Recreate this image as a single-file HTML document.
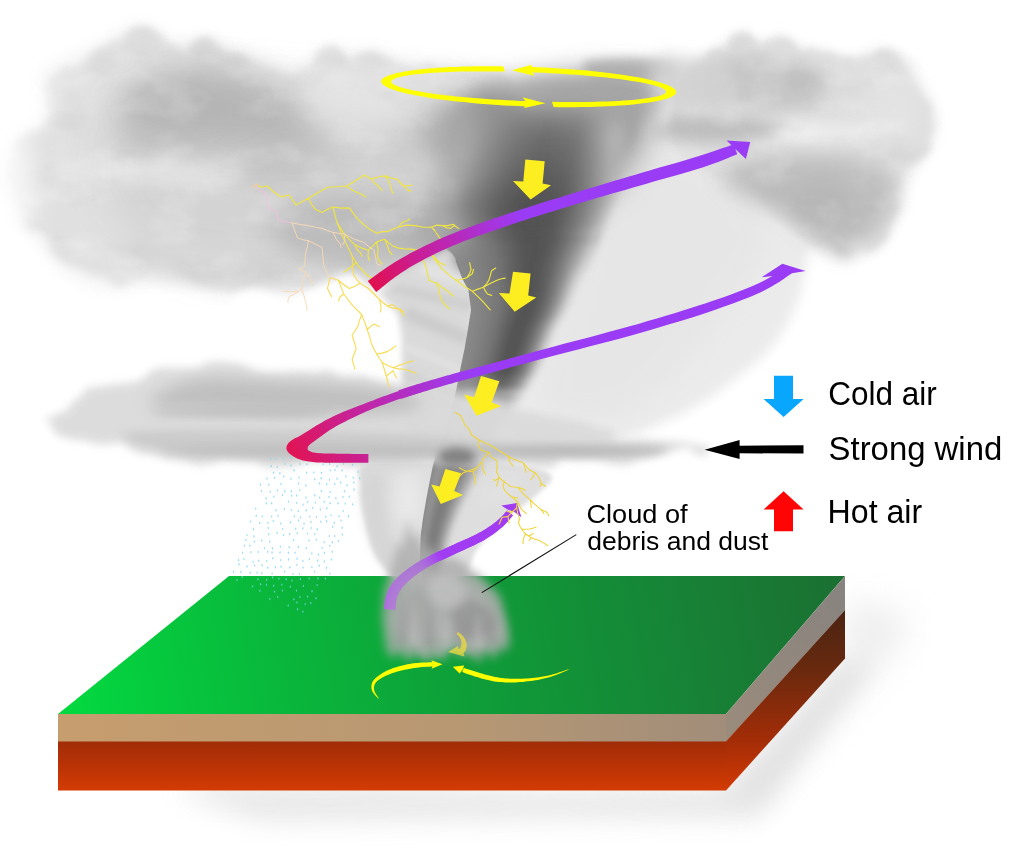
<!DOCTYPE html>
<html lang="en"><head><meta charset="utf-8"><title>Tornado formation</title>
<style>html,body{margin:0;padding:0;background:#fff;}svg{display:block;}text{font-family:"Liberation Sans",sans-serif;fill:#000;}</style></head><body>
<svg width="1024" height="850" viewBox="0 0 1024 850">
<defs>
<filter id="b1" x="-60%" y="-60%" width="220%" height="220%"><feGaussianBlur stdDeviation="1"/></filter>
<filter id="b2" x="-60%" y="-60%" width="220%" height="220%"><feGaussianBlur stdDeviation="2"/></filter>
<filter id="b3" x="-60%" y="-60%" width="220%" height="220%"><feGaussianBlur stdDeviation="3"/></filter>
<filter id="b4" x="-60%" y="-60%" width="220%" height="220%"><feGaussianBlur stdDeviation="4"/></filter>
<filter id="b5" x="-60%" y="-60%" width="220%" height="220%"><feGaussianBlur stdDeviation="5"/></filter>
<filter id="b6" x="-60%" y="-60%" width="220%" height="220%"><feGaussianBlur stdDeviation="6"/></filter>
<filter id="b8" x="-60%" y="-60%" width="220%" height="220%"><feGaussianBlur stdDeviation="8"/></filter>
<filter id="b10" x="-60%" y="-60%" width="220%" height="220%"><feGaussianBlur stdDeviation="10"/></filter>
<filter id="b12" x="-60%" y="-60%" width="220%" height="220%"><feGaussianBlur stdDeviation="12"/></filter>
<filter id="b14" x="-60%" y="-60%" width="220%" height="220%"><feGaussianBlur stdDeviation="14"/></filter>
<filter id="b16" x="-60%" y="-60%" width="220%" height="220%"><feGaussianBlur stdDeviation="16"/></filter>
<filter id="b20" x="-60%" y="-60%" width="220%" height="220%"><feGaussianBlur stdDeviation="20"/></filter>
<filter id="b26" x="-60%" y="-60%" width="220%" height="220%"><feGaussianBlur stdDeviation="26"/></filter>
<filter id="r1" x="-30%" y="-30%" width="160%" height="160%"><feTurbulence type="fractalNoise" baseFrequency="0.045" numOctaves="2" seed="3" result="n"/><feDisplacementMap in="SourceGraphic" in2="n" scale="16" xChannelSelector="R" yChannelSelector="G" result="d"/><feGaussianBlur in="d" stdDeviation="4"/></filter>
<filter id="r2" x="-30%" y="-30%" width="160%" height="160%"><feTurbulence type="fractalNoise" baseFrequency="0.045" numOctaves="2" seed="11" result="n"/><feDisplacementMap in="SourceGraphic" in2="n" scale="16" xChannelSelector="R" yChannelSelector="G" result="d"/><feGaussianBlur in="d" stdDeviation="3.5"/></filter>
<filter id="r3" x="-30%" y="-30%" width="160%" height="160%"><feTurbulence type="fractalNoise" baseFrequency="0.02 0.05" numOctaves="2" seed="5" result="n"/><feDisplacementMap in="SourceGraphic" in2="n" scale="24" xChannelSelector="R" yChannelSelector="G" result="d"/><feGaussianBlur in="d" stdDeviation="4"/></filter>
<filter id="r4" x="-30%" y="-30%" width="160%" height="160%"><feTurbulence type="fractalNoise" baseFrequency="0.06" numOctaves="3" seed="8" result="n"/><feDisplacementMap in="SourceGraphic" in2="n" scale="22" xChannelSelector="R" yChannelSelector="G" result="d"/><feGaussianBlur in="d" stdDeviation="2.2"/></filter>
<filter id="r5" x="-30%" y="-30%" width="160%" height="160%"><feTurbulence type="fractalNoise" baseFrequency="0.03" numOctaves="2" seed="21" result="n"/><feDisplacementMap in="SourceGraphic" in2="n" scale="26" xChannelSelector="R" yChannelSelector="G" result="d"/><feGaussianBlur in="d" stdDeviation="9"/></filter>
<filter id="texD" x="-5%" y="-5%" width="110%" height="110%"><feGaussianBlur in="SourceGraphic" stdDeviation="9" result="m"/><feTurbulence type="fractalNoise" baseFrequency="0.016 0.03" numOctaves="4" seed="4" result="n"/><feColorMatrix in="n" type="matrix" values="0 0 0 0 0.42  0 0 0 0 0.42  0 0 0 0 0.42  2.6 0 0 0 -1.25" result="a"/><feGaussianBlur in="a" stdDeviation="1.2" result="a2"/><feComposite in="a2" in2="m" operator="in"/></filter>
<filter id="texL" x="-5%" y="-5%" width="110%" height="110%"><feGaussianBlur in="SourceGraphic" stdDeviation="9" result="m"/><feTurbulence type="fractalNoise" baseFrequency="0.02 0.034" numOctaves="4" seed="9" result="n"/><feColorMatrix in="n" type="matrix" values="0 0 0 0 1  0 0 0 0 1  0 0 0 0 1  2.6 0 0 0 -1.25" result="a"/><feGaussianBlur in="a" stdDeviation="1.2" result="a2"/><feComposite in="a2" in2="m" operator="in"/></filter>
<linearGradient id="gGreen" gradientUnits="userSpaceOnUse" x1="70" y1="710" x2="840" y2="585"><stop offset="0" stop-color="#03d840"/><stop offset="0.22" stop-color="#08bd3c"/><stop offset="0.5" stop-color="#0e9f39"/><stop offset="0.8" stop-color="#178236"/><stop offset="1" stop-color="#1b7032"/></linearGradient>
<linearGradient id="gTan" gradientUnits="userSpaceOnUse" x1="58" y1="0" x2="728" y2="0"><stop offset="0" stop-color="#c69d6e"/><stop offset="0.6" stop-color="#b79873"/><stop offset="1" stop-color="#a18d7a"/></linearGradient>
<linearGradient id="gTanR" gradientUnits="userSpaceOnUse" x1="726" y1="728" x2="845" y2="593"><stop offset="0" stop-color="#9a8b7c"/><stop offset="1" stop-color="#88837f"/></linearGradient>
<linearGradient id="gRed" gradientUnits="userSpaceOnUse" x1="0" y1="741" x2="0" y2="791"><stop offset="0" stop-color="#a02c07"/><stop offset="1" stop-color="#d43b04"/></linearGradient>
<linearGradient id="gRedR" gradientUnits="userSpaceOnUse" x1="0" y1="610" x2="0" y2="790"><stop offset="0" stop-color="#4a2412"/><stop offset="0.3" stop-color="#65290f"/><stop offset="0.73" stop-color="#a42d07"/><stop offset="1" stop-color="#d23a04"/></linearGradient>
<linearGradient id="gP1" gradientUnits="userSpaceOnUse" x1="372" y1="287" x2="520" y2="215"><stop offset="0" stop-color="#e0104e"/><stop offset="0.35" stop-color="#c81f9a"/><stop offset="1" stop-color="#9a3cf5"/></linearGradient>
<linearGradient id="gP2" gradientUnits="userSpaceOnUse" x1="290" y1="450" x2="470" y2="375"><stop offset="0" stop-color="#e01455"/><stop offset="0.4" stop-color="#c4249f"/><stop offset="1" stop-color="#9a3cf5"/></linearGradient>
<linearGradient id="gP2b" gradientUnits="userSpaceOnUse" x1="290" y1="0" x2="369" y2="0"><stop offset="0" stop-color="#e01455"/><stop offset="1" stop-color="#c9208e"/></linearGradient>
</defs>
<rect width="1024" height="850" fill="#fff"/>
<g filter="url(#b16)" opacity="0.3">
<polygon points="200,770 726,800 760,800 905,640 905,610 845,600 845,660 726,790 200,790" fill="#c9c9c9"/>
</g>
<g filter="url(#b12)" opacity="0.42">
<polygon points="170,790 726,790 845,660 870,668 760,818 260,822" fill="#cccccc"/>
</g>
<g id="ground">
<polygon points="229,576 845,576 726,714 58,714" fill="url(#gGreen)"/>
<polygon points="58,714 726,714 726,742 58,742" fill="url(#gTan)"/>
<polygon points="726,714 845,576 845,610 726,742" fill="url(#gTanR)"/>
<polygon points="58,741.5 726,741.5 726,790.5 58,790.5" fill="url(#gRed)"/>
<polygon points="726,741.5 845,610 845,658.5 726,790.5" fill="url(#gRedR)"/>
</g>
<g id="clouds">
<path d="M610 150 L619.4 142.2 L630 136.8 L641.5 133.3 L653.4 131.6 L665.6 131.2 L677.6 131.8 L689.2 133.2 L700 135 L710.4 137.7 L720.8 142 L731.1 147.3 L741.1 153.6 L750.6 160.3 L759.6 167.1 L767.7 173.8 L775 180 L781.4 186 L787 192.3 L791.9 198.7 L796.2 205.1 L799.9 211.4 L803.1 217.4 L805.7 223 L808 228 L809.6 232.3 L810.6 235.8 L810.9 238.9 L810.7 241.7 L810.2 244.5 L809.5 247.5 L808.7 250.9 L808 255 L807.3 259.8 L806.5 265 L805.6 270.6 L804.4 276.5 L803.1 282.5 L801.6 288.5 L799.9 294.3 L798 300 L795.8 305.5 L793.5 311.1 L790.9 316.7 L788.2 322.2 L785.2 327.6 L782 332.9 L778.6 338.1 L775 343 L771.1 347.7 L766.8 352.3 L762.3 356.7 L757.6 360.9 L752.7 365.1 L747.8 369.1 L742.9 373.1 L738 377 L733.1 380.8 L728.2 384.6 L723.2 388.3 L718.2 391.9 L713.1 395.3 L708.1 398.7 L703 401.9 L698 405 L692.9 407.9 L687.8 410.8 L682.6 413.4 L677.4 416 L672.3 418.4 L667.3 420.8 L662.5 422.9 L658 425 L653.8 426.9 L650 428.5 L646.4 430 L642.9 431.4 L639.4 432.8 L635.8 434.1 L632.1 435.5 L628 437 L623.9 438.7 L619.8 440.7 L615.7 442.8 L611.5 444.9 L606.9 446.8 L601.9 448.3 L596.3 449.5 L590 450 L582.4 450.2 L573.6 450.3 L563.9 450.1 L553.9 449.6 L544 448.4 L534.7 446.6 L526.6 443.8 L520 440 L514.6 435.2 L509.6 429.5 L505.3 422.9 L501.9 415.6 L499.4 407.6 L498.2 399 L498.3 389.8 L500 380 L503.7 369.6 L509.6 358.5 L517.1 346.7 L525.6 334.4 L534.7 321.5 L543.8 308 L552.4 294.2 L560 280 L566.5 264.4 L572.3 246.9 L577.7 228.4 L583.1 209.7 L588.8 191.6 L594.9 175.1 L601.9 161Z" fill="#ebebeb" filter="url(#b6)"/>
<path d="M610 160 L618.2 152.6 L627.7 147.7 L637.9 144.8 L648.8 143.8 L659.7 144.1 L670.5 145.5 L680.7 147.6 L690 150 L698.8 153.4 L707.5 158.3 L715.9 164.4 L724.1 171.2 L731.7 178.6 L738.6 186.1 L744.8 193.3 L750 200 L754.4 206.1 L758.3 212 L761.6 217.9 L764.1 223.8 L765.7 229.8 L766.5 236.1 L766.3 242.8 L765 250 L762.3 257.8 L758.3 266.1 L753.2 274.8 L747.2 283.8 L740.6 292.9 L733.7 302 L726.8 311.1 L720 320 L713.2 329 L706.1 338.4 L698.6 348 L690.9 357.5 L683.2 366.7 L675.4 375.3 L667.6 383.2 L660 390 L652.5 396 L645 401.5 L637.5 406.4 L630 410.6 L622.5 414.2 L615 417 L607.5 418.9 L600 420 L591.9 420.5 L582.9 420.6 L573.5 420.1 L564.4 418.8 L555.9 416.3 L548.7 412.5 L543.2 407.1 L540 400 L539.4 390.7 L540.9 379.3 L544.2 366.2 L548.8 351.9 L554.1 336.7 L559.7 321 L565.2 305.3 L570 290 L574.2 273.9 L578.4 256.1 L582.5 237.4 L586.9 218.8 L591.6 200.8 L597 184.5 L603 170.6Z" fill="#e2e2e2" filter="url(#b12)" opacity="0.5"/>
<path d="M39 80 L40.4 77.1 L42.2 74.6 L44.6 72.2 L47.2 70 L50.2 67.9 L53.4 65.9 L56.7 64 L60 62 L63.6 60 L67.7 58 L72.1 56.1 L76.6 54.2 L81 52.5 L85.1 50.8 L88.9 49.3 L92 48 L94.4 46.9 L96.3 46.1 L97.8 45.4 L99 44.8 L100.1 44.3 L101.2 43.7 L102.4 42.9 L104 42 L105.8 40.8 L107.6 39.5 L109.5 38.1 L111.4 36.6 L113.5 35.1 L115.6 33.6 L117.7 32.2 L120 31 L122.4 29.8 L125 28.6 L127.7 27.5 L130.4 26.4 L133.2 25.4 L135.9 24.7 L138.5 24.2 L141 24 L143.3 24.2 L145.6 24.7 L147.8 25.5 L149.9 26.5 L152 27.6 L154.1 28.8 L156 29.9 L158 31 L159.9 32.1 L161.7 33.3 L163.5 34.6 L165.2 35.9 L166.9 37.1 L168.6 38.3 L170.3 39.2 L172 40 L173.7 40.6 L175.4 41 L177.1 41.3 L178.8 41.4 L180.5 41.5 L182.2 41.4 L184.1 41.3 L186 41 L188.1 40.5 L190.2 39.7 L192.5 38.6 L194.8 37.6 L197.1 36.5 L199.4 35.7 L201.7 35.1 L204 35 L206.3 35.3 L208.5 36 L210.8 37 L213.1 38.2 L215.4 39.5 L217.6 40.7 L219.8 42 L222 43 L224.1 43.9 L226.2 44.9 L228.2 45.8 L230.2 46.8 L232.2 47.6 L234.2 48.5 L236.1 49.3 L238 50 L239.8 50.6 L241.6 51.1 L243.4 51.5 L245.1 51.9 L246.8 52.3 L248.5 52.8 L250.3 53.3 L252 54 L253.7 54.8 L255.5 55.7 L257.2 56.7 L258.9 57.7 L260.6 58.8 L262.4 59.8 L264.2 60.9 L266 62 L267.9 63.1 L269.8 64.4 L271.8 65.7 L273.8 67 L275.8 68.2 L277.8 69.4 L279.9 70.3 L282 71 L284.2 71.5 L286.4 71.9 L288.7 72.2 L291.1 72.4 L293.4 72.3 L295.7 72.1 L297.9 71.7 L300 71 L302 70 L304 68.7 L305.9 67.1 L307.8 65.4 L309.6 63.5 L311.4 61.6 L313.2 59.8 L315 58 L316.8 56.2 L318.5 54.1 L320.3 51.9 L322 49.8 L323.7 47.8 L325.5 46.1 L327.2 44.8 L329 44 L330.9 43.8 L332.8 44.1 L334.9 44.8 L336.9 45.8 L338.8 46.9 L340.7 48 L342.5 49.1 L344 50 L345.3 50.8 L346.4 51.7 L347.4 52.7 L348.3 53.6 L349.2 54.5 L350 55.2 L351 55.7 L352 56 L353.2 56 L354.4 55.7 L355.6 55.2 L356.9 54.6 L358.2 53.9 L359.5 53.2 L360.7 52.5 L362 52 L363.2 51.5 L364.4 51 L365.6 50.5 L366.8 49.9 L368 49.5 L369.2 49.2 L370.6 49 L372 49 L373.6 49.2 L375.2 49.7 L377 50.3 L378.8 51.1 L380.6 51.8 L382.4 52.6 L384.2 53.4 L386 54 L387.6 54.6 L389.1 55.1 L390.5 55.7 L392 56.2 L393.6 56.7 L395.4 57.2 L397.5 57.6 L400 58 L402.8 58.3 L405.9 58.6 L409.2 58.8 L412.8 59 L416.6 59.2 L420.7 59.4 L425.2 59.7 L430 60 L435.4 60.3 L441.3 60.3 L447.7 60.4 L454.4 60.5 L461.1 60.8 L467.7 61.4 L474.1 62.4 L480 64 L485.8 65.6 L491.6 67 L497.5 68.4 L503.1 70.4 L508.4 73.1 L513 77.1 L517 82.6 L520 90 L522.2 100.1 L523.8 112.7 L524.7 127.2 L525 142.8 L524.7 158.6 L523.8 173.9 L522.2 188 L520 200 L517.1 210.3 L513.3 219.8 L508.8 228.5 L503.8 236.4 L498.2 243.7 L492.3 250.4 L486.2 256.4 L480 262 L473.3 266.9 L465.9 270.9 L458.1 274.2 L450 276.9 L441.9 279.3 L434.1 281.3 L426.7 283.2 L420 285 L414 286.7 L408.6 287.9 L403.5 288.9 L398.8 289.7 L394.1 290.3 L389.5 290.8 L384.9 291.4 L380 292 L375 292.6 L370.1 293.2 L365.1 293.6 L360.2 294.1 L355.2 294.5 L350.2 294.9 L345.1 295.4 L340 296 L334.6 296.8 L329 297.7 L323.3 298.7 L317.5 299.8 L311.9 300.7 L306.5 301.4 L301.5 301.9 L297 302 L293.2 301.6 L290 300.8 L287.3 299.6 L284.8 298.2 L282.3 296.9 L279.6 295.6 L276.6 294.6 L273 294 L268.8 293.8 L264.1 294 L259.1 294.4 L253.9 294.9 L248.7 295.4 L243.5 295.8 L238.6 296.1 L234 296 L229.7 295.7 L225.4 295.2 L221.2 294.5 L217.2 293.8 L213.3 292.9 L209.6 292 L206.2 291 L203 290 L200.1 288.9 L197.7 287.7 L195.4 286.5 L193.4 285.1 L191.4 283.8 L189.4 282.5 L187.3 281.2 L185 280 L182.5 278.8 L180 277.4 L177.5 276 L174.9 274.6 L172.2 273.4 L169.5 272.5 L166.8 272 L164 272 L161.1 272.6 L158.2 273.7 L155.2 275.3 L152.1 277.1 L149.1 279.1 L146 281 L143 282.7 L140 284 L137.1 285.1 L134.4 286.2 L131.7 287.3 L129 288.2 L126.2 289 L123.4 289.6 L120.3 290 L117 290 L113.4 289.7 L109.4 289.1 L105.3 288.2 L101 287.1 L96.7 285.9 L92.6 284.6 L88.6 283.3 L85 282 L81.7 280.8 L78.6 279.6 L75.7 278.5 L72.9 277.2 L70.2 275.8 L67.5 274.1 L64.8 272.2 L62 270 L59.1 267.3 L56.2 264.1 L53.2 260.7 L50.3 257 L47.4 253.3 L44.5 249.6 L41.7 246.1 L39 243 L36.3 240.3 L33.7 237.9 L31.1 235.7 L28.5 233.6 L26 231.4 L23.6 229 L21.2 226.3 L19 223 L16.8 219.1 L14.5 214.7 L12.2 209.9 L10 204.9 L8 199.8 L6.3 194.9 L4.9 190.2 L4 186 L3.6 182.2 L3.6 178.6 L3.9 175.3 L4.6 172.1 L5.4 169 L6.3 166 L7.2 163 L8 160 L8.7 157 L9.4 154 L10.2 151.1 L11 148.2 L11.9 145.4 L13.1 142.8 L14.4 140.3 L16 138 L18 136 L20.5 134.2 L23.2 132.6 L26.1 131.1 L28.9 129.6 L31.6 128.2 L34 126.7 L36 125 L37.6 123.3 L38.9 121.7 L40.1 120.2 L41 118.6 L41.8 116.8 L42.3 114.9 L42.7 112.6 L43 110 L42.9 106.9 L42.2 103.3 L41.2 99.3 L40.1 95.2 L39.2 91 L38.5 87 L38.4 83.3Z" fill="#f2f2f2" filter="url(#b8)" opacity="0.9"/>
<path d="M45 86 L46.4 83.4 L48.2 81 L50.6 78.6 L53.2 76.4 L56.2 74.2 L59.4 72.1 L62.7 70 L66 68 L69.7 66 L73.8 64 L78.3 62.1 L82.9 60.2 L87.4 58.5 L91.6 56.8 L95.2 55.3 L98 54 L99.9 52.9 L101.1 52.1 L101.7 51.4 L102 50.8 L102.2 50.3 L102.4 49.7 L102.9 48.9 L104 48 L105.5 46.8 L107.2 45.5 L109 44.1 L111.1 42.6 L113.2 41.1 L115.4 39.6 L117.7 38.2 L120 37 L122.4 35.8 L125 34.6 L127.7 33.5 L130.4 32.4 L133.2 31.4 L135.9 30.7 L138.5 30.2 L141 30 L143.3 30.2 L145.6 30.7 L147.8 31.5 L149.9 32.5 L152 33.6 L154.1 34.8 L156 35.9 L158 37 L159.9 38.1 L161.7 39.3 L163.5 40.6 L165.2 41.9 L166.9 43.1 L168.6 44.3 L170.3 45.2 L172 46 L173.7 46.6 L175.4 47 L177.1 47.3 L178.8 47.4 L180.5 47.5 L182.2 47.4 L184.1 47.3 L186 47 L188.1 46.5 L190.2 45.7 L192.5 44.6 L194.8 43.6 L197.1 42.5 L199.4 41.7 L201.7 41.1 L204 41 L206.3 41.3 L208.5 42 L210.8 43 L213.1 44.2 L215.4 45.5 L217.6 46.7 L219.8 48 L222 49 L224.1 49.9 L226.2 50.9 L228.2 51.8 L230.2 52.8 L232.2 53.6 L234.2 54.5 L236.1 55.3 L238 56 L239.8 56.6 L241.6 57.1 L243.4 57.5 L245.1 57.9 L246.8 58.3 L248.5 58.8 L250.3 59.3 L252 60 L253.7 60.8 L255.5 61.7 L257.2 62.7 L258.9 63.7 L260.6 64.8 L262.4 65.8 L264.2 66.9 L266 68 L267.9 69.1 L269.8 70.4 L271.8 71.7 L273.8 73 L275.8 74.2 L277.8 75.4 L279.9 76.3 L282 77 L284.2 77.5 L286.4 77.9 L288.7 78.2 L291.1 78.4 L293.4 78.3 L295.7 78.1 L297.9 77.7 L300 77 L302 76 L304 74.7 L305.9 73.1 L307.8 71.4 L309.6 69.5 L311.4 67.6 L313.2 65.8 L315 64 L316.8 62.2 L318.5 60.1 L320.3 57.9 L322 55.8 L323.7 53.8 L325.5 52.1 L327.2 50.8 L329 50 L330.9 49.8 L332.8 50.1 L334.9 50.8 L336.9 51.8 L338.8 52.9 L340.7 54 L342.5 55.1 L344 56 L345.3 56.8 L346.4 57.7 L347.4 58.7 L348.3 59.6 L349.2 60.5 L350 61.2 L351 61.7 L352 62 L353.2 62 L354.4 61.7 L355.6 61.2 L356.9 60.6 L358.2 59.9 L359.5 59.2 L360.7 58.5 L362 58 L363.2 57.5 L364.4 57 L365.6 56.5 L366.8 55.9 L368 55.5 L369.2 55.2 L370.6 55 L372 55 L373.6 55.2 L375.2 55.7 L377 56.3 L378.8 57.1 L380.6 57.8 L382.4 58.6 L384.2 59.4 L386 60 L387.6 60.6 L389.1 61.1 L390.5 61.7 L392 62.2 L393.6 62.7 L395.4 63.2 L397.5 63.6 L400 64 L402.8 64.3 L405.9 64.6 L409.2 64.8 L412.8 65 L416.6 65.2 L420.7 65.4 L425.2 65.7 L430 66 L435.4 66.3 L441.3 66.3 L447.7 66.4 L454.4 66.5 L461.1 66.8 L467.7 67.4 L474.1 68.4 L480 70 L485.8 71.7 L491.6 73.1 L497.5 74.7 L503.1 76.8 L508.4 79.6 L513 83.5 L517 88.9 L520 96 L522.2 105.6 L523.8 117.6 L524.7 131.4 L525 146.1 L524.7 161.1 L523.8 175.5 L522.2 188.8 L520 200 L517.1 209.5 L513.3 218.1 L508.8 226 L503.8 233.1 L498.2 239.5 L492.3 245.4 L486.2 250.9 L480 256 L473.3 260.6 L465.9 264.4 L458.1 267.7 L450 270.6 L441.9 273 L434.1 275.1 L426.7 277.1 L420 279 L414 280.7 L408.6 281.9 L403.5 282.9 L398.8 283.7 L394.1 284.3 L389.5 284.8 L384.9 285.4 L380 286 L375 286.6 L370.1 287.2 L365.1 287.6 L360.2 288.1 L355.2 288.5 L350.2 288.9 L345.1 289.4 L340 290 L334.6 290.8 L329 291.7 L323.3 292.7 L317.5 293.8 L311.9 294.7 L306.5 295.4 L301.5 295.9 L297 296 L293.2 295.6 L290 294.8 L287.3 293.6 L284.8 292.2 L282.3 290.9 L279.6 289.6 L276.6 288.6 L273 288 L268.8 287.8 L264.1 288 L259.1 288.4 L253.9 288.9 L248.7 289.4 L243.5 289.8 L238.6 290.1 L234 290 L229.7 289.7 L225.4 289.2 L221.2 288.5 L217.2 287.8 L213.3 286.9 L209.6 286 L206.2 285 L203 284 L200.1 282.9 L197.7 281.7 L195.4 280.5 L193.4 279.1 L191.4 277.8 L189.4 276.5 L187.3 275.2 L185 274 L182.5 272.8 L180 271.4 L177.5 270 L174.9 268.6 L172.2 267.4 L169.5 266.5 L166.8 266 L164 266 L161.1 266.6 L158.2 267.7 L155.2 269.3 L152.1 271.1 L149.1 273.1 L146 275 L143 276.7 L140 278 L137.1 279.1 L134.2 280.2 L131.4 281.3 L128.6 282.2 L125.8 283 L122.9 283.6 L120 284 L117 284 L113.9 283.7 L110.6 283.1 L107.3 282.2 L104 281.1 L100.7 279.9 L97.4 278.6 L94.1 277.3 L91 276 L88 274.8 L85 273.6 L82.2 272.5 L79.3 271.2 L76.5 269.8 L73.7 268.1 L70.9 266.2 L68 264 L65.1 261.3 L62.2 258 L59.2 254.4 L56.3 250.6 L53.4 246.8 L50.5 243.2 L47.7 239.9 L45 237 L42.3 234.8 L39.7 233.1 L37.1 231.8 L34.5 230.6 L32 229.4 L29.6 227.8 L27.2 225.8 L25 223 L22.8 219.4 L20.5 215.1 L18.2 210.3 L16 205.2 L14 200.1 L12.3 195 L10.9 190.3 L10 186 L9.6 182.2 L9.6 178.6 L9.9 175.3 L10.6 172.1 L11.4 169 L12.3 166 L13.2 163 L14 160 L14.7 157 L15.4 154 L16.2 151.1 L17 148.2 L17.9 145.4 L19.1 142.8 L20.4 140.3 L22 138 L24 136 L26.5 134.2 L29.2 132.6 L32.1 131.1 L34.9 129.6 L37.6 128.2 L40 126.7 L42 125 L43.6 123.3 L44.9 121.6 L46.1 119.9 L47 118.2 L47.8 116.4 L48.3 114.4 L48.7 112.3 L49 110 L48.9 107.4 L48.2 104.5 L47.2 101.4 L46.1 98.2 L45.2 95 L44.5 91.8 L44.4 88.8Z" fill="#e0e0e0" filter="url(#r1)" opacity="0.95"/>
<path d="M110 120 L114 114.2 L118.5 108.3 L123.6 102.3 L129.4 96.6 L135.8 91.3 L143 86.7 L151.1 82.8 L160 80 L170.3 78.4 L182.2 77.9 L195.2 78.2 L208.8 79.1 L222.5 80.4 L235.9 81.8 L248.6 83.1 L260 84 L270 84.6 L279.1 85 L287.6 85.5 L295.6 86 L303.6 86.6 L311.8 87.5 L320.5 88.6 L330 90 L340.6 91.7 L352 93.5 L364 95.6 L376.2 97.9 L388.3 100.4 L399.8 103.3 L410.5 106.4 L420 110 L428.5 113.8 L436.5 117.7 L443.9 121.8 L450.6 126.2 L456.7 131.2 L462 136.7 L466.4 142.9 L470 150 L472.7 158.4 L474.7 168.3 L475.9 179.2 L476.2 190.5 L475.9 201.8 L474.7 212.4 L472.7 222 L470 230 L466.6 236.5 L462.7 241.9 L458 246.6 L452.5 250.5 L446.1 253.9 L438.6 256.8 L429.9 259.5 L420 262 L408.2 264.3 L394.5 266.1 L379.2 267.5 L363.1 268.5 L346.6 269.2 L330.2 269.7 L314.5 269.9 L300 270 L286.3 269.9 L272.9 269.7 L259.7 269.2 L246.9 268.5 L234.4 267.5 L222.4 266.1 L210.9 264.3 L200 262 L189.5 259.3 L179.5 256.3 L169.8 253 L160.6 249.2 L152 245.1 L144 240.5 L136.6 235.5 L130 230 L124.1 223.8 L118.8 216.7 L114.1 209.1 L110 201.1 L106.6 193 L103.8 185 L101.6 177.2 L100 170 L99.1 163.2 L98.8 156.6 L99.1 150.1 L100 143.8 L101.6 137.6 L103.8 131.6 L106.6 125.7Z" fill="#d2d2d2" filter="url(#b20)" opacity="0.9"/>
<path d="M690 70 L691.7 66 L693.2 63.1 L694.4 61 L695.5 59.6 L696.5 58.6 L697.6 57.9 L698.7 57.1 L700 56 L701.4 54.9 L702.8 54 L704.3 53.2 L705.8 52.6 L707.4 52 L708.9 51.4 L710.5 50.7 L712 50 L713.6 49.2 L715.2 48.3 L716.9 47.5 L718.5 46.6 L720.2 45.7 L721.7 44.8 L723.3 43.9 L724.7 43 L726 42 L727.3 41 L728.5 39.9 L729.6 38.9 L730.7 37.8 L731.8 36.8 L732.9 35.9 L734 35 L735.1 34.2 L736.1 33.3 L737.2 32.4 L738.2 31.6 L739.2 30.9 L740.2 30.4 L741.3 30.1 L742.4 30 L743.6 30.2 L744.8 30.7 L746 31.4 L747.2 32.2 L748.5 33.2 L749.7 34.2 L750.9 35.1 L752 36 L753.1 36.9 L754.1 38 L755 39.1 L756 40.2 L756.9 41.2 L757.9 42.1 L758.9 42.7 L760 43 L761.1 42.9 L762.3 42.5 L763.6 41.9 L764.8 41.1 L766.1 40.2 L767.4 39.4 L768.7 38.6 L770 38 L771.3 37.5 L772.7 37 L774.1 36.6 L775.6 36.2 L777 35.8 L778.4 35.6 L779.7 35.5 L781 35.5 L782.2 35.7 L783.4 36.1 L784.5 36.7 L785.6 37.3 L786.7 38 L787.8 38.7 L788.9 39.4 L790 40 L791 40.6 L791.9 41.2 L792.7 41.8 L793.5 42.5 L794.5 43.1 L795.7 43.7 L797.1 44.4 L799 45 L801.3 45.6 L803.9 46.2 L806.9 46.8 L810 47.4 L813.4 48.1 L816.7 48.7 L820.1 49.3 L823.5 50 L826.9 50.8 L830.5 51.7 L834.3 52.7 L838 53.7 L841.8 54.6 L845.3 55.3 L848.7 55.8 L851.8 56 L854.6 55.8 L857.1 55.2 L859.4 54.5 L861.6 53.5 L863.7 52.5 L865.8 51.5 L867.9 50.6 L870 50 L872.2 49.5 L874.4 49 L876.6 48.6 L878.8 48.2 L881 48 L883.1 47.8 L885.1 47.8 L887 48 L888.8 48.3 L890.6 48.9 L892.2 49.5 L893.8 50.3 L895.4 51.2 L896.9 52.1 L898.5 53.1 L900 54 L901.5 54.9 L903.1 55.7 L904.6 56.5 L906.1 57.3 L907.5 58.4 L909 59.6 L910.4 61.1 L911.8 63 L913.2 65.3 L914.5 68.1 L915.7 71.1 L917 74.3 L918.2 77.7 L919.5 81.1 L920.9 84.4 L922.4 87.6 L924.1 90.7 L926 93.8 L928.1 97 L930.1 100.1 L932.1 103.2 L933.9 106.2 L935.4 109.2 L936.5 112 L937.2 114.7 L937.5 117.3 L937.6 119.9 L937.5 122.3 L937.2 124.8 L936.9 127.2 L936.4 129.6 L936 132 L935.6 134.4 L935.2 136.7 L934.7 138.9 L934.1 141.2 L933.4 143.5 L932.5 145.9 L931.4 148.3 L930 151 L928.2 153.9 L926.1 157.1 L923.6 160.4 L921 163.8 L918.4 167.2 L915.9 170.4 L913.8 173.4 L912 176 L910.7 178.3 L909.6 180.2 L908.8 181.9 L908.1 183.5 L907.6 185 L907.1 186.5 L906.6 188.2 L906 190 L905.5 192 L905.1 193.9 L904.8 195.9 L904.5 197.9 L904.1 200.1 L903.7 202.4 L903 204.9 L902 207.6 L900.7 210.8 L899 214.4 L897.1 218.3 L895.1 222.3 L893.1 226.2 L891.2 229.9 L889.4 233.3 L888 236 L886.9 238.1 L886.1 239.8 L885.5 241.2 L884.9 242.3 L884.4 243.2 L883.8 244.1 L883 245 L882 246 L880.7 247.1 L879.3 248.3 L877.7 249.4 L876.1 250.5 L874.4 251.5 L872.7 252.5 L871 253.3 L869.4 254 L867.8 254.5 L866.3 254.8 L864.7 255 L863.2 255.1 L861.6 255.1 L860.1 255.3 L858.5 255.6 L857 256 L855.5 256.7 L854 257.8 L852.5 259 L851 260.2 L849.5 261.3 L847.9 262.3 L846.4 262.9 L844.7 263 L843 262.6 L841.2 261.8 L839.3 260.6 L837.4 259.2 L835.5 257.7 L833.6 256.3 L831.8 255 L830 254 L828.3 253.3 L826.8 252.9 L825.3 252.6 L823.9 252.3 L822.3 252 L820.6 251.6 L818.7 250.9 L816.5 250 L813.9 248.8 L811.1 247.5 L808.1 246.1 L804.9 244.5 L801.6 242.7 L798.2 240.7 L795 238.5 L791.8 236 L788.7 233.1 L785.5 229.9 L782.3 226.4 L779.2 222.7 L776 218.9 L772.9 215 L769.9 211.2 L767 207.6 L764.4 203.9 L762.1 200.1 L759.9 196.2 L757.8 192.3 L755.5 188.6 L752.9 185.1 L749.8 182 L746 179.4 L741.3 177.5 L735.9 176.4 L729.9 175.8 L723.6 175.4 L717.2 174.9 L711 174.1 L705.2 172.5 L700 170 L695.1 166.6 L690.2 162.6 L685.4 158.1 L680.9 153.2 L676.9 147.8 L673.6 142.1 L671.2 136.2 L670 130 L670.2 123.1 L671.7 115.3 L674.3 106.9 L677.5 98.4 L681 90 L684.5 82.2 L687.6 75.4Z" fill="#ebebeb" filter="url(#b6)" opacity="0.9"/>
<path d="M690 75 L691.7 71.2 L693.2 68.4 L694.4 66.4 L695.5 64.9 L696.5 63.9 L697.6 63 L698.7 62.1 L700 61 L701.4 59.9 L702.8 59 L704.3 58.2 L705.8 57.6 L707.4 57 L708.9 56.4 L710.5 55.7 L712 55 L713.6 54.2 L715.2 53.3 L716.9 52.5 L718.5 51.6 L720.2 50.7 L721.7 49.8 L723.3 48.9 L724.7 48 L726 47 L727.3 46 L728.5 44.9 L729.6 43.9 L730.7 42.8 L731.8 41.8 L732.9 40.9 L734 40 L735.1 39.2 L736.1 38.3 L737.2 37.4 L738.2 36.6 L739.2 35.9 L740.2 35.4 L741.3 35.1 L742.4 35 L743.6 35.2 L744.8 35.7 L746 36.4 L747.2 37.2 L748.5 38.2 L749.7 39.2 L750.9 40.1 L752 41 L753.1 41.9 L754.1 43 L755 44.1 L756 45.2 L756.9 46.2 L757.9 47.1 L758.9 47.7 L760 48 L761.1 47.9 L762.3 47.5 L763.6 46.9 L764.8 46.1 L766.1 45.2 L767.4 44.4 L768.7 43.6 L770 43 L771.3 42.5 L772.7 42 L774.1 41.6 L775.6 41.2 L777 40.8 L778.4 40.6 L779.7 40.5 L781 40.5 L782.2 40.7 L783.4 41.1 L784.5 41.7 L785.6 42.3 L786.7 43 L787.8 43.7 L788.9 44.4 L790 45 L791 45.6 L791.9 46.2 L792.7 46.8 L793.5 47.5 L794.5 48.1 L795.7 48.7 L797.1 49.4 L799 50 L801.3 50.6 L803.9 51.2 L806.9 51.8 L810 52.4 L813.4 53.1 L816.7 53.7 L820.1 54.3 L823.5 55 L826.9 55.8 L830.5 56.7 L834.3 57.7 L838 58.7 L841.8 59.6 L845.3 60.3 L848.7 60.8 L851.8 61 L854.6 60.8 L857.1 60.2 L859.4 59.5 L861.6 58.5 L863.7 57.5 L865.8 56.5 L867.9 55.6 L870 55 L872.2 54.5 L874.5 54 L876.9 53.6 L879.1 53.2 L881.3 53 L883.4 52.8 L885.3 52.8 L887 53 L888.4 53.3 L889.5 53.9 L890.5 54.5 L891.3 55.3 L892.1 56.2 L892.9 57.1 L893.9 58.1 L895 59 L896.3 59.9 L897.7 60.8 L899.2 61.7 L900.7 62.6 L902.3 63.7 L903.8 64.9 L905.4 66.3 L906.8 68 L908.2 69.9 L909.5 72 L910.7 74.4 L912 76.8 L913.2 79.4 L914.5 82.1 L915.9 84.8 L917.4 87.6 L919.1 90.5 L921 93.5 L923.1 96.6 L925.1 99.8 L927.1 103 L928.9 106.1 L930.4 109.1 L931.5 112 L932.2 114.7 L932.5 117.3 L932.6 119.9 L932.5 122.3 L932.2 124.8 L931.9 127.2 L931.4 129.6 L931 132 L930.6 134.4 L930.2 136.7 L929.7 138.9 L929.1 141.2 L928.4 143.5 L927.5 145.9 L926.4 148.3 L925 151 L923.2 153.9 L921.1 157.1 L918.6 160.4 L916 163.8 L913.4 167.2 L910.9 170.4 L908.8 173.4 L907 176 L905.7 178.3 L904.6 180.2 L903.8 181.9 L903.1 183.5 L902.6 185 L902.1 186.5 L901.6 188.2 L901 190 L900.4 192 L900 194 L899.6 196.1 L899.2 198.2 L898.8 200.4 L898.3 202.7 L897.7 205.1 L897 207.6 L896.1 210.3 L895 213.4 L893.9 216.5 L892.6 219.8 L891.4 223 L890.2 226 L889 228.7 L888 231 L887.2 232.9 L886.4 234.5 L885.8 235.8 L885.2 237 L884.6 238 L883.9 239 L883 239.9 L882 241 L880.7 242.1 L879.3 243.3 L877.7 244.4 L876.1 245.5 L874.4 246.5 L872.7 247.5 L871 248.3 L869.4 249 L867.8 249.5 L866.3 249.8 L864.7 250 L863.2 250.1 L861.6 250.1 L860.1 250.3 L858.5 250.6 L857 251 L855.5 251.7 L854 252.8 L852.5 254 L851 255.2 L849.5 256.3 L847.9 257.3 L846.4 257.9 L844.7 258 L843 257.6 L841.2 256.8 L839.3 255.6 L837.4 254.2 L835.5 252.7 L833.6 251.3 L831.8 250 L830 249 L828.3 248.3 L826.8 247.9 L825.3 247.6 L823.9 247.3 L822.3 247 L820.6 246.6 L818.7 245.9 L816.5 245 L813.9 243.8 L811.1 242.4 L808.1 240.9 L804.9 239.2 L801.6 237.4 L798.2 235.4 L795 233.3 L791.8 231 L788.7 228.6 L785.5 225.9 L782.3 223.1 L779.2 220.2 L776 217.1 L772.9 214 L769.9 210.8 L767 207.6 L764.4 204.2 L762.1 200.4 L759.9 196.6 L757.8 192.6 L755.5 188.8 L752.9 185.2 L749.8 182.1 L746 179.4 L741.3 177.5 L735.9 176.4 L729.9 175.8 L723.6 175.4 L717.2 174.9 L711 174.1 L705.2 172.5 L700 170 L695.1 166.6 L690.2 162.5 L685.4 157.9 L680.9 152.8 L676.9 147.4 L673.6 141.8 L671.2 135.9 L670 130 L670.2 123.6 L671.7 116.3 L674.3 108.7 L677.5 100.9 L681 93.3 L684.5 86.2 L687.6 80Z" fill="#dedede" filter="url(#r2)" opacity="0.95"/>
<circle cx="141" cy="45" r="18" fill="#dcdcdc" filter="url(#b4)" opacity="0.85"/>
<circle cx="204" cy="55" r="16" fill="#dcdcdc" filter="url(#b4)" opacity="0.85"/>
<circle cx="104" cy="62" r="14" fill="#dcdcdc" filter="url(#b4)" opacity="0.85"/>
<circle cx="172" cy="60" r="12" fill="#dcdcdc" filter="url(#b4)" opacity="0.85"/>
<circle cx="236" cy="66" r="11" fill="#dcdcdc" filter="url(#b4)" opacity="0.85"/>
<circle cx="329" cy="62" r="15" fill="#dcdcdc" filter="url(#b4)" opacity="0.85"/>
<circle cx="372" cy="67" r="13" fill="#dcdcdc" filter="url(#b4)" opacity="0.85"/>
<ellipse cx="10" cy="190" rx="24" ry="72" fill="#ffffff" filter="url(#b12)" opacity="0.7"/>
<ellipse cx="36" cy="100" rx="20" ry="30" fill="#ffffff" filter="url(#b10)" opacity="0.5"/>
<path d="M120 110 L121.9 106.4 L124.6 102.4 L127.8 98.2 L131.6 94.1 L135.7 90 L140.3 86.2 L145.1 82.8 L150 80 L155.2 77.7 L160.9 75.7 L166.8 74 L173.1 72.6 L179.6 71.6 L186.3 70.8 L193.1 70.3 L200 70 L207.2 70 L214.8 70.4 L222.6 71.1 L230.6 72 L238.5 73.2 L246.2 74.6 L253.4 76.2 L260 78 L266 80 L271.6 82.2 L276.9 84.7 L281.9 87.3 L286.6 90.2 L291.2 93.3 L295.6 96.5 L300 100 L304.6 103.9 L309.6 108.3 L314.6 113 L319.4 117.8 L323.6 122.6 L327 127.2 L329.2 131.4 L330 135 L329.4 138.1 L327.7 141 L324.9 143.5 L321.2 145.8 L316.8 147.8 L311.7 149.5 L306.1 150.9 L300 152 L293.2 152.7 L285.3 152.9 L276.7 152.7 L267.5 152.3 L258 151.7 L248.4 151.1 L239 150.5 L230 150 L221 149.6 L211.7 149.3 L202.2 149 L192.8 148.6 L183.7 148.1 L175 147.5 L167.1 146.8 L160 146 L153.7 145.1 L148.1 144.1 L143 143 L138.4 141.8 L134.4 140.5 L130.8 138.9 L127.7 137.1 L125 135 L122.7 132.6 L120.8 129.9 L119.4 126.9 L118.4 123.7 L118 120.4 L118.1 116.9 L118.7 113.5Z" fill="#b6b6b6" filter="url(#b16)" opacity="0.9"/>
<ellipse cx="190" cy="104" rx="60" ry="18" fill="#b0b0b0" filter="url(#b12)" opacity="0.5"/>
<ellipse cx="150" cy="174" rx="95" ry="12" fill="#ececec" filter="url(#b10)" opacity="0.7"/>
<ellipse cx="355" cy="98" rx="62" ry="30" fill="#e6e6e6" filter="url(#b14)" opacity="0.8"/>
<path d="M275 215 L278.9 212 L284.2 209 L290.6 206.2 L297.8 203.6 L305.6 201.2 L313.8 199.2 L322 197.4 L330 196 L338.2 195 L347.1 194.2 L356.5 193.8 L365.9 193.6 L375.3 193.8 L384.3 194.2 L392.6 195 L400 196 L406.8 197.4 L413.3 199 L419.4 201 L425 203.3 L430 205.9 L434.2 208.7 L437.6 211.7 L440 215 L441.4 218.7 L442 223 L441.7 227.7 L440.6 232.6 L438.9 237.4 L436.5 242.1 L433.5 246.3 L430 250 L425.7 253.2 L420.5 256.2 L414.6 258.9 L408.1 261.3 L401.2 263.5 L394.1 265.3 L387 266.8 L380 268 L372.8 268.8 L365.2 269.4 L357.4 269.5 L349.4 269.4 L341.5 269 L333.8 268.3 L326.6 267.3 L320 266 L313.8 264.3 L307.8 262.3 L302 259.9 L296.6 257.2 L291.6 254.4 L287.1 251.3 L283.2 248.2 L280 245 L277.3 241.6 L274.9 237.9 L272.9 233.9 L271.6 229.9 L270.9 225.8 L271.2 221.9 L272.5 218.3Z" fill="#b4b4b4" filter="url(#b14)" opacity="0.75"/>
<ellipse cx="290" cy="165" rx="60" ry="14" fill="#bcbcbc" filter="url(#b12)" opacity="0.6"/>
<ellipse cx="215" cy="274" rx="72" ry="9" fill="#c8c8c8" filter="url(#b8)" opacity="0.6"/>
<path d="M445 118 L449.5 114.3 L455.8 110.4 L463.3 106.6 L471.6 103.5 L479.9 101.4 L487.8 100.8 L494.7 102.2 L500 106 L504 113 L507.2 123 L509.8 135.3 L511.8 149 L513.2 163.2 L514 177 L514.3 189.5 L514 200 L513.1 208.8 L511.6 216.8 L509.4 224.2 L506.8 231 L503.6 237.1 L500 242.7 L496.1 247.6 L492 252 L487.3 255.8 L481.9 258.8 L476 261.3 L469.8 263.1 L463.4 264.5 L457.2 265.4 L451.3 265.8 L446 266 L440.8 265.8 L435.4 265.4 L430.1 264.5 L425 263.1 L420.4 261.3 L416.6 258.8 L413.7 255.8 L412 252 L411.8 247.2 L412.9 241.4 L415 234.8 L417.9 227.6 L421.1 220.3 L424.4 213 L427.5 206.2 L430 200 L432.2 194.4 L434.5 189.2 L436.9 184.2 L439.2 179.4 L441.3 174.6 L443.2 169.9 L444.8 165 L446 160 L446.3 154.6 L445.6 148.9 L444.4 143.1 L443.1 137.2 L442 131.6 L441.7 126.4 L442.6 121.8Z" fill="#9c9c9c" filter="url(#b14)" opacity="0.75"/>
<circle cx="743" cy="48" r="15" fill="#dedede" filter="url(#b4)" opacity="0.85"/>
<circle cx="781" cy="52" r="15" fill="#dedede" filter="url(#b4)" opacity="0.85"/>
<circle cx="720" cy="62" r="13" fill="#dedede" filter="url(#b4)" opacity="0.85"/>
<circle cx="812" cy="62" r="13" fill="#dedede" filter="url(#b4)" opacity="0.85"/>
<circle cx="887" cy="64" r="14" fill="#dedede" filter="url(#b4)" opacity="0.85"/>
<circle cx="850" cy="70" r="12" fill="#dedede" filter="url(#b4)" opacity="0.85"/>
<path d="M703 72 L705 69.7 L707.7 67.6 L710.9 65.6 L714.6 63.8 L718.4 62.1 L722.4 60.6 L726.3 59.2 L730 58 L733.5 56.9 L737.1 56 L740.6 55.2 L744.2 54.6 L747.9 54.2 L751.7 53.9 L755.8 53.9 L760 54 L764.6 54.4 L769.7 55 L775 55.8 L780.4 56.8 L785.7 57.9 L790.9 59.2 L795.7 60.5 L800 62 L803.9 63.6 L807.7 65.3 L811.3 67.2 L814.6 69.1 L817.6 71.2 L820.2 73.4 L822.4 75.7 L824 78 L825.2 80.5 L826 83.4 L826.5 86.3 L826.5 89.4 L826.1 92.4 L825.2 95.2 L823.9 97.8 L822 100 L819.6 101.9 L816.5 103.6 L813 105.2 L809 106.5 L804.6 107.7 L800 108.6 L795.1 109.4 L790 110 L784.5 110.4 L778.4 110.6 L772 110.6 L765.2 110.4 L758.5 110 L751.9 109.5 L745.7 108.8 L740 108 L734.6 107.1 L729.2 106 L723.9 104.8 L718.9 103.4 L714.3 101.8 L710.2 100.1 L706.7 98.1 L704 96 L702 93.5 L700.6 90.6 L699.8 87.4 L699.6 84.1 L699.8 80.8 L700.5 77.6 L701.5 74.6Z" fill="#c4c4c4" filter="url(#b8)" opacity="0.8"/>
<ellipse cx="790" cy="86" rx="30" ry="14" fill="#bcbcbc" filter="url(#b8)" opacity="0.5"/>
<ellipse cx="822" cy="133" rx="58" ry="10" fill="#f2f2f2" filter="url(#b8)" opacity="0.75"/>
<path d="M722 172 L726.3 169.5 L733 167 L741.4 164.5 L751 162.2 L761.2 160.2 L771.5 158.4 L781.3 157 L790 156 L798 155.5 L806.1 155.4 L814.1 155.7 L821.9 156.2 L829.5 157 L836.7 158 L843.6 159 L850 160 L856 161 L861.8 162.1 L867.3 163.2 L872.4 164.5 L877.1 166 L881.3 167.7 L884.9 169.7 L888 172 L890.4 174.7 L892.3 177.9 L893.6 181.3 L894.4 185 L894.8 188.8 L894.8 192.6 L894.5 196.4 L894 200 L893.1 203.6 L891.7 207.2 L889.9 210.9 L887.8 214.6 L885.4 218.2 L882.9 221.7 L880.4 225 L878 228 L875.5 230.8 L872.7 233.4 L869.8 235.9 L866.9 238.2 L863.9 240.4 L861.1 242.4 L858.4 244.3 L856 246 L854 247.6 L852.2 249.3 L850.7 250.8 L849.3 252.1 L847.9 253.2 L846.2 253.9 L844.3 254.2 L842 254 L839.3 253.2 L836.2 251.9 L833 250.1 L829.5 248 L825.9 245.6 L822.3 243.1 L818.6 240.5 L815 238 L811.5 235.3 L808 232.4 L804.5 229.3 L801 226.1 L797.3 222.9 L793.5 219.8 L789.4 216.8 L785 214 L780.1 211.5 L774.6 209.2 L768.8 207.1 L762.9 205 L757 202.9 L751.4 200.8 L746.4 198.5 L742 196 L737.8 193.2 L733.3 190.2 L728.9 187.1 L725.1 183.9 L722 180.7 L720.3 177.6 L720.1 174.7Z" fill="#b8b8b8" filter="url(#b10)" opacity="0.85"/>
<ellipse cx="820" cy="204" rx="30" ry="20" fill="#b0b0b0" filter="url(#b8)" opacity="0.5"/>
<ellipse cx="895" cy="112" rx="28" ry="42" fill="#e8e8e8" filter="url(#b12)" opacity="0.5"/>
<ellipse cx="715" cy="130" rx="66" ry="12" fill="#a8a8a8" filter="url(#b8)" opacity="0.65"/>
<path d="M45 86 L46.9 82.6 L49.7 79.4 L53.2 76.4 L57.3 73.5 L61.6 70.7 L66 68 L71 65.3 L76.8 62.7 L82.9 60.2 L88.9 57.9 L94 55.8 L98 54 L100.4 52.6 L101.6 51.6 L102 50.8 L102.2 50.1 L102.7 49.2 L104 48 L106 46.4 L108.4 44.6 L111.1 42.6 L113.9 40.6 L116.9 38.7 L120 37 L123.3 35.4 L126.8 33.9 L130.4 32.4 L134.1 31.1 L137.7 30.3 L141 30 L144.1 30.3 L147.1 31.2 L149.9 32.5 L152.7 34 L155.4 35.6 L158 37 L160.5 38.5 L162.9 40.1 L165.2 41.9 L167.4 43.5 L169.7 44.9 L172 46 L174.3 46.7 L176.5 47.2 L178.8 47.4 L181 47.5 L183.4 47.3 L186 47 L188.8 46.2 L191.7 45 L194.8 43.6 L197.9 42.2 L201 41.3 L204 41 L207 41.5 L210.1 42.7 L213.1 44.2 L216.1 45.9 L219.1 47.6 L222 49 L224.8 50.3 L227.6 51.5 L230.2 52.8 L232.9 53.9 L235.5 55 L238 56 L240.4 56.8 L242.8 57.4 L245.1 57.9 L247.4 58.5 L249.7 59.1 L252 60 L254.3 61.1 L256.6 62.3 L258.9 63.7 L261.2 65.1 L263.6 66.6 L266 68 L268.5 69.5 L271.1 71.3 L273.8 73 L276.4 74.6 L279.2 76 L282 77 L284.9 77.7 L288 78.1 L291.1 78.4 L294.1 78.3 L297.2 77.9 L300 77 L302.7 75.6 L305.3 73.7 L307.8 71.4 L310.2 68.9 L312.6 66.4 L315 64 L317.4 61.5 L319.7 58.7 L322 55.8 L324.3 53.2 L326.6 51.2 L329 50 L331.5 49.8 L334.2 50.5 L336.9 51.8 L339.5 53.3 L341.9 54.8 L344 56 L345.7 57.1 L347.1 58.4 L348.3 59.6 L349.4 60.7 L350.6 61.6 L352 62 L353.6 61.9 L355.2 61.4 L356.9 60.6 L358.6 59.6 L360.3 58.7 L362 58 L363.6 57.3 L365.2 56.6 L366.8 55.9 L368.4 55.4 L370.1 55 L372 55 L374.1 55.4 L376.4 56.1 L378.8 57.1 L381.2 58.1 L383.6 59.1 L386 60 L388.1 60.7 L390.1 61.5 L392 62.2 L394.1 62.9 L396.7 63.5 L400 64 L403.8 64.4 L408.1 64.7 L412.8 65 L417.9 65.3 L423.7 65.6 L430 66 L437.3 66.3 L445.6 66.4 L454.4 66.5 L463.3 67 L472 68 L480 70 L487.7 72.2 L495.6 74.1 L503.1 76.8 L510 80.7 L515.8 86.9 L520 96 L522.8 109.4 L524.4 126.7 L525 146.1 L524.4 166 L522.8 184.5 L520 200 L515.9 212.5 L510.4 223.4 L503.8 233.1 L496.3 241.6 L488.3 249.1 L480 256 L470.9 261.9 L460.7 266.7 L450 270.6 L439.3 273.7 L429.1 276.5 L420 279 L412.2 281.1 L405.2 282.6 L398.8 283.7 L392.6 284.5 L386.4 285.2 L380 286 L373.4 286.8 L366.8 287.5 L360.2 288.1 L353.6 288.6 L346.8 289.3 L340 290 L332.8 291 L325.2 292.4 L317.5 293.8 L310 295 L303.1 295.8 L297 296 L292.1 295.4 L288.1 294 L284.8 292.2 L281.4 290.4 L277.6 288.9 L273 288 L267.3 287.8 L260.8 288.2 L253.9 288.9 L247 289.6 L240.2 290 L234 290 L228.2 289.5 L222.6 288.7 L217.2 287.8 L212.1 286.6 L207.3 285.3 L203 284 L199.3 282.5 L196.1 280.9 L193.4 279.1 L190.7 277.3 L188 275.6 L185 274 L181.7 272.3 L178.3 270.4 L174.9 268.6 L171.3 267.1 L167.7 266.2 L164 266 L160.2 266.9 L156.2 268.7 L152.1 271.1 L148 273.7 L144 276.1 L140 278 L136.1 279.5 L132.4 281 L128.6 282.2 L124.9 283.3 L121 283.9 L117 284 L112.8 283.5 L108.4 282.5 L104 281.1 L99.6 279.5 L95.2 277.7 L91 276 L87 274.4 L83.1 272.9 L79.3 271.2 L75.6 269.3 L71.8 266.9 L68 264 L64.1 260.2 L60.2 255.6 L56.3 250.6 L52.4 245.6 L48.7 240.9 L45 237 L41.4 234.2 L37.9 232.2 L34.5 230.6 L31.2 228.9 L28 226.5 L25 223 L22 218 L18.9 212 L16 205.2 L13.4 198.4 L11.3 191.8 L10 186 L9.5 181 L9.8 176.4 L10.6 172.1 L11.7 168 L12.9 164 L14 160 L15 156 L15.9 152 L17 148.2 L18.3 144.5 L19.9 141.1 L22 138 L24.8 135.3 L28.3 133.1 L32.1 131.1 L35.9 129.1 L39.3 127.2 L42 125 L44 122.7 L45.7 120.5 L47 118.2 L48 115.7 L48.6 113 L49 110 L48.7 106.5 L47.6 102.4 L46.1 98.2 L44.9 93.9 L44.3 89.8Z" fill="#000" filter="url(#texD)" opacity="0.16"/>
<path d="M45 86 L46.9 82.6 L49.7 79.4 L53.2 76.4 L57.3 73.5 L61.6 70.7 L66 68 L71 65.3 L76.8 62.7 L82.9 60.2 L88.9 57.9 L94 55.8 L98 54 L100.4 52.6 L101.6 51.6 L102 50.8 L102.2 50.1 L102.7 49.2 L104 48 L106 46.4 L108.4 44.6 L111.1 42.6 L113.9 40.6 L116.9 38.7 L120 37 L123.3 35.4 L126.8 33.9 L130.4 32.4 L134.1 31.1 L137.7 30.3 L141 30 L144.1 30.3 L147.1 31.2 L149.9 32.5 L152.7 34 L155.4 35.6 L158 37 L160.5 38.5 L162.9 40.1 L165.2 41.9 L167.4 43.5 L169.7 44.9 L172 46 L174.3 46.7 L176.5 47.2 L178.8 47.4 L181 47.5 L183.4 47.3 L186 47 L188.8 46.2 L191.7 45 L194.8 43.6 L197.9 42.2 L201 41.3 L204 41 L207 41.5 L210.1 42.7 L213.1 44.2 L216.1 45.9 L219.1 47.6 L222 49 L224.8 50.3 L227.6 51.5 L230.2 52.8 L232.9 53.9 L235.5 55 L238 56 L240.4 56.8 L242.8 57.4 L245.1 57.9 L247.4 58.5 L249.7 59.1 L252 60 L254.3 61.1 L256.6 62.3 L258.9 63.7 L261.2 65.1 L263.6 66.6 L266 68 L268.5 69.5 L271.1 71.3 L273.8 73 L276.4 74.6 L279.2 76 L282 77 L284.9 77.7 L288 78.1 L291.1 78.4 L294.1 78.3 L297.2 77.9 L300 77 L302.7 75.6 L305.3 73.7 L307.8 71.4 L310.2 68.9 L312.6 66.4 L315 64 L317.4 61.5 L319.7 58.7 L322 55.8 L324.3 53.2 L326.6 51.2 L329 50 L331.5 49.8 L334.2 50.5 L336.9 51.8 L339.5 53.3 L341.9 54.8 L344 56 L345.7 57.1 L347.1 58.4 L348.3 59.6 L349.4 60.7 L350.6 61.6 L352 62 L353.6 61.9 L355.2 61.4 L356.9 60.6 L358.6 59.6 L360.3 58.7 L362 58 L363.6 57.3 L365.2 56.6 L366.8 55.9 L368.4 55.4 L370.1 55 L372 55 L374.1 55.4 L376.4 56.1 L378.8 57.1 L381.2 58.1 L383.6 59.1 L386 60 L388.1 60.7 L390.1 61.5 L392 62.2 L394.1 62.9 L396.7 63.5 L400 64 L403.8 64.4 L408.1 64.7 L412.8 65 L417.9 65.3 L423.7 65.6 L430 66 L437.3 66.3 L445.6 66.4 L454.4 66.5 L463.3 67 L472 68 L480 70 L487.7 72.2 L495.6 74.1 L503.1 76.8 L510 80.7 L515.8 86.9 L520 96 L522.8 109.4 L524.4 126.7 L525 146.1 L524.4 166 L522.8 184.5 L520 200 L515.9 212.5 L510.4 223.4 L503.8 233.1 L496.3 241.6 L488.3 249.1 L480 256 L470.9 261.9 L460.7 266.7 L450 270.6 L439.3 273.7 L429.1 276.5 L420 279 L412.2 281.1 L405.2 282.6 L398.8 283.7 L392.6 284.5 L386.4 285.2 L380 286 L373.4 286.8 L366.8 287.5 L360.2 288.1 L353.6 288.6 L346.8 289.3 L340 290 L332.8 291 L325.2 292.4 L317.5 293.8 L310 295 L303.1 295.8 L297 296 L292.1 295.4 L288.1 294 L284.8 292.2 L281.4 290.4 L277.6 288.9 L273 288 L267.3 287.8 L260.8 288.2 L253.9 288.9 L247 289.6 L240.2 290 L234 290 L228.2 289.5 L222.6 288.7 L217.2 287.8 L212.1 286.6 L207.3 285.3 L203 284 L199.3 282.5 L196.1 280.9 L193.4 279.1 L190.7 277.3 L188 275.6 L185 274 L181.7 272.3 L178.3 270.4 L174.9 268.6 L171.3 267.1 L167.7 266.2 L164 266 L160.2 266.9 L156.2 268.7 L152.1 271.1 L148 273.7 L144 276.1 L140 278 L136.1 279.5 L132.4 281 L128.6 282.2 L124.9 283.3 L121 283.9 L117 284 L112.8 283.5 L108.4 282.5 L104 281.1 L99.6 279.5 L95.2 277.7 L91 276 L87 274.4 L83.1 272.9 L79.3 271.2 L75.6 269.3 L71.8 266.9 L68 264 L64.1 260.2 L60.2 255.6 L56.3 250.6 L52.4 245.6 L48.7 240.9 L45 237 L41.4 234.2 L37.9 232.2 L34.5 230.6 L31.2 228.9 L28 226.5 L25 223 L22 218 L18.9 212 L16 205.2 L13.4 198.4 L11.3 191.8 L10 186 L9.5 181 L9.8 176.4 L10.6 172.1 L11.7 168 L12.9 164 L14 160 L15 156 L15.9 152 L17 148.2 L18.3 144.5 L19.9 141.1 L22 138 L24.8 135.3 L28.3 133.1 L32.1 131.1 L35.9 129.1 L39.3 127.2 L42 125 L44 122.7 L45.7 120.5 L47 118.2 L48 115.7 L48.6 113 L49 110 L48.7 106.5 L47.6 102.4 L46.1 98.2 L44.9 93.9 L44.3 89.8Z" fill="#000" filter="url(#texL)" opacity="0.22"/>
<path d="M690 75 L692.2 70.2 L694 67 L695.5 64.9 L696.9 63.6 L698.3 62.4 L700 61 L701.9 59.5 L703.8 58.4 L705.8 57.6 L707.9 56.8 L709.9 56 L712 55 L714.1 53.9 L716.3 52.8 L718.5 51.6 L720.7 50.4 L722.8 49.2 L724.7 48 L726.5 46.7 L728.1 45.3 L729.6 43.9 L731.1 42.5 L732.5 41.2 L734 40 L735.4 38.9 L736.8 37.7 L738.2 36.6 L739.5 35.7 L740.9 35.2 L742.4 35 L743.9 35.4 L745.6 36.1 L747.2 37.2 L748.9 38.5 L750.5 39.8 L752 41 L753.4 42.2 L754.7 43.7 L756 45.2 L757.2 46.5 L758.6 47.5 L760 48 L761.5 47.8 L763.1 47.1 L764.8 46.1 L766.5 44.9 L768.3 43.8 L770 43 L771.8 42.4 L773.7 41.7 L775.6 41.2 L777.4 40.7 L779.3 40.5 L781 40.5 L782.6 40.8 L784.1 41.5 L785.6 42.3 L787.1 43.2 L788.5 44.1 L790 45 L791.3 45.8 L792.4 46.6 L793.5 47.5 L794.9 48.3 L796.6 49.2 L799 50 L802.1 50.8 L805.9 51.6 L810 52.4 L814.5 53.3 L819 54.1 L823.5 55 L828.1 56.1 L833 57.4 L838 58.7 L843 59.9 L847.6 60.7 L851.8 61 L855.4 60.6 L858.7 59.7 L861.6 58.5 L864.4 57.1 L867.2 55.9 L870 55 L873 54.3 L876.1 53.7 L879.1 53.2 L882 52.9 L884.7 52.8 L887 53 L888.8 53.5 L890.2 54.3 L891.3 55.3 L892.4 56.5 L893.6 57.7 L895 59 L896.8 60.2 L898.7 61.4 L900.7 62.6 L902.8 64.1 L904.9 65.9 L906.8 68 L908.6 70.6 L910.3 73.6 L912 76.8 L913.7 80.3 L915.4 83.9 L917.4 87.6 L919.7 91.4 L922.4 95.5 L925.1 99.8 L927.8 104 L930 108.1 L931.5 112 L932.3 115.6 L932.6 119 L932.5 122.3 L932.1 125.6 L931.6 128.8 L931 132 L930.5 135.2 L929.9 138.2 L929.1 141.2 L928.1 144.3 L926.8 147.5 L925 151 L922.6 154.9 L919.4 159.3 L916 163.8 L912.6 168.3 L909.4 172.4 L907 176 L905.3 178.9 L904 181.3 L903.1 183.5 L902.4 185.5 L901.7 187.6 L901 190 L900.3 192.7 L899.7 195.4 L899.2 198.2 L898.6 201.2 L897.9 204.3 L897 207.6 L895.8 211.3 L894.3 215.5 L892.6 219.8 L891 224 L889.4 227.8 L888 231 L886.9 233.5 L886 235.4 L885.2 237 L884.4 238.3 L883.3 239.6 L882 241 L880.3 242.5 L878.3 244 L876.1 245.5 L873.8 246.9 L871.6 248 L869.4 249 L867.3 249.6 L865.2 249.9 L863.2 250.1 L861.1 250.2 L859.1 250.4 L857 251 L855 252.1 L853 253.6 L851 255.2 L849 256.7 L846.9 257.7 L844.7 258 L842.4 257.4 L839.9 256 L837.4 254.2 L834.9 252.2 L832.4 250.4 L830 249 L827.8 248.2 L825.8 247.7 L823.9 247.3 L821.8 246.9 L819.4 246.2 L816.5 245 L813 243.4 L809.1 241.4 L804.9 239.2 L800.5 236.7 L796.1 234 L791.8 231 L787.6 227.7 L783.4 224.1 L779.2 220.2 L775 216.1 L770.9 211.9 L767 207.6 L763.6 203 L760.6 197.9 L757.8 192.6 L754.7 187.6 L750.9 183.1 L746 179.4 L739.6 177.1 L731.9 176 L723.6 175.4 L715.1 174.7 L707 173.1 L700 170 L693.5 165.3 L687 159.5 L680.9 152.8 L675.7 145.6 L671.9 137.9 L670 130 L670.6 121.2 L673.3 111.3 L677.5 100.9 L682.2 90.9 L686.7 82Z" fill="#000" filter="url(#texD)" opacity="0.16"/>
<path d="M690 75 L692.2 70.2 L694 67 L695.5 64.9 L696.9 63.6 L698.3 62.4 L700 61 L701.9 59.5 L703.8 58.4 L705.8 57.6 L707.9 56.8 L709.9 56 L712 55 L714.1 53.9 L716.3 52.8 L718.5 51.6 L720.7 50.4 L722.8 49.2 L724.7 48 L726.5 46.7 L728.1 45.3 L729.6 43.9 L731.1 42.5 L732.5 41.2 L734 40 L735.4 38.9 L736.8 37.7 L738.2 36.6 L739.5 35.7 L740.9 35.2 L742.4 35 L743.9 35.4 L745.6 36.1 L747.2 37.2 L748.9 38.5 L750.5 39.8 L752 41 L753.4 42.2 L754.7 43.7 L756 45.2 L757.2 46.5 L758.6 47.5 L760 48 L761.5 47.8 L763.1 47.1 L764.8 46.1 L766.5 44.9 L768.3 43.8 L770 43 L771.8 42.4 L773.7 41.7 L775.6 41.2 L777.4 40.7 L779.3 40.5 L781 40.5 L782.6 40.8 L784.1 41.5 L785.6 42.3 L787.1 43.2 L788.5 44.1 L790 45 L791.3 45.8 L792.4 46.6 L793.5 47.5 L794.9 48.3 L796.6 49.2 L799 50 L802.1 50.8 L805.9 51.6 L810 52.4 L814.5 53.3 L819 54.1 L823.5 55 L828.1 56.1 L833 57.4 L838 58.7 L843 59.9 L847.6 60.7 L851.8 61 L855.4 60.6 L858.7 59.7 L861.6 58.5 L864.4 57.1 L867.2 55.9 L870 55 L873 54.3 L876.1 53.7 L879.1 53.2 L882 52.9 L884.7 52.8 L887 53 L888.8 53.5 L890.2 54.3 L891.3 55.3 L892.4 56.5 L893.6 57.7 L895 59 L896.8 60.2 L898.7 61.4 L900.7 62.6 L902.8 64.1 L904.9 65.9 L906.8 68 L908.6 70.6 L910.3 73.6 L912 76.8 L913.7 80.3 L915.4 83.9 L917.4 87.6 L919.7 91.4 L922.4 95.5 L925.1 99.8 L927.8 104 L930 108.1 L931.5 112 L932.3 115.6 L932.6 119 L932.5 122.3 L932.1 125.6 L931.6 128.8 L931 132 L930.5 135.2 L929.9 138.2 L929.1 141.2 L928.1 144.3 L926.8 147.5 L925 151 L922.6 154.9 L919.4 159.3 L916 163.8 L912.6 168.3 L909.4 172.4 L907 176 L905.3 178.9 L904 181.3 L903.1 183.5 L902.4 185.5 L901.7 187.6 L901 190 L900.3 192.7 L899.7 195.4 L899.2 198.2 L898.6 201.2 L897.9 204.3 L897 207.6 L895.8 211.3 L894.3 215.5 L892.6 219.8 L891 224 L889.4 227.8 L888 231 L886.9 233.5 L886 235.4 L885.2 237 L884.4 238.3 L883.3 239.6 L882 241 L880.3 242.5 L878.3 244 L876.1 245.5 L873.8 246.9 L871.6 248 L869.4 249 L867.3 249.6 L865.2 249.9 L863.2 250.1 L861.1 250.2 L859.1 250.4 L857 251 L855 252.1 L853 253.6 L851 255.2 L849 256.7 L846.9 257.7 L844.7 258 L842.4 257.4 L839.9 256 L837.4 254.2 L834.9 252.2 L832.4 250.4 L830 249 L827.8 248.2 L825.8 247.7 L823.9 247.3 L821.8 246.9 L819.4 246.2 L816.5 245 L813 243.4 L809.1 241.4 L804.9 239.2 L800.5 236.7 L796.1 234 L791.8 231 L787.6 227.7 L783.4 224.1 L779.2 220.2 L775 216.1 L770.9 211.9 L767 207.6 L763.6 203 L760.6 197.9 L757.8 192.6 L754.7 187.6 L750.9 183.1 L746 179.4 L739.6 177.1 L731.9 176 L723.6 175.4 L715.1 174.7 L707 173.1 L700 170 L693.5 165.3 L687 159.5 L680.9 152.8 L675.7 145.6 L671.9 137.9 L670 130 L670.6 121.2 L673.3 111.3 L677.5 100.9 L682.2 90.9 L686.7 82Z" fill="#000" filter="url(#texL)" opacity="0.22"/>
<path d="M470 95 L474 92.1 L478.9 89.7 L484.6 87.6 L490.9 85.8 L497.8 84.2 L505 82.8 L512.5 81.4 L520 80 L527.9 78.6 L536.3 77.2 L545.2 76 L554.4 74.8 L563.6 73.8 L572.7 73 L581.6 72.4 L590 72 L598.3 71.8 L606.7 71.7 L615.1 71.7 L623.2 72 L631 72.5 L638.2 73.3 L644.6 74.5 L650 76 L654.5 78 L658.3 80.5 L661.4 83.3 L663.9 86.4 L665.7 89.7 L667 93.1 L667.8 96.6 L668 100 L667.4 103.5 L665.8 107.1 L663.5 110.8 L660.8 114.6 L657.7 118.5 L654.8 122.4 L652.1 126.2 L650 130 L648.6 133.7 L647.6 137.3 L647 140.8 L646.4 144.4 L645.6 148 L644.4 151.8 L642.6 155.8 L640 160 L636.6 164.7 L632.6 170 L628.1 175.6 L623.1 181.2 L617.8 186.8 L612.1 191.9 L606.2 196.4 L600 200 L593.4 203 L586.2 205.5 L578.5 207.7 L570.6 209.4 L562.6 210.5 L554.8 211 L547.2 210.9 L540 210 L533.1 208.3 L526.2 205.8 L519.4 202.6 L512.8 198.8 L506.5 194.5 L500.5 189.8 L495 185 L490 180 L485.5 174.6 L481.3 168.6 L477.5 162.1 L474.1 155.3 L471.1 148.5 L468.6 141.9 L466.5 135.7 L465 130 L463.9 124.8 L463.1 119.7 L462.7 114.9 L462.8 110.3 L463.5 106 L464.9 102 L467 98.3Z" fill="#a4a4a4" filter="url(#b14)" opacity="0.8"/>
<path d="M585 62 L588.9 60.9 L594.8 59.9 L602.1 59.2 L610.1 58.6 L618.5 58.2 L626.6 58 L634 57.9 L640 58 L645 58.2 L649.5 58.7 L653.5 59.3 L657.2 60 L660.4 60.9 L663.3 61.8 L665.8 62.9 L668 64 L669.9 65.3 L671.5 66.8 L672.8 68.4 L673.8 70.1 L674.2 71.8 L674.1 73.4 L673.4 74.8 L672 76 L669.8 76.9 L666.8 77.7 L663.2 78.3 L659.1 78.9 L654.5 79.3 L649.8 79.6 L644.9 79.8 L640 80 L634.8 80.1 L628.8 80.2 L622.5 80.3 L616.1 80.2 L609.9 80 L604.1 79.6 L599 79 L595 78 L591.6 76.6 L588.5 74.7 L585.8 72.5 L583.8 70.1 L582.5 67.7 L582.1 65.5 L582.9 63.5Z" fill="#a6a6a6" filter="url(#b5)" opacity="0.7"/>
<path d="M490 112 L493.5 110.5 L498.4 110.2 L504.3 110.7 L510.9 111.8 L518.1 113.1 L525.5 114.4 L532.9 115.5 L540 116 L547.2 116.1 L555 116 L563 115.9 L571.1 115.6 L579.1 115.3 L586.7 114.9 L593.8 114.5 L600 114 L605.6 113.2 L610.8 111.9 L615.5 110.5 L619.9 109 L623.7 107.8 L627 107.1 L629.8 107.1 L632 108 L633.6 110.1 L634.5 113.2 L635 117.1 L634.9 121.5 L634.3 126 L633.3 130.5 L631.8 134.6 L630 138 L627.8 140.9 L625.2 143.7 L622.1 146.2 L618.6 148.6 L614.7 150.8 L610.3 152.8 L605.4 154.5 L600 156 L593.8 157.3 L586.8 158.3 L579 159.1 L570.9 159.8 L562.7 160.1 L554.6 160.3 L547 160.3 L540 160 L533.4 159.6 L526.8 159.1 L520.3 158.5 L514.1 157.6 L508.3 156.4 L503.1 154.8 L498.6 152.7 L495 150 L492.1 146.3 L489.6 141.5 L487.8 136 L486.6 130.1 L486.1 124.4 L486.4 119.2 L487.7 114.9Z" fill="#7c7c7c" filter="url(#b10)" opacity="0.72"/>
<ellipse cx="490" cy="126" rx="26" ry="34" fill="#7c7c7c" filter="url(#b10)" opacity="0.45"/>
<ellipse cx="585" cy="88" rx="70" ry="10" fill="#9c9c9c" filter="url(#b6)" opacity="0.35"/>
<path d="M440 104 L447.3 100.6 L456.1 97.4 L465.9 94.3 L476.5 91.5 L487.5 88.8 L498.7 86.4 L509.6 84.1 L520 82 L530.2 80.1 L540.7 78.4 L551.3 76.8 L561.9 75.5 L572.2 74.3 L582.1 73.4 L591.4 72.6 L600 72 L608 71.5 L615.6 71.1 L622.8 70.9 L629.5 70.9 L635.6 71.1 L641.2 71.7 L646 72.6 L650 74 L653.3 75.9 L655.8 78.3 L657.7 81.1 L658.9 84.2 L659.5 87.6 L659.5 91.1 L659 94.6 L658 98 L656.8 101.6 L655.5 105.5 L653.7 109.5 L651.4 113.6 L648.1 117.7 L643.6 121.5 L637.7 125 L630 128 L619.9 130.5 L607.3 132.4 L593 134 L577.6 135.4 L561.9 136.8 L546.6 138.2 L532.4 139.9 L520 142 L509.1 144.8 L498.8 148.3 L489.2 152.2 L480.2 156.1 L471.9 159.6 L464 162.6 L456.8 164.5 L450 165 L443.6 164.1 L437.6 161.9 L432.1 158.8 L427.1 155.1 L422.9 150.8 L419.6 146.4 L417.2 142.1 L416 138 L415.8 134 L416.6 129.7 L418.3 125.2 L420.9 120.7 L424.3 116.2 L428.7 111.8 L433.9 107.7Z" fill="#989898" filter="url(#b12)" opacity="0.5"/>
<path d="M655 58 L658.3 56.3 L663.1 55.5 L668.9 55.5 L675.3 56 L682 56.9 L688.6 58 L694.8 59.1 L700 60 L704.7 60.7 L709.4 61.5 L713.8 62.3 L718.1 63.2 L721.9 64.4 L725.2 65.9 L728 67.7 L730 70 L731.3 73 L732.1 76.7 L732.4 80.8 L732.1 85.2 L731.3 89.6 L730 93.7 L728.3 97.3 L726 100 L723 102 L719.1 103.6 L714.6 104.7 L709.6 105.5 L704.5 106 L699.3 106.2 L694.4 106.2 L690 106 L685.8 105.7 L681.5 105.3 L677.2 104.7 L673.1 103.8 L669.2 102.5 L665.6 100.8 L662.5 98.7 L660 96 L657.8 92.3 L655.8 87.5 L654.1 82 L652.8 76.2 L652.1 70.6 L652.1 65.3 L653.1 61Z" fill="#d2d2d2" filter="url(#b8)" opacity="0.9"/>
<path d="M232 300 L236.3 294.8 L242.4 292.1 L249.4 291.1 L256 291 L262.3 292.6 L268.8 295.9 L275.1 299.2 L281 301 L286.1 300.5 L290.7 298.8 L295.2 296.4 L300 294 L305.2 291.7 L310.5 289.2 L316.1 286.6 L322 284 L328.6 280.8 L335.8 277.2 L342.8 274.3 L349 273 L354.1 273.8 L358.6 276.1 L362.5 279.4 L366 283 L368.7 287 L370.7 291.8 L372.8 296.8 L376 302 L381.1 306.4 L387.3 310.4 L393.4 315.8 L398 324 L403 337.9 L408.3 355.9 L409.7 372.9 L403 384 L384 387.3 L356.1 385.7 L325.8 381.2 L300 376 L278.9 370.2 L259.6 362.8 L243.4 354.3 L232 345 L226.7 333.9 L226.2 321.1 L228.7 309Z" fill="#ffffff" filter="url(#b4)"/>
<ellipse cx="300" cy="335" rx="70" ry="40" fill="#ffffff" filter="url(#b10)"/>
<path d="M380 293 L400 277 L421 263 L446 251 L470 243 L476 290 L474 330 L464 395 L444 440 L408 432 L402 384 L402 340 L399 316 Z" fill="#dadada" filter="url(#b3)"/>
<path d="M392 288 L472 306" stroke="#c6c6c6" stroke-width="7" fill="none" filter="url(#b4)" opacity="0.8"/>
<path d="M404 312 L470 340" stroke="#c4c4c4" stroke-width="12" fill="none" filter="url(#b5)" opacity="0.75"/>
<path d="M420 268 L470 282" stroke="#e8e8e8" stroke-width="10" fill="none" filter="url(#b4)" opacity="0.8"/>
<path d="M404 346 L466 372" stroke="#e6e6e6" stroke-width="6" fill="none" filter="url(#b3)" opacity="0.7"/>
<path d="M404 372 L460 400" stroke="#c8c8c8" stroke-width="8" fill="none" filter="url(#b4)" opacity="0.6"/>
<path d="M364 466 L368.3 464.8 L373.8 463.9 L380.1 463.2 L387.2 462.8 L395 462.5 L403.1 462.4 L411.5 462.2 L420 462 L429.1 461.7 L439 461.4 L449.6 461.2 L460.4 461 L471.1 460.9 L481.5 461.1 L491.3 461.4 L500 462 L508.1 462.9 L516 464 L523.6 465.4 L530.6 466.9 L537 468.5 L542.4 470.3 L546.8 472.1 L550 474 L551.8 475.9 L552.3 477.8 L551.7 479.9 L550.3 482 L548.2 484.3 L545.7 486.7 L542.9 489.2 L540 492 L536.8 495 L532.8 498.3 L528.4 501.8 L523.6 505.4 L518.6 509.1 L513.8 512.8 L509.2 516.4 L505 520 L501.1 523.5 L497.3 527.1 L493.6 530.7 L490.1 534.2 L486.7 537.8 L483.5 541.3 L480.6 544.7 L478 548 L475.9 551.3 L474.3 554.5 L473 557.7 L471.9 560.9 L470.9 563.9 L469.6 566.8 L468.1 569.5 L466 572 L463.5 574.4 L460.7 576.6 L457.7 578.8 L454.4 580.8 L451 582.5 L447.5 584 L443.8 585.2 L440 586 L435.9 586.4 L431.5 586.4 L426.8 586.1 L422 585.6 L417.3 584.8 L412.8 583.9 L408.6 583 L405 582 L401.9 581 L399.2 580 L396.9 578.9 L394.8 577.7 L392.8 576.3 L390.9 574.8 L389 573 L387 571 L384.9 568.8 L382.9 566.5 L380.9 564 L379 561.3 L377.1 558.4 L375.3 555.2 L373.6 551.8 L372 548 L370.5 543.7 L369 538.8 L367.5 533.5 L366.2 528 L364.9 522.5 L363.8 517.2 L362.8 512.3 L362 508 L361.3 504.3 L360.8 501 L360.4 498 L360.1 495.2 L360 492.6 L359.9 490.1 L359.9 487.6 L360 485 L359.9 482.3 L359.4 479.6 L358.8 476.9 L358.4 474.3 L358.4 471.9 L359.2 469.6 L361 467.6Z" fill="#dddddd" filter="url(#b2)" opacity="0.95"/>
<path d="M364 470 L365.8 468 L368.2 466.6 L371 465.9 L374 465.8 L377 466.1 L379.8 467 L382.2 468.3 L384 470 L385.1 472.2 L385.7 475.2 L385.9 478.6 L385.9 482.5 L385.7 486.7 L385.6 491.1 L385.7 495.6 L386 500 L386.5 504.6 L387.2 509.4 L387.9 514.5 L388.6 519.7 L389.4 524.9 L390.3 530.1 L391.1 535.2 L392 540 L393 544.9 L394.4 550 L395.8 555.2 L397.2 560.2 L398.5 565 L399.4 569.1 L400 572.5 L400 575 L399.4 576.5 L398.3 577.2 L396.8 577.2 L394.9 576.6 L392.9 575.6 L390.9 574.2 L388.9 572.7 L387 571 L385.2 569.2 L383.3 567 L381.3 564.5 L379.3 561.8 L377.3 558.7 L375.4 555.4 L373.6 551.8 L372 548 L370.4 543.8 L368.9 539.1 L367.4 534.2 L365.9 528.9 L364.7 523.6 L363.5 518.3 L362.6 513 L362 508 L361.6 502.9 L361.2 497.5 L361.1 491.9 L361.1 486.5 L361.4 481.4 L362 476.8 L362.8 472.9Z" fill="#cccccc" filter="url(#b5)" opacity="0.45"/>
<ellipse cx="408" cy="500" rx="13" ry="30" fill="#ececec" filter="url(#b8)" opacity="0.8"/>
<ellipse cx="500" cy="490" rx="25" ry="12" fill="#e2e2e2" filter="url(#b6)" opacity="0.7" transform="rotate(-35 500 490)"/>
<g filter="url(#b6)">
<polygon points="448.6,99.6 460.8,99.6 460.8,112.4 448.6,112.4" fill="#b4b4b4" fill-opacity="0.03"/>
<polygon points="460,99.6 472.3,99.6 472.3,112.4 460,112.4" fill="#b4b4b4" fill-opacity="0.09"/>
<polygon points="471.5,99.6 483.7,99.6 483.7,112.4 471.5,112.4" fill="#aaaaaa" fill-opacity="0.12"/>
<polygon points="482.9,99.6 495.1,99.6 495.1,112.4 482.9,112.4" fill="#9c9c9c" fill-opacity="0.15"/>
<polygon points="494.4,99.6 506.6,99.6 506.6,112.4 494.4,112.4" fill="#929292" fill-opacity="0.16"/>
<polygon points="505.8,99.6 518,99.6 518,112.4 505.8,112.4" fill="#888888" fill-opacity="0.17"/>
<polygon points="517.2,99.6 529.5,99.6 529.5,112.4 517.2,112.4" fill="#818181" fill-opacity="0.17"/>
<polygon points="528.7,99.6 540.9,99.6 540.9,112.4 528.7,112.4" fill="#7e7e7e" fill-opacity="0.17"/>
<polygon points="540.1,99.6 552.3,99.6 552.3,112.4 540.1,112.4" fill="#7a7a7a" fill-opacity="0.17"/>
<polygon points="551.5,99.6 563.8,99.6 563.8,112.4 551.5,112.4" fill="#7d7d7d" fill-opacity="0.17"/>
<polygon points="563,99.6 575.2,99.6 575.2,112.4 563,112.4" fill="#838383" fill-opacity="0.17"/>
<polygon points="574.4,99.6 586.6,99.6 586.6,112.4 574.4,112.4" fill="#898989" fill-opacity="0.17"/>
<polygon points="585.9,99.6 598.1,99.6 598.1,112.4 585.9,112.4" fill="#9a9a9a" fill-opacity="0.17"/>
<polygon points="597.3,99.6 609.5,99.6 609.5,112.4 597.3,112.4" fill="#afafaf" fill-opacity="0.17"/>
<polygon points="608.7,99.6 621,99.6 621,112.4 608.7,112.4" fill="#b4b4b4" fill-opacity="0.17"/>
<polygon points="620.2,99.6 632.4,99.6 632.4,112.4 620.2,112.4" fill="#b4b4b4" fill-opacity="0.15"/>
<polygon points="448.6,111.6 460.8,111.6 460.4,124.4 448.2,124.4" fill="#b4b4b4" fill-opacity="0.09"/>
<polygon points="460,111.6 472.3,111.6 471.8,124.4 459.6,124.4" fill="#b4b4b4" fill-opacity="0.27"/>
<polygon points="471.5,111.6 483.7,111.6 483.2,124.4 471,124.4" fill="#a6a6a6" fill-opacity="0.37"/>
<polygon points="482.9,111.6 495.1,111.6 494.6,124.4 482.4,124.4" fill="#989898" fill-opacity="0.46"/>
<polygon points="494.4,111.6 506.6,111.6 506,124.4 493.8,124.4" fill="#8e8e8e" fill-opacity="0.48"/>
<polygon points="505.8,111.6 518,111.6 517.4,124.4 505.2,124.4" fill="#848484" fill-opacity="0.50"/>
<polygon points="517.2,111.6 529.5,111.6 528.8,124.4 516.6,124.4" fill="#7c7c7c" fill-opacity="0.51"/>
<polygon points="528.7,111.6 540.9,111.6 540.2,124.4 528,124.4" fill="#797979" fill-opacity="0.51"/>
<polygon points="540.1,111.6 552.3,111.6 551.6,124.4 539.4,124.4" fill="#757575" fill-opacity="0.51"/>
<polygon points="551.5,111.6 563.8,111.6 563,124.4 550.8,124.4" fill="#787878" fill-opacity="0.51"/>
<polygon points="563,111.6 575.2,111.6 574.4,124.4 562.2,124.4" fill="#7d7d7d" fill-opacity="0.51"/>
<polygon points="574.4,111.6 586.6,111.6 585.8,124.4 573.6,124.4" fill="#828282" fill-opacity="0.51"/>
<polygon points="585.9,111.6 598.1,111.6 597.1,124.4 585,124.4" fill="#939393" fill-opacity="0.51"/>
<polygon points="597.3,111.6 609.5,111.6 608.5,124.4 596.3,124.4" fill="#a8a8a8" fill-opacity="0.51"/>
<polygon points="608.7,111.6 621,111.6 619.9,124.4 607.7,124.4" fill="#b4b4b4" fill-opacity="0.51"/>
<polygon points="620.2,111.6 632.4,111.6 631.3,124.4 619.1,124.4" fill="#b4b4b4" fill-opacity="0.46"/>
<polygon points="448.2,123.6 460.4,123.6 459.6,136.4 447.5,136.4" fill="#b4b4b4" fill-opacity="0.15"/>
<polygon points="459.6,123.6 471.8,123.6 470.9,136.4 458.8,136.4" fill="#b1b1b1" fill-opacity="0.44"/>
<polygon points="471,123.6 483.2,123.6 482.2,136.4 470.1,136.4" fill="#a3a3a3" fill-opacity="0.61"/>
<polygon points="482.4,123.6 494.6,123.6 493.5,136.4 481.4,136.4" fill="#949494" fill-opacity="0.77"/>
<polygon points="493.8,123.6 506,123.6 504.8,136.4 492.7,136.4" fill="#8a8a8a" fill-opacity="0.80"/>
<polygon points="505.2,123.6 517.4,123.6 516.1,136.4 504,136.4" fill="#7f7f7f" fill-opacity="0.84"/>
<polygon points="516.6,123.6 528.8,123.6 527.4,136.4 515.3,136.4" fill="#787878" fill-opacity="0.86"/>
<polygon points="528,123.6 540.2,123.6 538.7,136.4 526.6,136.4" fill="#747474" fill-opacity="0.86"/>
<polygon points="539.4,123.6 551.6,123.6 550,136.4 537.9,136.4" fill="#707070" fill-opacity="0.86"/>
<polygon points="550.8,123.6 563,123.6 561.3,136.4 549.2,136.4" fill="#727272" fill-opacity="0.86"/>
<polygon points="562.2,123.6 574.4,123.6 572.7,136.4 560.5,136.4" fill="#777777" fill-opacity="0.86"/>
<polygon points="573.6,123.6 585.8,123.6 584,136.4 571.9,136.4" fill="#7c7c7c" fill-opacity="0.86"/>
<polygon points="585,123.6 597.1,123.6 595.3,136.4 583.2,136.4" fill="#8d8d8d" fill-opacity="0.86"/>
<polygon points="596.3,123.6 608.5,123.6 606.6,136.4 594.5,136.4" fill="#a1a1a1" fill-opacity="0.86"/>
<polygon points="607.7,123.6 619.9,123.6 617.9,136.4 605.8,136.4" fill="#b4b4b4" fill-opacity="0.86"/>
<polygon points="619.1,123.6 631.3,123.6 629.2,136.4 617.1,136.4" fill="#b4b4b4" fill-opacity="0.76"/>
<polygon points="447.5,135.6 459.6,135.6 458.7,148.4 446.7,148.4" fill="#b4b4b4" fill-opacity="0.17"/>
<polygon points="458.8,135.6 470.9,135.6 469.9,148.4 457.9,148.4" fill="#aeaeae" fill-opacity="0.52"/>
<polygon points="470.1,135.6 482.2,135.6 481.2,148.4 469.1,148.4" fill="#a0a0a0" fill-opacity="0.71"/>
<polygon points="481.4,135.6 493.5,135.6 492.4,148.4 480.4,148.4" fill="#919191" fill-opacity="0.90"/>
<polygon points="492.7,135.6 504.8,135.6 503.6,148.4 491.6,148.4" fill="#868686" fill-opacity="0.94"/>
<polygon points="504,135.6 516.1,135.6 514.8,148.4 502.8,148.4" fill="#7b7b7b" fill-opacity="0.98"/>
<polygon points="515.3,135.6 527.4,135.6 526,148.4 514,148.4" fill="#737373"/>
<polygon points="526.6,135.6 538.7,135.6 537.2,148.4 525.2,148.4" fill="#6f6f6f"/>
<polygon points="537.9,135.6 550,135.6 548.4,148.4 536.4,148.4" fill="#6b6b6b"/>
<polygon points="549.2,135.6 561.3,135.6 559.6,148.4 547.6,148.4" fill="#6d6d6d"/>
<polygon points="560.5,135.6 572.7,135.6 570.8,148.4 558.8,148.4" fill="#717171"/>
<polygon points="571.9,135.6 584,135.6 582,148.4 570,148.4" fill="#767676"/>
<polygon points="583.2,135.6 595.3,135.6 593.2,148.4 581.2,148.4" fill="#868686"/>
<polygon points="594.5,135.6 606.6,135.6 604.5,148.4 592.4,148.4" fill="#9a9a9a"/>
<polygon points="605.8,135.6 617.9,135.6 615.7,148.4 603.7,148.4" fill="#b2b2b2"/>
<polygon points="617.1,135.6 629.2,135.6 626.9,148.4 614.9,148.4" fill="#b4b4b4" fill-opacity="0.89"/>
<polygon points="446.7,147.6 458.7,147.6 455.4,160.4 443.4,160.4" fill="#b4b4b4" fill-opacity="0.17"/>
<polygon points="457.9,147.6 469.9,147.6 466.6,160.4 454.6,160.4" fill="#ababab" fill-opacity="0.52"/>
<polygon points="469.1,147.6 481.2,147.6 477.8,160.4 465.8,160.4" fill="#9d9d9d" fill-opacity="0.71"/>
<polygon points="480.4,147.6 492.4,147.6 489,160.4 477,160.4" fill="#8d8d8d" fill-opacity="0.90"/>
<polygon points="491.6,147.6 503.6,147.6 500.3,160.4 488.2,160.4" fill="#828282" fill-opacity="0.94"/>
<polygon points="502.8,147.6 514.8,147.6 511.5,160.4 499.5,160.4" fill="#777777" fill-opacity="0.98"/>
<polygon points="514,147.6 526,147.6 522.7,160.4 510.7,160.4" fill="#6f6f6f"/>
<polygon points="525.2,147.6 537.2,147.6 533.9,160.4 521.9,160.4" fill="#6a6a6a"/>
<polygon points="536.4,147.6 548.4,147.6 545.1,160.4 533.1,160.4" fill="#656565"/>
<polygon points="547.6,147.6 559.6,147.6 556.4,160.4 544.3,160.4" fill="#676767"/>
<polygon points="558.8,147.6 570.8,147.6 567.6,160.4 555.6,160.4" fill="#6b6b6b"/>
<polygon points="570,147.6 582,147.6 578.8,160.4 566.8,160.4" fill="#6f6f6f"/>
<polygon points="581.2,147.6 593.2,147.6 590,160.4 578,160.4" fill="#808080"/>
<polygon points="592.4,147.6 604.5,147.6 601.3,160.4 589.2,160.4" fill="#939393"/>
<polygon points="603.7,147.6 615.7,147.6 612.5,160.4 600.5,160.4" fill="#ababab"/>
<polygon points="614.9,147.6 626.9,147.6 623.7,160.4 611.7,160.4" fill="#b4b4b4" fill-opacity="0.89"/>
<polygon points="443.4,159.6 455.4,159.6 451.5,172.4 439.5,172.4" fill="#b2b2b2" fill-opacity="0.17"/>
<polygon points="454.6,159.6 466.6,159.6 462.8,172.4 450.7,172.4" fill="#a9a9a9" fill-opacity="0.52"/>
<polygon points="465.8,159.6 477.8,159.6 474.1,172.4 462,172.4" fill="#9a9a9a" fill-opacity="0.71"/>
<polygon points="477,159.6 489,159.6 485.3,172.4 473.3,172.4" fill="#8a8a8a" fill-opacity="0.90"/>
<polygon points="488.2,159.6 500.3,159.6 496.6,172.4 484.5,172.4" fill="#7e7e7e" fill-opacity="0.94"/>
<polygon points="499.5,159.6 511.5,159.6 507.9,172.4 495.8,172.4" fill="#737373" fill-opacity="0.98"/>
<polygon points="510.7,159.6 522.7,159.6 519.1,172.4 507.1,172.4" fill="#6a6a6a"/>
<polygon points="521.9,159.6 533.9,159.6 530.4,172.4 518.3,172.4" fill="#656565"/>
<polygon points="533.1,159.6 545.1,159.6 541.7,172.4 529.6,172.4" fill="#606060"/>
<polygon points="544.3,159.6 556.4,159.6 552.9,172.4 540.9,172.4" fill="#616161"/>
<polygon points="555.6,159.6 567.6,159.6 564.2,172.4 552.1,172.4" fill="#656565"/>
<polygon points="566.8,159.6 578.8,159.6 575.5,172.4 563.4,172.4" fill="#696969"/>
<polygon points="578,159.6 590,159.6 586.7,172.4 574.7,172.4" fill="#797979"/>
<polygon points="589.2,159.6 601.3,159.6 598,172.4 585.9,172.4" fill="#8c8c8c"/>
<polygon points="600.5,159.6 612.5,159.6 609.3,172.4 597.2,172.4" fill="#a4a4a4"/>
<polygon points="611.7,159.6 623.7,159.6 620.5,172.4 608.5,172.4" fill="#b4b4b4" fill-opacity="0.89"/>
<polygon points="439.5,171.6 451.5,171.6 447.7,184.4 435.6,184.4" fill="#afafaf" fill-opacity="0.17"/>
<polygon points="450.7,171.6 462.8,171.6 459,184.4 446.9,184.4" fill="#a6a6a6" fill-opacity="0.52"/>
<polygon points="462,171.6 474.1,171.6 470.3,184.4 458.2,184.4" fill="#969696" fill-opacity="0.71"/>
<polygon points="473.3,171.6 485.3,171.6 481.6,184.4 469.5,184.4" fill="#868686" fill-opacity="0.90"/>
<polygon points="484.5,171.6 496.6,171.6 492.9,184.4 480.8,184.4" fill="#7a7a7a" fill-opacity="0.94"/>
<polygon points="495.8,171.6 507.9,171.6 504.2,184.4 492.1,184.4" fill="#6e6e6e" fill-opacity="0.98"/>
<polygon points="507.1,171.6 519.1,171.6 515.5,184.4 503.4,184.4" fill="#656565"/>
<polygon points="518.3,171.6 530.4,171.6 526.9,184.4 514.7,184.4" fill="#606060"/>
<polygon points="529.6,171.6 541.7,171.6 538.2,184.4 526.1,184.4" fill="#5b5b5b"/>
<polygon points="540.9,171.6 552.9,171.6 549.5,184.4 537.4,184.4" fill="#5c5c5c"/>
<polygon points="552.1,171.6 564.2,171.6 560.8,184.4 548.7,184.4" fill="#5f5f5f"/>
<polygon points="563.4,171.6 575.5,171.6 572.1,184.4 560,184.4" fill="#636363"/>
<polygon points="574.7,171.6 586.7,171.6 583.4,184.4 571.3,184.4" fill="#727272"/>
<polygon points="585.9,171.6 598,171.6 594.7,184.4 582.6,184.4" fill="#858585"/>
<polygon points="597.2,171.6 609.3,171.6 606,184.4 593.9,184.4" fill="#9c9c9c"/>
<polygon points="608.5,171.6 620.5,171.6 617.4,184.4 605.2,184.4" fill="#b4b4b4" fill-opacity="0.89"/>
<polygon points="435.6,183.6 447.7,183.6 441.8,196.4 429.5,196.4" fill="#adadad" fill-opacity="0.17"/>
<polygon points="446.9,183.6 459,183.6 453.3,196.4 441,196.4" fill="#a3a3a3" fill-opacity="0.52"/>
<polygon points="458.2,183.6 470.3,183.6 464.8,196.4 452.5,196.4" fill="#939393" fill-opacity="0.71"/>
<polygon points="469.5,183.6 481.6,183.6 476.3,196.4 464,196.4" fill="#838383" fill-opacity="0.90"/>
<polygon points="480.8,183.6 492.9,183.6 487.8,196.4 475.5,196.4" fill="#767676" fill-opacity="0.94"/>
<polygon points="492.1,183.6 504.2,183.6 499.3,196.4 487,196.4" fill="#6a6a6a" fill-opacity="0.98"/>
<polygon points="503.4,183.6 515.5,183.6 510.7,196.4 498.5,196.4" fill="#616161"/>
<polygon points="514.7,183.6 526.9,183.6 522.2,196.4 509.9,196.4" fill="#5b5b5b"/>
<polygon points="526.1,183.6 538.2,183.6 533.7,196.4 521.4,196.4" fill="#565656"/>
<polygon points="537.4,183.6 549.5,183.6 545.2,196.4 532.9,196.4" fill="#565656"/>
<polygon points="548.7,183.6 560.8,183.6 556.7,196.4 544.4,196.4" fill="#595959"/>
<polygon points="560,183.6 572.1,183.6 568.2,196.4 555.9,196.4" fill="#5d5d5d"/>
<polygon points="571.3,183.6 583.4,183.6 579.7,196.4 567.4,196.4" fill="#6c6c6c"/>
<polygon points="582.6,183.6 594.7,183.6 591.2,196.4 578.9,196.4" fill="#7e7e7e"/>
<polygon points="593.9,183.6 606,183.6 602.7,196.4 590.4,196.4" fill="#959595"/>
<polygon points="605.2,183.6 617.4,183.6 614.2,196.4 601.9,196.4" fill="#b2b2b2" fill-opacity="0.89"/>
<polygon points="429.5,195.6 441.8,195.6 437.2,208.4 424.9,208.4" fill="#ababab" fill-opacity="0.17"/>
<polygon points="441,195.6 453.3,195.6 448.7,208.4 436.4,208.4" fill="#a1a1a1" fill-opacity="0.52"/>
<polygon points="452.5,195.6 464.8,195.6 460.2,208.4 447.9,208.4" fill="#919191" fill-opacity="0.71"/>
<polygon points="464,195.6 476.3,195.6 471.7,208.4 459.4,208.4" fill="#808080" fill-opacity="0.90"/>
<polygon points="475.5,195.6 487.8,195.6 483.2,208.4 470.9,208.4" fill="#737373" fill-opacity="0.94"/>
<polygon points="487,195.6 499.3,195.6 494.7,208.4 482.4,208.4" fill="#676767" fill-opacity="0.98"/>
<polygon points="498.5,195.6 510.7,195.6 506.2,208.4 493.9,208.4" fill="#5d5d5d"/>
<polygon points="509.9,195.6 522.2,195.6 517.8,208.4 505.4,208.4" fill="#575757"/>
<polygon points="521.4,195.6 533.7,195.6 529.3,208.4 517,208.4" fill="#515151"/>
<polygon points="532.9,195.6 545.2,195.6 540.8,208.4 528.5,208.4" fill="#525252"/>
<polygon points="544.4,195.6 556.7,195.6 552.3,208.4 540,208.4" fill="#555555"/>
<polygon points="555.9,195.6 568.2,195.6 563.8,208.4 551.5,208.4" fill="#575757"/>
<polygon points="567.4,195.6 579.7,195.6 575.3,208.4 563,208.4" fill="#666666"/>
<polygon points="578.9,195.6 591.2,195.6 586.8,208.4 574.5,208.4" fill="#787878"/>
<polygon points="590.4,195.6 602.7,195.6 598.3,208.4 586,208.4" fill="#8f8f8f"/>
<polygon points="601.9,195.6 614.2,195.6 609.9,208.4 597.5,208.4" fill="#ababab" fill-opacity="0.89"/>
<polygon points="424.9,207.6 437.2,207.6 442.7,220.4 431,220.4" fill="#ababab" fill-opacity="0.17"/>
<polygon points="436.4,207.6 448.7,207.6 453.5,220.4 441.9,220.4" fill="#a1a1a1" fill-opacity="0.52"/>
<polygon points="447.9,207.6 460.2,207.6 464.3,220.4 452.7,220.4" fill="#919191" fill-opacity="0.71"/>
<polygon points="459.4,207.6 471.7,207.6 475.2,220.4 463.5,220.4" fill="#808080" fill-opacity="0.90"/>
<polygon points="470.9,207.6 483.2,207.6 486,220.4 474.4,220.4" fill="#737373" fill-opacity="0.94"/>
<polygon points="482.4,207.6 494.7,207.6 496.8,220.4 485.2,220.4" fill="#676767" fill-opacity="0.98"/>
<polygon points="493.9,207.6 506.2,207.6 507.6,220.4 496,220.4" fill="#5d5d5d"/>
<polygon points="505.4,207.6 517.8,207.6 518.5,220.4 506.8,220.4" fill="#575757"/>
<polygon points="517,207.6 529.3,207.6 529.3,220.4 517.7,220.4" fill="#515151"/>
<polygon points="528.5,207.6 540.8,207.6 540.1,220.4 528.5,220.4" fill="#525252"/>
<polygon points="540,207.6 552.3,207.6 551,220.4 539.3,220.4" fill="#555555"/>
<polygon points="551.5,207.6 563.8,207.6 561.8,220.4 550.2,220.4" fill="#575757"/>
<polygon points="563,207.6 575.3,207.6 572.6,220.4 561,220.4" fill="#666666"/>
<polygon points="574.5,207.6 586.8,207.6 583.5,220.4 571.8,220.4" fill="#787878"/>
<polygon points="586,207.6 598.3,207.6 594.3,220.4 582.7,220.4" fill="#8f8f8f"/>
<polygon points="597.5,207.6 609.9,207.6 605.1,220.4 593.5,220.4" fill="#ababab" fill-opacity="0.89"/>
<polygon points="431,219.6 442.7,219.6 450,232.4 439.2,232.4" fill="#a9a9a9" fill-opacity="0.20"/>
<polygon points="441.9,219.6 453.5,219.6 460,232.4 449.2,232.4" fill="#a0a0a0" fill-opacity="0.53"/>
<polygon points="452.7,219.6 464.3,219.6 470.1,232.4 459.2,232.4" fill="#909090" fill-opacity="0.72"/>
<polygon points="463.5,219.6 475.2,219.6 480.1,232.4 469.3,232.4" fill="#808080" fill-opacity="0.90"/>
<polygon points="474.4,219.6 486,219.6 490.1,232.4 479.3,232.4" fill="#737373" fill-opacity="0.94"/>
<polygon points="485.2,219.6 496.8,219.6 500.1,232.4 489.3,232.4" fill="#676767" fill-opacity="0.98"/>
<polygon points="496,219.6 507.6,219.6 510.2,232.4 499.4,232.4" fill="#5d5d5d"/>
<polygon points="506.8,219.6 518.5,219.6 520.2,232.4 509.4,232.4" fill="#575757"/>
<polygon points="517.7,219.6 529.3,219.6 530.2,232.4 519.4,232.4" fill="#515151"/>
<polygon points="528.5,219.6 540.1,219.6 540.2,232.4 529.4,232.4" fill="#525252"/>
<polygon points="539.3,219.6 551,219.6 550.3,232.4 539.5,232.4" fill="#555555"/>
<polygon points="550.2,219.6 561.8,219.6 560.3,232.4 549.5,232.4" fill="#585858"/>
<polygon points="561,219.6 572.6,219.6 570.3,232.4 559.5,232.4" fill="#676767"/>
<polygon points="571.8,219.6 583.5,219.6 580.4,232.4 569.5,232.4" fill="#797979"/>
<polygon points="582.7,219.6 594.3,219.6 590.4,232.4 579.6,232.4" fill="#909090"/>
<polygon points="593.5,219.6 605.1,219.6 600.4,232.4 589.6,232.4" fill="#acacac" fill-opacity="0.88"/>
<polygon points="439.2,231.6 450,231.6 461,244.4 451.1,244.4" fill="#9c9c9c" fill-opacity="0.53"/>
<polygon points="449.2,231.6 460,231.6 470,244.4 460.2,244.4" fill="#959595" fill-opacity="0.73"/>
<polygon points="459.2,231.6 470.1,231.6 479.1,244.4 469.2,244.4" fill="#8a8a8a" fill-opacity="0.84"/>
<polygon points="469.3,231.6 480.1,231.6 488.1,244.4 478.3,244.4" fill="#7e7e7e" fill-opacity="0.94"/>
<polygon points="479.3,231.6 490.1,231.6 497.1,244.4 487.3,244.4" fill="#757575" fill-opacity="0.97"/>
<polygon points="489.3,231.6 500.1,231.6 506.2,244.4 496.3,244.4" fill="#6a6a6a" fill-opacity="0.99"/>
<polygon points="499.4,231.6 510.2,231.6 515.2,244.4 505.4,244.4" fill="#606060"/>
<polygon points="509.4,231.6 520.2,231.6 524.3,244.4 514.4,244.4" fill="#595959"/>
<polygon points="519.4,231.6 530.2,231.6 533.3,244.4 523.5,244.4" fill="#535353"/>
<polygon points="529.4,231.6 540.2,231.6 542.4,244.4 532.5,244.4" fill="#525252"/>
<polygon points="539.5,231.6 550.3,231.6 551.4,244.4 541.6,244.4" fill="#565656"/>
<polygon points="549.5,231.6 560.3,231.6 560.4,244.4 550.6,244.4" fill="#5c5c5c"/>
<polygon points="559.5,231.6 570.3,231.6 569.5,244.4 559.6,244.4" fill="#6c6c6c"/>
<polygon points="569.5,231.6 580.4,231.6 578.5,244.4 568.7,244.4" fill="#808080"/>
<polygon points="579.6,231.6 590.4,231.6 587.6,244.4 577.7,244.4" fill="#999999" fill-opacity="0.94"/>
<polygon points="589.6,231.6 600.4,231.6 596.6,244.4 586.8,244.4" fill="#b7b7b7" fill-opacity="0.74"/>
<polygon points="451.1,243.6 461,243.6 463.8,256.4 454.5,256.4" fill="#8f8f8f" fill-opacity="0.86"/>
<polygon points="460.2,243.6 470,243.6 472.3,256.4 463,256.4" fill="#8a8a8a" fill-opacity="0.92"/>
<polygon points="469.2,243.6 479.1,243.6 480.8,256.4 471.5,256.4" fill="#838383" fill-opacity="0.95"/>
<polygon points="478.3,243.6 488.1,243.6 489.3,256.4 480,256.4" fill="#7c7c7c" fill-opacity="0.98"/>
<polygon points="487.3,243.6 497.1,243.6 497.8,256.4 488.5,256.4" fill="#767676" fill-opacity="0.99"/>
<polygon points="496.3,243.6 506.2,243.6 506.3,256.4 497,256.4" fill="#6d6d6d"/>
<polygon points="505.4,243.6 515.2,243.6 514.8,256.4 505.5,256.4" fill="#636363"/>
<polygon points="514.4,243.6 524.3,243.6 523.3,256.4 514,256.4" fill="#5a5a5a"/>
<polygon points="523.5,243.6 533.3,243.6 531.8,256.4 522.5,256.4" fill="#545454"/>
<polygon points="532.5,243.6 542.4,243.6 540.3,256.4 531,256.4" fill="#525252"/>
<polygon points="541.6,243.6 551.4,243.6 548.8,256.4 539.5,256.4" fill="#575757"/>
<polygon points="550.6,243.6 560.4,243.6 557.3,256.4 548,256.4" fill="#606060"/>
<polygon points="559.6,243.6 569.5,243.6 565.8,256.4 556.5,256.4" fill="#717171"/>
<polygon points="568.7,243.6 578.5,243.6 574.3,256.4 565,256.4" fill="#878787"/>
<polygon points="577.7,243.6 587.6,243.6 582.8,256.4 573.5,256.4" fill="#a2a2a2" fill-opacity="0.89"/>
<polygon points="586.8,243.6 596.6,243.6 591.3,256.4 582,256.4" fill="#c2c2c2" fill-opacity="0.61"/>
<polygon points="454.5,255.6 463.8,255.6 466.6,268.4 457.9,268.4" fill="#898989"/>
<polygon points="463,255.6 472.3,255.6 474.6,268.4 465.8,268.4" fill="#858585"/>
<polygon points="471.5,255.6 480.8,255.6 482.5,268.4 473.8,268.4" fill="#818181"/>
<polygon points="480,255.6 489.3,255.6 490.5,268.4 481.7,268.4" fill="#7c7c7c"/>
<polygon points="488.5,255.6 497.8,255.6 498.5,268.4 489.7,268.4" fill="#777777"/>
<polygon points="497,255.6 506.3,255.6 506.4,268.4 497.7,268.4" fill="#6f6f6f"/>
<polygon points="505.5,255.6 514.8,255.6 514.4,268.4 505.6,268.4" fill="#656565"/>
<polygon points="514,255.6 523.3,255.6 522.4,268.4 513.6,268.4" fill="#5b5b5b"/>
<polygon points="522.5,255.6 531.8,255.6 530.3,268.4 521.6,268.4" fill="#545454"/>
<polygon points="531,255.6 540.3,255.6 538.3,268.4 529.5,268.4" fill="#525252"/>
<polygon points="539.5,255.6 548.8,255.6 546.3,268.4 537.5,268.4" fill="#585858"/>
<polygon points="548,255.6 557.3,255.6 554.2,268.4 545.5,268.4" fill="#626262"/>
<polygon points="556.5,255.6 565.8,255.6 562.2,268.4 553.4,268.4" fill="#737373"/>
<polygon points="565,255.6 574.3,255.6 570.2,268.4 561.4,268.4" fill="#8a8a8a"/>
<polygon points="573.5,255.6 582.8,255.6 578.1,268.4 569.4,268.4" fill="#a6a6a6" fill-opacity="0.87"/>
<polygon points="582,255.6 591.3,255.6 586.1,268.4 577.3,268.4" fill="#c7c7c7" fill-opacity="0.56"/>
</g>
<clipPath id="funClipB"><path d="M422.8 226 L426 230 L429.2 234 L432.4 238 L436.8 242 L443.1 246 L447.8 250 L452.5 254 L455.3 258 L456 262 L457.5 266 L459 270 L460.5 274 L462 278 L464.1 282 L466.3 286 L468.4 290 L468.9 294 L469.4 298 L470 302 L470.5 306 L471 310 L470.4 314 L469.7 318 L469.1 322 L468.5 326 L467.8 330 L467.1 334 L466.4 338 L465.7 342 L465 346 L464.3 350 L463.4 354 L462.6 358 L461.8 362 L460.9 366 L460.1 370 L459.3 374 L458.6 378 L457.8 382 L457 386 L456.1 390 L455.1 394 L454.2 398 L453.2 402 L452.2 406 L451.2 410 L450.2 414 L449 418 L447.6 422 L446.2 426 L444.8 430 L443.4 434 L442 438 L440.7 442 L439.3 446 L438 450 L436.7 454 L435.3 458 L434 462 L432.8 466 L432 470 L431.2 474 L430.4 478 L429.6 482 L428.8 486 L428 490 L427.3 494 L426.5 498 L425.8 502 L425.1 506 L424.4 510 L423.7 514 L423.1 518 L422.5 522 L422 526 L421.4 530 L420.8 534 L420.5 538 L420.4 542 L420.3 546 L420.2 550 L420.1 554 L420 558 L420.3 562 L420.8 566 L421.3 570 L421.9 574 L422.4 578 L422.9 582 L423.5 586 L424 590 L424 594 L424 598 L800 596 L800 226Z"/></clipPath>
<g clip-path="url(#funClipB)">
<g filter="url(#b3)">
<polygon points="439.2,231.6 450,231.6 461,244.4 451.1,244.4" fill="#9c9c9c" fill-opacity="0.53"/>
<polygon points="449.2,231.6 460,231.6 470,244.4 460.2,244.4" fill="#959595" fill-opacity="0.73"/>
<polygon points="459.2,231.6 470.1,231.6 479.1,244.4 469.2,244.4" fill="#8a8a8a" fill-opacity="0.84"/>
<polygon points="469.3,231.6 480.1,231.6 488.1,244.4 478.3,244.4" fill="#7e7e7e" fill-opacity="0.94"/>
<polygon points="479.3,231.6 490.1,231.6 497.1,244.4 487.3,244.4" fill="#757575" fill-opacity="0.97"/>
<polygon points="489.3,231.6 500.1,231.6 506.2,244.4 496.3,244.4" fill="#6a6a6a" fill-opacity="0.99"/>
<polygon points="499.4,231.6 510.2,231.6 515.2,244.4 505.4,244.4" fill="#606060"/>
<polygon points="509.4,231.6 520.2,231.6 524.3,244.4 514.4,244.4" fill="#595959"/>
<polygon points="519.4,231.6 530.2,231.6 533.3,244.4 523.5,244.4" fill="#535353"/>
<polygon points="529.4,231.6 540.2,231.6 542.4,244.4 532.5,244.4" fill="#525252"/>
<polygon points="539.5,231.6 550.3,231.6 551.4,244.4 541.6,244.4" fill="#565656"/>
<polygon points="549.5,231.6 560.3,231.6 560.4,244.4 550.6,244.4" fill="#5c5c5c"/>
<polygon points="559.5,231.6 570.3,231.6 569.5,244.4 559.6,244.4" fill="#6c6c6c"/>
<polygon points="569.5,231.6 580.4,231.6 578.5,244.4 568.7,244.4" fill="#808080"/>
<polygon points="579.6,231.6 590.4,231.6 587.6,244.4 577.7,244.4" fill="#999999" fill-opacity="0.94"/>
<polygon points="589.6,231.6 600.4,231.6 596.6,244.4 586.8,244.4" fill="#b7b7b7" fill-opacity="0.74"/>
<polygon points="442.5,243.6 451.9,243.6 455.3,256.4 445.9,256.4" fill="#909090" fill-opacity="0.85"/>
<polygon points="451.1,243.6 461,243.6 463.8,256.4 454.5,256.4" fill="#8f8f8f" fill-opacity="0.86"/>
<polygon points="460.2,243.6 470,243.6 472.3,256.4 463,256.4" fill="#8a8a8a" fill-opacity="0.92"/>
<polygon points="469.2,243.6 479.1,243.6 480.8,256.4 471.5,256.4" fill="#838383" fill-opacity="0.95"/>
<polygon points="478.3,243.6 488.1,243.6 489.3,256.4 480,256.4" fill="#7c7c7c" fill-opacity="0.98"/>
<polygon points="487.3,243.6 497.1,243.6 497.8,256.4 488.5,256.4" fill="#767676" fill-opacity="0.99"/>
<polygon points="496.3,243.6 506.2,243.6 506.3,256.4 497,256.4" fill="#6d6d6d"/>
<polygon points="505.4,243.6 515.2,243.6 514.8,256.4 505.5,256.4" fill="#636363"/>
<polygon points="514.4,243.6 524.3,243.6 523.3,256.4 514,256.4" fill="#5a5a5a"/>
<polygon points="523.5,243.6 533.3,243.6 531.8,256.4 522.5,256.4" fill="#545454"/>
<polygon points="532.5,243.6 542.4,243.6 540.3,256.4 531,256.4" fill="#525252"/>
<polygon points="541.6,243.6 551.4,243.6 548.8,256.4 539.5,256.4" fill="#575757"/>
<polygon points="550.6,243.6 560.4,243.6 557.3,256.4 548,256.4" fill="#606060"/>
<polygon points="559.6,243.6 569.5,243.6 565.8,256.4 556.5,256.4" fill="#717171"/>
<polygon points="568.7,243.6 578.5,243.6 574.3,256.4 565,256.4" fill="#878787"/>
<polygon points="577.7,243.6 587.6,243.6 582.8,256.4 573.5,256.4" fill="#a2a2a2" fill-opacity="0.89"/>
<polygon points="586.8,243.6 596.6,243.6 591.3,256.4 582,256.4" fill="#c2c2c2" fill-opacity="0.61"/>
<polygon points="445.9,255.6 455.3,255.6 458.6,268.4 449.2,268.4" fill="#8a8a8a"/>
<polygon points="454.5,255.6 463.8,255.6 466.6,268.4 457.9,268.4" fill="#898989"/>
<polygon points="463,255.6 472.3,255.6 474.6,268.4 465.8,268.4" fill="#858585"/>
<polygon points="471.5,255.6 480.8,255.6 482.5,268.4 473.8,268.4" fill="#818181"/>
<polygon points="480,255.6 489.3,255.6 490.5,268.4 481.7,268.4" fill="#7c7c7c"/>
<polygon points="488.5,255.6 497.8,255.6 498.5,268.4 489.7,268.4" fill="#777777"/>
<polygon points="497,255.6 506.3,255.6 506.4,268.4 497.7,268.4" fill="#6f6f6f"/>
<polygon points="505.5,255.6 514.8,255.6 514.4,268.4 505.6,268.4" fill="#656565"/>
<polygon points="514,255.6 523.3,255.6 522.4,268.4 513.6,268.4" fill="#5b5b5b"/>
<polygon points="522.5,255.6 531.8,255.6 530.3,268.4 521.6,268.4" fill="#545454"/>
<polygon points="531,255.6 540.3,255.6 538.3,268.4 529.5,268.4" fill="#525252"/>
<polygon points="539.5,255.6 548.8,255.6 546.3,268.4 537.5,268.4" fill="#585858"/>
<polygon points="548,255.6 557.3,255.6 554.2,268.4 545.5,268.4" fill="#626262"/>
<polygon points="556.5,255.6 565.8,255.6 562.2,268.4 553.4,268.4" fill="#737373"/>
<polygon points="565,255.6 574.3,255.6 570.2,268.4 561.4,268.4" fill="#8a8a8a"/>
<polygon points="573.5,255.6 582.8,255.6 578.1,268.4 569.4,268.4" fill="#a6a6a6" fill-opacity="0.87"/>
<polygon points="582,255.6 591.3,255.6 586.1,268.4 577.3,268.4" fill="#c7c7c7" fill-opacity="0.56"/>
<polygon points="449.2,267.6 458.6,267.6 463.5,280.4 454.1,280.4" fill="#8a8a8a"/>
<polygon points="457.9,267.6 466.6,267.6 470.8,280.4 462.7,280.4" fill="#898989"/>
<polygon points="465.8,267.6 474.6,267.6 478.1,280.4 470,280.4" fill="#858585"/>
<polygon points="473.8,267.6 482.5,267.6 485.5,280.4 477.3,280.4" fill="#818181"/>
<polygon points="481.7,267.6 490.5,267.6 492.8,280.4 484.7,280.4" fill="#7c7c7c"/>
<polygon points="489.7,267.6 498.5,267.6 500.1,280.4 492,280.4" fill="#777777"/>
<polygon points="497.7,267.6 506.4,267.6 507.5,280.4 499.3,280.4" fill="#6f6f6f"/>
<polygon points="505.6,267.6 514.4,267.6 514.8,280.4 506.7,280.4" fill="#656565"/>
<polygon points="513.6,267.6 522.4,267.6 522.2,280.4 514,280.4" fill="#5b5b5b"/>
<polygon points="521.6,267.6 530.3,267.6 529.5,280.4 521.4,280.4" fill="#545454"/>
<polygon points="529.5,267.6 538.3,267.6 536.8,280.4 528.7,280.4" fill="#525252"/>
<polygon points="537.5,267.6 546.3,267.6 544.2,280.4 536,280.4" fill="#585858"/>
<polygon points="545.5,267.6 554.2,267.6 551.5,280.4 543.4,280.4" fill="#626262"/>
<polygon points="553.4,267.6 562.2,267.6 558.8,280.4 550.7,280.4" fill="#737373"/>
<polygon points="561.4,267.6 570.2,267.6 566.2,280.4 558,280.4" fill="#8a8a8a"/>
<polygon points="569.4,267.6 578.1,267.6 573.5,280.4 565.4,280.4" fill="#a6a6a6" fill-opacity="0.87"/>
<polygon points="577.3,267.6 586.1,267.6 580.8,280.4 572.7,280.4" fill="#c7c7c7" fill-opacity="0.56"/>
<polygon points="454.1,279.6 463.5,279.6 469.1,292.4 459.7,292.4" fill="#8a8a8a"/>
<polygon points="462.7,279.6 470.8,279.6 475.7,292.4 468.3,292.4" fill="#898989"/>
<polygon points="470,279.6 478.1,279.6 482.4,292.4 474.9,292.4" fill="#858585"/>
<polygon points="477.3,279.6 485.5,279.6 489,292.4 481.6,292.4" fill="#818181"/>
<polygon points="484.7,279.6 492.8,279.6 495.7,292.4 488.2,292.4" fill="#7c7c7c"/>
<polygon points="492,279.6 500.1,279.6 502.4,292.4 494.9,292.4" fill="#777777"/>
<polygon points="499.3,279.6 507.5,279.6 509,292.4 501.6,292.4" fill="#6f6f6f"/>
<polygon points="506.7,279.6 514.8,279.6 515.7,292.4 508.2,292.4" fill="#656565"/>
<polygon points="514,279.6 522.2,279.6 522.3,292.4 514.9,292.4" fill="#5b5b5b"/>
<polygon points="521.4,279.6 529.5,279.6 529,292.4 521.5,292.4" fill="#545454"/>
<polygon points="528.7,279.6 536.8,279.6 535.6,292.4 528.2,292.4" fill="#525252"/>
<polygon points="536,279.6 544.2,279.6 542.3,292.4 534.8,292.4" fill="#585858"/>
<polygon points="543.4,279.6 551.5,279.6 549,292.4 541.5,292.4" fill="#626262"/>
<polygon points="550.7,279.6 558.8,279.6 555.6,292.4 548.2,292.4" fill="#737373"/>
<polygon points="558,279.6 566.2,279.6 562.3,292.4 554.8,292.4" fill="#8a8a8a"/>
<polygon points="565.4,279.6 573.5,279.6 568.9,292.4 561.5,292.4" fill="#a6a6a6" fill-opacity="0.87"/>
<polygon points="572.7,279.6 580.8,279.6 575.6,292.4 568.1,292.4" fill="#c7c7c7" fill-opacity="0.56"/>
<polygon points="459.7,291.6 469.1,291.6 470.6,304.4 461.2,304.4" fill="#8a8a8a"/>
<polygon points="468.3,291.6 475.7,291.6 476.9,304.4 469.8,304.4" fill="#898989"/>
<polygon points="474.9,291.6 482.4,291.6 483.1,304.4 476.1,304.4" fill="#858585"/>
<polygon points="481.6,291.6 489,291.6 489.4,304.4 482.3,304.4" fill="#818181"/>
<polygon points="488.2,291.6 495.7,291.6 495.7,304.4 488.6,304.4" fill="#7c7c7c"/>
<polygon points="494.9,291.6 502.4,291.6 501.9,304.4 494.9,304.4" fill="#777777"/>
<polygon points="501.6,291.6 509,291.6 508.2,304.4 501.1,304.4" fill="#6f6f6f"/>
<polygon points="508.2,291.6 515.7,291.6 514.4,304.4 507.4,304.4" fill="#656565"/>
<polygon points="514.9,291.6 522.3,291.6 520.7,304.4 513.6,304.4" fill="#5b5b5b"/>
<polygon points="521.5,291.6 529,291.6 527,304.4 519.9,304.4" fill="#545454"/>
<polygon points="528.2,291.6 535.6,291.6 533.2,304.4 526.2,304.4" fill="#525252"/>
<polygon points="534.8,291.6 542.3,291.6 539.5,304.4 532.4,304.4" fill="#585858"/>
<polygon points="541.5,291.6 549,291.6 545.8,304.4 538.7,304.4" fill="#626262"/>
<polygon points="548.2,291.6 555.6,291.6 552,304.4 545,304.4" fill="#737373"/>
<polygon points="554.8,291.6 562.3,291.6 558.3,304.4 551.2,304.4" fill="#8a8a8a"/>
<polygon points="561.5,291.6 568.9,291.6 564.5,304.4 557.5,304.4" fill="#a6a6a6" fill-opacity="0.87"/>
<polygon points="568.1,291.6 575.6,291.6 570.8,304.4 563.7,304.4" fill="#c7c7c7" fill-opacity="0.56"/>
<polygon points="461.2,303.6 470.6,303.6 470.5,316.4 461.1,316.4" fill="#8a8a8a"/>
<polygon points="469.8,303.6 476.9,303.6 476.3,316.4 469.7,316.4" fill="#898989"/>
<polygon points="476.1,303.6 483.1,303.6 482.2,316.4 475.5,316.4" fill="#858585"/>
<polygon points="482.3,303.6 489.4,303.6 488.1,316.4 481.4,316.4" fill="#818181"/>
<polygon points="488.6,303.6 495.7,303.6 494,316.4 487.3,316.4" fill="#7c7c7c"/>
<polygon points="494.9,303.6 501.9,303.6 499.9,316.4 493.2,316.4" fill="#777777"/>
<polygon points="501.1,303.6 508.2,303.6 505.8,316.4 499.1,316.4" fill="#6f6f6f"/>
<polygon points="507.4,303.6 514.4,303.6 511.6,316.4 505,316.4" fill="#656565"/>
<polygon points="513.6,303.6 520.7,303.6 517.5,316.4 510.8,316.4" fill="#5b5b5b"/>
<polygon points="519.9,303.6 527,303.6 523.4,316.4 516.7,316.4" fill="#545454"/>
<polygon points="526.2,303.6 533.2,303.6 529.3,316.4 522.6,316.4" fill="#525252"/>
<polygon points="532.4,303.6 539.5,303.6 535.2,316.4 528.5,316.4" fill="#585858"/>
<polygon points="538.7,303.6 545.8,303.6 541.1,316.4 534.4,316.4" fill="#626262"/>
<polygon points="545,303.6 552,303.6 547,316.4 540.3,316.4" fill="#737373"/>
<polygon points="551.2,303.6 558.3,303.6 552.8,316.4 546.2,316.4" fill="#8a8a8a"/>
<polygon points="557.5,303.6 564.5,303.6 558.7,316.4 552,316.4" fill="#a6a6a6" fill-opacity="0.87"/>
<polygon points="563.7,303.6 570.8,303.6 564.6,316.4 557.9,316.4" fill="#c7c7c7" fill-opacity="0.56"/>
<polygon points="461.1,315.6 470.5,315.6 468.6,328.4 459.2,328.4" fill="#8a8a8a"/>
<polygon points="469.7,315.6 476.3,315.6 474.1,328.4 467.8,328.4" fill="#898989"/>
<polygon points="475.5,315.6 482.2,315.6 479.6,328.4 473.3,328.4" fill="#858585"/>
<polygon points="481.4,315.6 488.1,315.6 485.1,328.4 478.8,328.4" fill="#818181"/>
<polygon points="487.3,315.6 494,315.6 490.7,328.4 484.3,328.4" fill="#7c7c7c"/>
<polygon points="493.2,315.6 499.9,315.6 496.2,328.4 489.9,328.4" fill="#777777"/>
<polygon points="499.1,315.6 505.8,315.6 501.7,328.4 495.4,328.4" fill="#6f6f6f"/>
<polygon points="505,315.6 511.6,315.6 507.3,328.4 500.9,328.4" fill="#656565"/>
<polygon points="510.8,315.6 517.5,315.6 512.8,328.4 506.5,328.4" fill="#5b5b5b"/>
<polygon points="516.7,315.6 523.4,315.6 518.3,328.4 512,328.4" fill="#545454"/>
<polygon points="522.6,315.6 529.3,315.6 523.9,328.4 517.5,328.4" fill="#525252"/>
<polygon points="528.5,315.6 535.2,315.6 529.4,328.4 523.1,328.4" fill="#585858"/>
<polygon points="534.4,315.6 541.1,315.6 534.9,328.4 528.6,328.4" fill="#626262"/>
<polygon points="540.3,315.6 547,315.6 540.4,328.4 534.1,328.4" fill="#737373"/>
<polygon points="546.2,315.6 552.8,315.6 546,328.4 539.6,328.4" fill="#8a8a8a"/>
<polygon points="552,315.6 558.7,315.6 551.5,328.4 545.2,328.4" fill="#a6a6a6" fill-opacity="0.87"/>
<polygon points="557.9,315.6 564.6,315.6 557,328.4 550.7,328.4" fill="#c7c7c7" fill-opacity="0.56"/>
<polygon points="459.2,327.6 468.6,327.6 466.5,340.4 457.1,340.4" fill="#8a8a8a"/>
<polygon points="467.8,327.6 474.1,327.6 471.8,340.4 465.7,340.4" fill="#898989"/>
<polygon points="473.3,327.6 479.6,327.6 477.2,340.4 471,340.4" fill="#858585"/>
<polygon points="478.8,327.6 485.1,327.6 482.5,340.4 476.4,340.4" fill="#818181"/>
<polygon points="484.3,327.6 490.7,327.6 487.9,340.4 481.7,340.4" fill="#7c7c7c"/>
<polygon points="489.9,327.6 496.2,327.6 493.2,340.4 487.1,340.4" fill="#777777"/>
<polygon points="495.4,327.6 501.7,327.6 498.5,340.4 492.4,340.4" fill="#6f6f6f"/>
<polygon points="500.9,327.6 507.3,327.6 503.9,340.4 497.7,340.4" fill="#656565"/>
<polygon points="506.5,327.6 512.8,327.6 509.2,340.4 503.1,340.4" fill="#5b5b5b"/>
<polygon points="512,327.6 518.3,327.6 514.6,340.4 508.4,340.4" fill="#545454"/>
<polygon points="517.5,327.6 523.9,327.6 519.9,340.4 513.8,340.4" fill="#525252"/>
<polygon points="523.1,327.6 529.4,327.6 525.3,340.4 519.1,340.4" fill="#585858"/>
<polygon points="528.6,327.6 534.9,327.6 530.6,340.4 524.5,340.4" fill="#626262"/>
<polygon points="534.1,327.6 540.4,327.6 536,340.4 529.8,340.4" fill="#737373"/>
<polygon points="539.6,327.6 546,327.6 541.3,340.4 535.2,340.4" fill="#8a8a8a"/>
<polygon points="545.2,327.6 551.5,327.6 546.7,340.4 540.5,340.4" fill="#a6a6a6" fill-opacity="0.87"/>
<polygon points="550.7,327.6 557,327.6 552,340.4 545.9,340.4" fill="#c7c7c7" fill-opacity="0.56"/>
<polygon points="457.1,339.6 466.5,339.6 464.3,352.4 454.9,352.4" fill="#8a8a8a"/>
<polygon points="465.7,339.6 471.8,339.6 469.5,352.4 463.5,352.4" fill="#898989"/>
<polygon points="471,339.6 477.2,339.6 474.6,352.4 468.7,352.4" fill="#858585"/>
<polygon points="476.4,339.6 482.5,339.6 479.8,352.4 473.8,352.4" fill="#818181"/>
<polygon points="481.7,339.6 487.9,339.6 485,352.4 479,352.4" fill="#7c7c7c"/>
<polygon points="487.1,339.6 493.2,339.6 490.2,352.4 484.2,352.4" fill="#777777"/>
<polygon points="492.4,339.6 498.5,339.6 495.4,352.4 489.4,352.4" fill="#6f6f6f"/>
<polygon points="497.7,339.6 503.9,339.6 500.6,352.4 494.6,352.4" fill="#656565"/>
<polygon points="503.1,339.6 509.2,339.6 505.7,352.4 499.8,352.4" fill="#5b5b5b"/>
<polygon points="508.4,339.6 514.6,339.6 510.9,352.4 504.9,352.4" fill="#545454"/>
<polygon points="513.8,339.6 519.9,339.6 516.1,352.4 510.1,352.4" fill="#525252"/>
<polygon points="519.1,339.6 525.3,339.6 521.3,352.4 515.3,352.4" fill="#585858"/>
<polygon points="524.5,339.6 530.6,339.6 526.5,352.4 520.5,352.4" fill="#626262"/>
<polygon points="529.8,339.6 536,339.6 531.7,352.4 525.7,352.4" fill="#737373"/>
<polygon points="535.2,339.6 541.3,339.6 536.9,352.4 530.9,352.4" fill="#8a8a8a"/>
<polygon points="540.5,339.6 546.7,339.6 542,352.4 536.1,352.4" fill="#a6a6a6" fill-opacity="0.87"/>
<polygon points="545.9,339.6 552,339.6 547.2,352.4 541.2,352.4" fill="#c7c7c7" fill-opacity="0.56"/>
<polygon points="454.9,351.6 464.3,351.6 461.7,364.4 452.3,364.4" fill="#8a8a8a"/>
<polygon points="463.5,351.6 469.5,351.6 466.8,364.4 460.9,364.4" fill="#898989"/>
<polygon points="468.7,351.6 474.6,351.6 471.8,364.4 466,364.4" fill="#858585"/>
<polygon points="473.8,351.6 479.8,351.6 476.9,364.4 471,364.4" fill="#818181"/>
<polygon points="479,351.6 485,351.6 481.9,364.4 476.1,364.4" fill="#7c7c7c"/>
<polygon points="484.2,351.6 490.2,351.6 487,364.4 481.1,364.4" fill="#777777"/>
<polygon points="489.4,351.6 495.4,351.6 492,364.4 486.2,364.4" fill="#6f6f6f"/>
<polygon points="494.6,351.6 500.6,351.6 497.1,364.4 491.2,364.4" fill="#656565"/>
<polygon points="499.8,351.6 505.7,351.6 502.1,364.4 496.3,364.4" fill="#5b5b5b"/>
<polygon points="504.9,351.6 510.9,351.6 507.2,364.4 501.4,364.4" fill="#545454"/>
<polygon points="510.1,351.6 516.1,351.6 512.3,364.4 506.4,364.4" fill="#525252"/>
<polygon points="515.3,351.6 521.3,351.6 517.3,364.4 511.5,364.4" fill="#585858"/>
<polygon points="520.5,351.6 526.5,351.6 522.4,364.4 516.5,364.4" fill="#626262"/>
<polygon points="525.7,351.6 531.7,351.6 527.4,364.4 521.6,364.4" fill="#737373"/>
<polygon points="530.9,351.6 536.9,351.6 532.5,364.4 526.6,364.4" fill="#8a8a8a"/>
<polygon points="536.1,351.6 542,351.6 537.5,364.4 531.7,364.4" fill="#a6a6a6" fill-opacity="0.87"/>
<polygon points="541.2,351.6 547.2,351.6 542.6,364.4 536.7,364.4" fill="#c7c7c7" fill-opacity="0.56"/>
<polygon points="452.3,363.6 461.7,363.6 459.3,376.4 449.9,376.4" fill="#8a8a8a"/>
<polygon points="460.9,363.6 466.8,363.6 464.2,376.4 458.5,376.4" fill="#898989"/>
<polygon points="466,363.6 471.8,363.6 469,376.4 463.4,376.4" fill="#858585"/>
<polygon points="471,363.6 476.9,363.6 473.8,376.4 468.2,376.4" fill="#818181"/>
<polygon points="476.1,363.6 481.9,363.6 478.6,376.4 473,376.4" fill="#7c7c7c"/>
<polygon points="481.1,363.6 487,363.6 483.4,376.4 477.8,376.4" fill="#777777"/>
<polygon points="486.2,363.6 492,363.6 488.2,376.4 482.6,376.4" fill="#6f6f6f"/>
<polygon points="491.2,363.6 497.1,363.6 493,376.4 487.4,376.4" fill="#656565"/>
<polygon points="496.3,363.6 502.1,363.6 497.9,376.4 492.2,376.4" fill="#5b5b5b"/>
<polygon points="501.4,363.6 507.2,363.6 502.7,376.4 497.1,376.4" fill="#545454"/>
<polygon points="506.4,363.6 512.3,363.6 507.5,376.4 501.9,376.4" fill="#525252"/>
<polygon points="511.5,363.6 517.3,363.6 512.3,376.4 506.7,376.4" fill="#585858"/>
<polygon points="516.5,363.6 522.4,363.6 517.1,376.4 511.5,376.4" fill="#626262"/>
<polygon points="521.6,363.6 527.4,363.6 521.9,376.4 516.3,376.4" fill="#737373"/>
<polygon points="526.6,363.6 532.5,363.6 526.7,376.4 521.1,376.4" fill="#8a8a8a"/>
<polygon points="531.7,363.6 537.5,363.6 531.5,376.4 525.9,376.4" fill="#a6a6a6" fill-opacity="0.87"/>
<polygon points="536.7,363.6 542.6,363.6 536.4,376.4 530.7,376.4" fill="#c7c7c7" fill-opacity="0.56"/>
<polygon points="449.9,375.6 459.3,375.6 457,388.4 447.6,388.4" fill="#8a8a8a" fill-opacity="0.87"/>
<polygon points="458.5,375.6 464.2,375.6 461.5,388.4 456.2,388.4" fill="#898989" fill-opacity="0.87"/>
<polygon points="463.4,375.6 469,375.6 466.1,388.4 460.7,388.4" fill="#858585" fill-opacity="0.87"/>
<polygon points="468.2,375.6 473.8,375.6 470.6,388.4 465.3,388.4" fill="#818181" fill-opacity="0.87"/>
<polygon points="473,375.6 478.6,375.6 475.1,388.4 469.8,388.4" fill="#7c7c7c" fill-opacity="0.87"/>
<polygon points="477.8,375.6 483.4,375.6 479.6,388.4 474.3,388.4" fill="#777777" fill-opacity="0.87"/>
<polygon points="482.6,375.6 488.2,375.6 484.1,388.4 478.8,388.4" fill="#6f6f6f" fill-opacity="0.87"/>
<polygon points="487.4,375.6 493,375.6 488.7,388.4 483.4,388.4" fill="#656565" fill-opacity="0.87"/>
<polygon points="492.2,375.6 497.9,375.6 493.2,388.4 487.9,388.4" fill="#5b5b5b" fill-opacity="0.87"/>
<polygon points="497.1,375.6 502.7,375.6 497.7,388.4 492.4,388.4" fill="#545454" fill-opacity="0.87"/>
<polygon points="501.9,375.6 507.5,375.6 502.2,388.4 496.9,388.4" fill="#525252" fill-opacity="0.87"/>
<polygon points="506.7,375.6 512.3,375.6 506.8,388.4 501.5,388.4" fill="#585858" fill-opacity="0.87"/>
<polygon points="511.5,375.6 517.1,375.6 511.3,388.4 506,388.4" fill="#626262" fill-opacity="0.87"/>
<polygon points="516.3,375.6 521.9,375.6 515.8,388.4 510.5,388.4" fill="#737373" fill-opacity="0.87"/>
<polygon points="521.1,375.6 526.7,375.6 520.4,388.4 515,388.4" fill="#8a8a8a" fill-opacity="0.87"/>
<polygon points="525.9,375.6 531.5,375.6 524.9,388.4 519.6,388.4" fill="#a6a6a6" fill-opacity="0.76"/>
<polygon points="530.7,375.6 536.4,375.6 529.4,388.4 524.1,388.4" fill="#c7c7c7" fill-opacity="0.49"/>
<polygon points="447.6,387.6 457,387.6 454.1,400.4 444.7,400.4" fill="#8a8a8a" fill-opacity="0.49"/>
<polygon points="456.2,387.6 461.5,387.6 458.4,400.4 453.3,400.4" fill="#898989" fill-opacity="0.49"/>
<polygon points="460.7,387.6 466.1,387.6 462.6,400.4 457.6,400.4" fill="#858585" fill-opacity="0.49"/>
<polygon points="465.3,387.6 470.6,387.6 466.9,400.4 461.9,400.4" fill="#818181" fill-opacity="0.49"/>
<polygon points="469.8,387.6 475.1,387.6 471.2,400.4 466.1,400.4" fill="#7c7c7c" fill-opacity="0.49"/>
<polygon points="474.3,387.6 479.6,387.6 475.5,400.4 470.4,400.4" fill="#777777" fill-opacity="0.49"/>
<polygon points="478.8,387.6 484.1,387.6 479.8,400.4 474.7,400.4" fill="#6f6f6f" fill-opacity="0.49"/>
<polygon points="483.4,387.6 488.7,387.6 484.1,400.4 479,400.4" fill="#656565" fill-opacity="0.49"/>
<polygon points="487.9,387.6 493.2,387.6 488.4,400.4 483.3,400.4" fill="#5b5b5b" fill-opacity="0.49"/>
<polygon points="492.4,387.6 497.7,387.6 492.7,400.4 487.6,400.4" fill="#545454" fill-opacity="0.49"/>
<polygon points="496.9,387.6 502.2,387.6 497,400.4 491.9,400.4" fill="#525252" fill-opacity="0.49"/>
<polygon points="501.5,387.6 506.8,387.6 501.3,400.4 496.2,400.4" fill="#585858" fill-opacity="0.49"/>
<polygon points="506,387.6 511.3,387.6 505.6,400.4 500.5,400.4" fill="#626262" fill-opacity="0.49"/>
<polygon points="510.5,387.6 515.8,387.6 509.9,400.4 504.8,400.4" fill="#737373" fill-opacity="0.49"/>
<polygon points="515,387.6 520.4,387.6 514.1,400.4 509.1,400.4" fill="#8a8a8a" fill-opacity="0.49"/>
<polygon points="519.6,387.6 524.9,387.6 518.4,400.4 513.4,400.4" fill="#a6a6a6" fill-opacity="0.43"/>
<polygon points="524.1,387.6 529.4,387.6 522.7,400.4 517.6,400.4" fill="#c7c7c7" fill-opacity="0.27"/>
<polygon points="444.7,399.6 454.1,399.6 451.1,412.4 441.7,412.4" fill="#8a8a8a" fill-opacity="0.30"/>
<polygon points="453.3,399.6 458.4,399.6 455.2,412.4 450.3,412.4" fill="#898989" fill-opacity="0.30"/>
<polygon points="457.6,399.6 462.6,399.6 459.2,412.4 454.4,412.4" fill="#858585" fill-opacity="0.30"/>
<polygon points="461.9,399.6 466.9,399.6 463.3,412.4 458.5,412.4" fill="#818181" fill-opacity="0.30"/>
<polygon points="466.1,399.6 471.2,399.6 467.4,412.4 462.5,412.4" fill="#7c7c7c" fill-opacity="0.30"/>
<polygon points="470.4,399.6 475.5,399.6 471.4,412.4 466.6,412.4" fill="#777777" fill-opacity="0.30"/>
<polygon points="474.7,399.6 479.8,399.6 475.5,412.4 470.6,412.4" fill="#6f6f6f" fill-opacity="0.30"/>
<polygon points="479,399.6 484.1,399.6 479.5,412.4 474.7,412.4" fill="#656565" fill-opacity="0.30"/>
<polygon points="483.3,399.6 488.4,399.6 483.6,412.4 478.7,412.4" fill="#5b5b5b" fill-opacity="0.30"/>
<polygon points="487.6,399.6 492.7,399.6 487.7,412.4 482.8,412.4" fill="#545454" fill-opacity="0.30"/>
<polygon points="491.9,399.6 497,399.6 491.7,412.4 486.9,412.4" fill="#525252" fill-opacity="0.30"/>
<polygon points="496.2,399.6 501.3,399.6 495.8,412.4 490.9,412.4" fill="#585858" fill-opacity="0.30"/>
<polygon points="500.5,399.6 505.6,399.6 499.8,412.4 495,412.4" fill="#626262" fill-opacity="0.30"/>
<polygon points="504.8,399.6 509.9,399.6 503.9,412.4 499,412.4" fill="#737373" fill-opacity="0.30"/>
<polygon points="509.1,399.6 514.1,399.6 507.9,412.4 503.1,412.4" fill="#8a8a8a" fill-opacity="0.30"/>
<polygon points="513.4,399.6 518.4,399.6 512,412.4 507.1,412.4" fill="#a6a6a6" fill-opacity="0.26"/>
<polygon points="517.6,399.6 522.7,399.6 516.1,412.4 511.2,412.4" fill="#c7c7c7" fill-opacity="0.17"/>
<polygon points="441.7,411.6 451.1,411.6 447.3,424.4 437.9,424.4" fill="#8a8a8a" fill-opacity="0.30"/>
<polygon points="450.3,411.6 455.2,411.6 451.1,424.4 446.5,424.4" fill="#898989" fill-opacity="0.30"/>
<polygon points="454.4,411.6 459.2,411.6 454.9,424.4 450.3,424.4" fill="#858585" fill-opacity="0.30"/>
<polygon points="458.5,411.6 463.3,411.6 458.8,424.4 454.1,424.4" fill="#818181" fill-opacity="0.30"/>
<polygon points="462.5,411.6 467.4,411.6 462.6,424.4 458,424.4" fill="#7c7c7c" fill-opacity="0.30"/>
<polygon points="466.6,411.6 471.4,411.6 466.4,424.4 461.8,424.4" fill="#777777" fill-opacity="0.30"/>
<polygon points="470.6,411.6 475.5,411.6 470.2,424.4 465.6,424.4" fill="#6f6f6f" fill-opacity="0.30"/>
<polygon points="474.7,411.6 479.5,411.6 474.1,424.4 469.4,424.4" fill="#656565" fill-opacity="0.30"/>
<polygon points="478.7,411.6 483.6,411.6 477.9,424.4 473.3,424.4" fill="#5b5b5b" fill-opacity="0.30"/>
<polygon points="482.8,411.6 487.7,411.6 481.7,424.4 477.1,424.4" fill="#545454" fill-opacity="0.30"/>
<polygon points="486.9,411.6 491.7,411.6 485.6,424.4 480.9,424.4" fill="#525252" fill-opacity="0.30"/>
<polygon points="490.9,411.6 495.8,411.6 489.4,424.4 484.8,424.4" fill="#585858" fill-opacity="0.30"/>
<polygon points="495,411.6 499.8,411.6 493.2,424.4 488.6,424.4" fill="#626262" fill-opacity="0.30"/>
<polygon points="499,411.6 503.9,411.6 497,424.4 492.4,424.4" fill="#737373" fill-opacity="0.30"/>
<polygon points="503.1,411.6 507.9,411.6 500.9,424.4 496.2,424.4" fill="#8a8a8a" fill-opacity="0.30"/>
<polygon points="507.1,411.6 512,411.6 504.7,424.4 500.1,424.4" fill="#a6a6a6" fill-opacity="0.26"/>
<polygon points="511.2,411.6 516.1,411.6 508.5,424.4 503.9,424.4" fill="#c7c7c7" fill-opacity="0.17"/>
<polygon points="437.9,423.6 447.3,423.6 443.1,436.4 433.7,436.4" fill="#8a8a8a" fill-opacity="0.30"/>
<polygon points="446.5,423.6 451.1,423.6 446.7,436.4 442.3,436.4" fill="#898989" fill-opacity="0.30"/>
<polygon points="450.3,423.6 454.9,423.6 450.3,436.4 445.9,436.4" fill="#858585" fill-opacity="0.30"/>
<polygon points="454.1,423.6 458.8,423.6 453.9,436.4 449.5,436.4" fill="#818181" fill-opacity="0.30"/>
<polygon points="458,423.6 462.6,423.6 457.5,436.4 453.1,436.4" fill="#7c7c7c" fill-opacity="0.30"/>
<polygon points="461.8,423.6 466.4,423.6 461.1,436.4 456.7,436.4" fill="#777777" fill-opacity="0.30"/>
<polygon points="465.6,423.6 470.2,423.6 464.7,436.4 460.3,436.4" fill="#6f6f6f" fill-opacity="0.30"/>
<polygon points="469.4,423.6 474.1,423.6 468.3,436.4 463.9,436.4" fill="#656565" fill-opacity="0.30"/>
<polygon points="473.3,423.6 477.9,423.6 471.9,436.4 467.5,436.4" fill="#5b5b5b" fill-opacity="0.30"/>
<polygon points="477.1,423.6 481.7,423.6 475.5,436.4 471.1,436.4" fill="#545454" fill-opacity="0.30"/>
<polygon points="480.9,423.6 485.6,423.6 479.1,436.4 474.7,436.4" fill="#525252" fill-opacity="0.30"/>
<polygon points="484.8,423.6 489.4,423.6 482.7,436.4 478.3,436.4" fill="#585858" fill-opacity="0.30"/>
<polygon points="488.6,423.6 493.2,423.6 486.3,436.4 481.9,436.4" fill="#626262" fill-opacity="0.30"/>
<polygon points="492.4,423.6 497,423.6 489.9,436.4 485.5,436.4" fill="#737373" fill-opacity="0.30"/>
<polygon points="496.2,423.6 500.9,423.6 493.5,436.4 489.1,436.4" fill="#8a8a8a" fill-opacity="0.30"/>
<polygon points="500.1,423.6 504.7,423.6 497.1,436.4 492.7,436.4" fill="#a6a6a6" fill-opacity="0.26"/>
<polygon points="503.9,423.6 508.5,423.6 500.7,436.4 496.3,436.4" fill="#c7c7c7" fill-opacity="0.17"/>
<polygon points="433.7,435.6 443.1,435.6 439.1,448.4 429.7,448.4" fill="#898989" fill-opacity="0.30"/>
<polygon points="442.3,435.6 446.7,435.6 442.5,448.4 438.3,448.4" fill="#898989" fill-opacity="0.30"/>
<polygon points="445.9,435.6 450.3,435.6 445.8,448.4 441.7,448.4" fill="#8b8b8b" fill-opacity="0.30"/>
<polygon points="449.5,435.6 453.9,435.6 449.2,448.4 445,448.4" fill="#8b8b8b" fill-opacity="0.30"/>
<polygon points="453.1,435.6 457.5,435.6 452.6,448.4 448.4,448.4" fill="#848484" fill-opacity="0.30"/>
<polygon points="456.7,435.6 461.1,435.6 456,448.4 451.8,448.4" fill="#7d7d7d" fill-opacity="0.30"/>
<polygon points="460.3,435.6 464.7,435.6 459.4,448.4 455.2,448.4" fill="#737373" fill-opacity="0.30"/>
<polygon points="463.9,435.6 468.3,435.6 462.8,448.4 458.6,448.4" fill="#6d6d6d" fill-opacity="0.30"/>
<polygon points="467.5,435.6 471.9,435.6 466.2,448.4 462,448.4" fill="#686868" fill-opacity="0.30"/>
<polygon points="471.1,435.6 475.5,435.6 469.6,448.4 465.4,448.4" fill="#646464" fill-opacity="0.30"/>
<polygon points="474.7,435.6 479.1,435.6 473,448.4 468.8,448.4" fill="#646464" fill-opacity="0.30"/>
<polygon points="478.3,435.6 482.7,435.6 476.4,448.4 472.2,448.4" fill="#6a6a6a" fill-opacity="0.30"/>
<polygon points="481.9,435.6 486.3,435.6 479.8,448.4 475.6,448.4" fill="#747474" fill-opacity="0.30"/>
<polygon points="485.5,435.6 489.9,435.6 483.1,448.4 479,448.4" fill="#828282" fill-opacity="0.30"/>
<polygon points="489.1,435.6 493.5,435.6 486.5,448.4 482.3,448.4" fill="#949494" fill-opacity="0.29"/>
<polygon points="492.7,435.6 497.1,435.6 489.9,448.4 485.7,448.4" fill="#a9a9a9" fill-opacity="0.25"/>
<polygon points="496.3,435.6 500.7,435.6 493.3,448.4 489.1,448.4" fill="#c2c2c2" fill-opacity="0.18"/>
<polygon points="429.7,447.6 439.1,447.6 435.1,460.4 425.7,460.4" fill="#878787" fill-opacity="0.70"/>
<polygon points="438.3,447.6 442.5,447.6 438.3,460.4 434.3,460.4" fill="#898989" fill-opacity="0.70"/>
<polygon points="441.7,447.6 445.8,447.6 441.5,460.4 437.5,460.4" fill="#909090" fill-opacity="0.70"/>
<polygon points="445,447.6 449.2,447.6 444.7,460.4 440.7,460.4" fill="#959595" fill-opacity="0.70"/>
<polygon points="448.4,447.6 452.6,447.6 447.9,460.4 443.9,460.4" fill="#8c8c8c" fill-opacity="0.70"/>
<polygon points="451.8,447.6 456,447.6 451.1,460.4 447.1,460.4" fill="#828282" fill-opacity="0.70"/>
<polygon points="455.2,447.6 459.4,447.6 454.3,460.4 450.3,460.4" fill="#787878" fill-opacity="0.70"/>
<polygon points="458.6,447.6 462.8,447.6 457.5,460.4 453.5,460.4" fill="#767676" fill-opacity="0.70"/>
<polygon points="462,447.6 466.2,447.6 460.7,460.4 456.7,460.4" fill="#757575" fill-opacity="0.70"/>
<polygon points="465.4,447.6 469.6,447.6 463.9,460.4 459.9,460.4" fill="#747474" fill-opacity="0.70"/>
<polygon points="468.8,447.6 473,447.6 467.1,460.4 463.1,460.4" fill="#757575" fill-opacity="0.70"/>
<polygon points="472.2,447.6 476.4,447.6 470.3,460.4 466.3,460.4" fill="#7d7d7d" fill-opacity="0.70"/>
<polygon points="475.6,447.6 479.8,447.6 473.5,460.4 469.5,460.4" fill="#868686" fill-opacity="0.70"/>
<polygon points="479,447.6 483.1,447.6 476.7,460.4 472.7,460.4" fill="#919191" fill-opacity="0.70"/>
<polygon points="482.3,447.6 486.5,447.6 479.9,460.4 475.9,460.4" fill="#9e9e9e" fill-opacity="0.65"/>
<polygon points="485.7,447.6 489.9,447.6 483.1,460.4 479.1,460.4" fill="#adadad" fill-opacity="0.56"/>
<polygon points="489.1,447.6 493.3,447.6 486.3,460.4 482.3,460.4" fill="#bcbcbc" fill-opacity="0.45"/>
<polygon points="425.7,459.6 435.1,459.6 432,472.4 422.6,472.4" fill="#878787"/>
<polygon points="434.3,459.6 438.3,459.6 435,472.4 431.2,472.4" fill="#898989"/>
<polygon points="437.5,459.6 441.5,459.6 437.9,472.4 434.2,472.4" fill="#939393"/>
<polygon points="440.7,459.6 444.7,459.6 440.9,472.4 437.1,472.4" fill="#9a9a9a"/>
<polygon points="443.9,459.6 447.9,459.6 443.9,472.4 440.1,472.4" fill="#909090"/>
<polygon points="447.1,459.6 451.1,459.6 446.8,472.4 443.1,472.4" fill="#858585"/>
<polygon points="450.3,459.6 454.3,459.6 449.8,472.4 446,472.4" fill="#7b7b7b"/>
<polygon points="453.5,459.6 457.5,459.6 452.8,472.4 449,472.4" fill="#7a7a7a"/>
<polygon points="456.7,459.6 460.7,459.6 455.7,472.4 452,472.4" fill="#7b7b7b"/>
<polygon points="459.9,459.6 463.9,459.6 458.7,472.4 454.9,472.4" fill="#7c7c7c"/>
<polygon points="463.1,459.6 467.1,459.6 461.7,472.4 457.9,472.4" fill="#7d7d7d"/>
<polygon points="466.3,459.6 470.3,459.6 464.6,472.4 460.9,472.4" fill="#868686"/>
<polygon points="469.5,459.6 473.5,459.6 467.6,472.4 463.8,472.4" fill="#8f8f8f"/>
<polygon points="472.7,459.6 476.7,459.6 470.6,472.4 466.8,472.4" fill="#999999"/>
<polygon points="475.9,459.6 479.9,459.6 473.5,472.4 469.8,472.4" fill="#a3a3a3" fill-opacity="0.91"/>
<polygon points="479.1,459.6 483.1,459.6 476.5,472.4 472.7,472.4" fill="#afafaf" fill-opacity="0.79"/>
<polygon points="482.3,459.6 486.3,459.6 479.5,472.4 475.7,472.4" fill="#bababa" fill-opacity="0.66"/>
<polygon points="422.6,471.6 432,471.6 429.6,484.4 420.2,484.4" fill="#878787"/>
<polygon points="431.2,471.6 435,471.6 432.3,484.4 428.8,484.4" fill="#898989"/>
<polygon points="434.2,471.6 437.9,471.6 435,484.4 431.5,484.4" fill="#939393"/>
<polygon points="437.1,471.6 440.9,471.6 437.7,484.4 434.2,484.4" fill="#9a9a9a"/>
<polygon points="440.1,471.6 443.9,471.6 440.4,484.4 436.9,484.4" fill="#909090"/>
<polygon points="443.1,471.6 446.8,471.6 443.1,484.4 439.6,484.4" fill="#858585"/>
<polygon points="446,471.6 449.8,471.6 445.8,484.4 442.3,484.4" fill="#7b7b7b"/>
<polygon points="449,471.6 452.8,471.6 448.5,484.4 445,484.4" fill="#7a7a7a"/>
<polygon points="452,471.6 455.7,471.6 451.2,484.4 447.7,484.4" fill="#7b7b7b"/>
<polygon points="454.9,471.6 458.7,471.6 453.9,484.4 450.4,484.4" fill="#7c7c7c"/>
<polygon points="457.9,471.6 461.7,471.6 456.6,484.4 453.1,484.4" fill="#7d7d7d"/>
<polygon points="460.9,471.6 464.6,471.6 459.3,484.4 455.8,484.4" fill="#868686"/>
<polygon points="463.8,471.6 467.6,471.6 462,484.4 458.5,484.4" fill="#8f8f8f"/>
<polygon points="466.8,471.6 470.6,471.6 464.7,484.4 461.2,484.4" fill="#999999"/>
<polygon points="469.8,471.6 473.5,471.6 467.4,484.4 463.9,484.4" fill="#a3a3a3" fill-opacity="0.91"/>
<polygon points="472.7,471.6 476.5,471.6 470.1,484.4 466.6,484.4" fill="#afafaf" fill-opacity="0.79"/>
<polygon points="475.7,471.6 479.5,471.6 472.8,484.4 469.3,484.4" fill="#bababa" fill-opacity="0.66"/>
<polygon points="420.2,483.6 429.6,483.6 427.3,496.4 417.9,496.4" fill="#878787"/>
<polygon points="428.8,483.6 432.3,483.6 429.8,496.4 426.5,496.4" fill="#898989"/>
<polygon points="431.5,483.6 435,483.6 432.2,496.4 429,496.4" fill="#939393"/>
<polygon points="434.2,483.6 437.7,483.6 434.6,496.4 431.4,496.4" fill="#9a9a9a"/>
<polygon points="436.9,483.6 440.4,483.6 437.1,496.4 433.8,496.4" fill="#909090"/>
<polygon points="439.6,483.6 443.1,483.6 439.5,496.4 436.3,496.4" fill="#858585"/>
<polygon points="442.3,483.6 445.8,483.6 442,496.4 438.7,496.4" fill="#7b7b7b"/>
<polygon points="445,483.6 448.5,483.6 444.4,496.4 441.2,496.4" fill="#7a7a7a"/>
<polygon points="447.7,483.6 451.2,483.6 446.9,496.4 443.6,496.4" fill="#7b7b7b"/>
<polygon points="450.4,483.6 453.9,483.6 449.3,496.4 446.1,496.4" fill="#7c7c7c"/>
<polygon points="453.1,483.6 456.6,483.6 451.7,496.4 448.5,496.4" fill="#7d7d7d"/>
<polygon points="455.8,483.6 459.3,483.6 454.2,496.4 450.9,496.4" fill="#868686"/>
<polygon points="458.5,483.6 462,483.6 456.6,496.4 453.4,496.4" fill="#8f8f8f"/>
<polygon points="461.2,483.6 464.7,483.6 459.1,496.4 455.8,496.4" fill="#999999"/>
<polygon points="463.9,483.6 467.4,483.6 461.5,496.4 458.3,496.4" fill="#a3a3a3" fill-opacity="0.91"/>
<polygon points="466.6,483.6 470.1,483.6 464,496.4 460.7,496.4" fill="#afafaf" fill-opacity="0.79"/>
<polygon points="469.3,483.6 472.8,483.6 466.4,496.4 463.2,496.4" fill="#bababa" fill-opacity="0.66"/>
<polygon points="417.9,495.6 427.3,495.6 425.1,508.4 415.7,508.4" fill="#878787"/>
<polygon points="426.5,495.6 429.8,495.6 427.3,508.4 424.3,508.4" fill="#898989"/>
<polygon points="429,495.6 432.2,495.6 429.5,508.4 426.5,508.4" fill="#939393"/>
<polygon points="431.4,495.6 434.6,495.6 431.7,508.4 428.7,508.4" fill="#9a9a9a"/>
<polygon points="433.8,495.6 437.1,495.6 433.9,508.4 430.9,508.4" fill="#909090"/>
<polygon points="436.3,495.6 439.5,495.6 436.1,508.4 433.1,508.4" fill="#858585"/>
<polygon points="438.7,495.6 442,495.6 438.4,508.4 435.4,508.4" fill="#7b7b7b"/>
<polygon points="441.2,495.6 444.4,495.6 440.6,508.4 437.6,508.4" fill="#7a7a7a"/>
<polygon points="443.6,495.6 446.9,495.6 442.8,508.4 439.8,508.4" fill="#7b7b7b"/>
<polygon points="446.1,495.6 449.3,495.6 445,508.4 442,508.4" fill="#7c7c7c"/>
<polygon points="448.5,495.6 451.7,495.6 447.2,508.4 444.2,508.4" fill="#7d7d7d"/>
<polygon points="450.9,495.6 454.2,495.6 449.4,508.4 446.4,508.4" fill="#868686"/>
<polygon points="453.4,495.6 456.6,495.6 451.6,508.4 448.6,508.4" fill="#8f8f8f"/>
<polygon points="455.8,495.6 459.1,495.6 453.8,508.4 450.8,508.4" fill="#999999"/>
<polygon points="458.3,495.6 461.5,495.6 456,508.4 453,508.4" fill="#a3a3a3" fill-opacity="0.91"/>
<polygon points="460.7,495.6 464,495.6 458.2,508.4 455.2,508.4" fill="#afafaf" fill-opacity="0.79"/>
<polygon points="463.2,495.6 466.4,495.6 460.4,508.4 457.4,508.4" fill="#bababa" fill-opacity="0.66"/>
<polygon points="415.7,507.6 425.1,507.6 423.2,520.4 413.8,520.4" fill="#878787"/>
<polygon points="424.3,507.6 427.3,507.6 425.2,520.4 422.4,520.4" fill="#898989"/>
<polygon points="426.5,507.6 429.5,507.6 427.3,520.4 424.4,520.4" fill="#939393"/>
<polygon points="428.7,507.6 431.7,507.6 429.3,520.4 426.5,520.4" fill="#9a9a9a"/>
<polygon points="430.9,507.6 433.9,507.6 431.3,520.4 428.5,520.4" fill="#909090"/>
<polygon points="433.1,507.6 436.1,507.6 433.3,520.4 430.5,520.4" fill="#858585"/>
<polygon points="435.4,507.6 438.4,507.6 435.3,520.4 432.5,520.4" fill="#7b7b7b"/>
<polygon points="437.6,507.6 440.6,507.6 437.3,520.4 434.5,520.4" fill="#7a7a7a"/>
<polygon points="439.8,507.6 442.8,507.6 439.3,520.4 436.5,520.4" fill="#7b7b7b"/>
<polygon points="442,507.6 445,507.6 441.3,520.4 438.5,520.4" fill="#7c7c7c"/>
<polygon points="444.2,507.6 447.2,507.6 443.3,520.4 440.5,520.4" fill="#7d7d7d"/>
<polygon points="446.4,507.6 449.4,507.6 445.3,520.4 442.5,520.4" fill="#868686"/>
<polygon points="448.6,507.6 451.6,507.6 447.4,520.4 444.5,520.4" fill="#8f8f8f"/>
<polygon points="450.8,507.6 453.8,507.6 449.4,520.4 446.6,520.4" fill="#999999"/>
<polygon points="453,507.6 456,507.6 451.4,520.4 448.6,520.4" fill="#a3a3a3" fill-opacity="0.91"/>
<polygon points="455.2,507.6 458.2,507.6 453.4,520.4 450.6,520.4" fill="#afafaf" fill-opacity="0.79"/>
<polygon points="457.4,507.6 460.4,507.6 455.4,520.4 452.6,520.4" fill="#bababa" fill-opacity="0.66"/>
<polygon points="413.8,519.6 423.2,519.6 421.5,532.4 412.1,532.4" fill="#878787"/>
<polygon points="422.4,519.6 425.2,519.6 423.3,532.4 420.7,532.4" fill="#898989"/>
<polygon points="424.4,519.6 427.3,519.6 425.2,532.4 422.5,532.4" fill="#939393"/>
<polygon points="426.5,519.6 429.3,519.6 427,532.4 424.4,532.4" fill="#9a9a9a"/>
<polygon points="428.5,519.6 431.3,519.6 428.8,532.4 426.2,532.4" fill="#909090"/>
<polygon points="430.5,519.6 433.3,519.6 430.7,532.4 428,532.4" fill="#858585"/>
<polygon points="432.5,519.6 435.3,519.6 432.5,532.4 429.9,532.4" fill="#7b7b7b"/>
<polygon points="434.5,519.6 437.3,519.6 434.4,532.4 431.7,532.4" fill="#7a7a7a"/>
<polygon points="436.5,519.6 439.3,519.6 436.2,532.4 433.6,532.4" fill="#7b7b7b"/>
<polygon points="438.5,519.6 441.3,519.6 438,532.4 435.4,532.4" fill="#7c7c7c"/>
<polygon points="440.5,519.6 443.3,519.6 439.9,532.4 437.2,532.4" fill="#7d7d7d"/>
<polygon points="442.5,519.6 445.3,519.6 441.7,532.4 439.1,532.4" fill="#868686"/>
<polygon points="444.5,519.6 447.4,519.6 443.5,532.4 440.9,532.4" fill="#8f8f8f"/>
<polygon points="446.6,519.6 449.4,519.6 445.4,532.4 442.7,532.4" fill="#999999"/>
<polygon points="448.6,519.6 451.4,519.6 447.2,532.4 444.6,532.4" fill="#a3a3a3" fill-opacity="0.91"/>
<polygon points="450.6,519.6 453.4,519.6 449.1,532.4 446.4,532.4" fill="#afafaf" fill-opacity="0.79"/>
<polygon points="452.6,519.6 455.4,519.6 450.9,532.4 448.3,532.4" fill="#bababa" fill-opacity="0.66"/>
<polygon points="412.1,531.6 421.5,531.6 420.7,544.4 411.3,544.4" fill="#878787"/>
<polygon points="420.7,531.6 423.3,531.6 422.4,544.4 419.9,544.4" fill="#898989"/>
<polygon points="422.5,531.6 425.2,531.6 424.1,544.4 421.6,544.4" fill="#939393"/>
<polygon points="424.4,531.6 427,531.6 425.8,544.4 423.3,544.4" fill="#9a9a9a"/>
<polygon points="426.2,531.6 428.8,531.6 427.5,544.4 425,544.4" fill="#909090"/>
<polygon points="428,531.6 430.7,531.6 429.2,544.4 426.7,544.4" fill="#858585"/>
<polygon points="429.9,531.6 432.5,531.6 430.9,544.4 428.4,544.4" fill="#7b7b7b"/>
<polygon points="431.7,531.6 434.4,531.6 432.5,544.4 430.1,544.4" fill="#7a7a7a"/>
<polygon points="433.6,531.6 436.2,531.6 434.2,544.4 431.7,544.4" fill="#7b7b7b"/>
<polygon points="435.4,531.6 438,531.6 435.9,544.4 433.4,544.4" fill="#7c7c7c"/>
<polygon points="437.2,531.6 439.9,531.6 437.6,544.4 435.1,544.4" fill="#7d7d7d"/>
<polygon points="439.1,531.6 441.7,531.6 439.3,544.4 436.8,544.4" fill="#868686"/>
<polygon points="440.9,531.6 443.5,531.6 441,544.4 438.5,544.4" fill="#8f8f8f"/>
<polygon points="442.7,531.6 445.4,531.6 442.7,544.4 440.2,544.4" fill="#999999"/>
<polygon points="444.6,531.6 447.2,531.6 444.4,544.4 441.9,544.4" fill="#a3a3a3" fill-opacity="0.91"/>
<polygon points="446.4,531.6 449.1,531.6 446,544.4 443.6,544.4" fill="#afafaf" fill-opacity="0.79"/>
<polygon points="448.3,531.6 450.9,531.6 447.7,544.4 445.2,544.4" fill="#bababa" fill-opacity="0.66"/>
<polygon points="411.3,543.6 420.7,543.6 420.5,556.4 411.1,556.4" fill="#878787"/>
<polygon points="419.9,543.6 422.4,543.6 422,556.4 419.7,556.4" fill="#898989"/>
<polygon points="421.6,543.6 424.1,543.6 423.6,556.4 421.2,556.4" fill="#939393"/>
<polygon points="423.3,543.6 425.8,543.6 425.1,556.4 422.8,556.4" fill="#9a9a9a"/>
<polygon points="425,543.6 427.5,543.6 426.7,556.4 424.3,556.4" fill="#909090"/>
<polygon points="426.7,543.6 429.2,543.6 428.2,556.4 425.9,556.4" fill="#858585"/>
<polygon points="428.4,543.6 430.9,543.6 429.8,556.4 427.4,556.4" fill="#7b7b7b"/>
<polygon points="430.1,543.6 432.5,543.6 431.3,556.4 429,556.4" fill="#7a7a7a"/>
<polygon points="431.7,543.6 434.2,543.6 432.9,556.4 430.5,556.4" fill="#7b7b7b"/>
<polygon points="433.4,543.6 435.9,543.6 434.4,556.4 432.1,556.4" fill="#7c7c7c"/>
<polygon points="435.1,543.6 437.6,543.6 436,556.4 433.6,556.4" fill="#7d7d7d"/>
<polygon points="436.8,543.6 439.3,543.6 437.5,556.4 435.2,556.4" fill="#868686"/>
<polygon points="438.5,543.6 441,543.6 439,556.4 436.7,556.4" fill="#8f8f8f"/>
<polygon points="440.2,543.6 442.7,543.6 440.6,556.4 438.2,556.4" fill="#999999"/>
<polygon points="441.9,543.6 444.4,543.6 442.1,556.4 439.8,556.4" fill="#a3a3a3" fill-opacity="0.91"/>
<polygon points="443.6,543.6 446,543.6 443.7,556.4 441.3,556.4" fill="#afafaf" fill-opacity="0.79"/>
<polygon points="445.2,543.6 447.7,543.6 445.2,556.4 442.9,556.4" fill="#bababa" fill-opacity="0.66"/>
<polygon points="411.1,555.6 420.5,555.6 421.5,568.4 412.1,568.4" fill="#878787" fill-opacity="0.94"/>
<polygon points="419.7,555.6 422,555.6 422.9,568.4 420.7,568.4" fill="#898989" fill-opacity="0.94"/>
<polygon points="421.2,555.6 423.6,555.6 424.3,568.4 422.1,568.4" fill="#939393" fill-opacity="0.94"/>
<polygon points="422.8,555.6 425.1,555.6 425.7,568.4 423.5,568.4" fill="#9a9a9a" fill-opacity="0.94"/>
<polygon points="424.3,555.6 426.7,555.6 427.1,568.4 424.9,568.4" fill="#909090" fill-opacity="0.94"/>
<polygon points="425.9,555.6 428.2,555.6 428.5,568.4 426.3,568.4" fill="#858585" fill-opacity="0.94"/>
<polygon points="427.4,555.6 429.8,555.6 430,568.4 427.8,568.4" fill="#7b7b7b" fill-opacity="0.94"/>
<polygon points="429,555.6 431.3,555.6 431.4,568.4 429.2,568.4" fill="#7a7a7a" fill-opacity="0.94"/>
<polygon points="430.5,555.6 432.9,555.6 432.8,568.4 430.6,568.4" fill="#7b7b7b" fill-opacity="0.94"/>
<polygon points="432.1,555.6 434.4,555.6 434.2,568.4 432,568.4" fill="#7c7c7c" fill-opacity="0.94"/>
<polygon points="433.6,555.6 436,555.6 435.6,568.4 433.4,568.4" fill="#7d7d7d" fill-opacity="0.94"/>
<polygon points="435.2,555.6 437.5,555.6 437.1,568.4 434.8,568.4" fill="#868686" fill-opacity="0.94"/>
<polygon points="436.7,555.6 439,555.6 438.5,568.4 436.3,568.4" fill="#8f8f8f" fill-opacity="0.94"/>
<polygon points="438.2,555.6 440.6,555.6 439.9,568.4 437.7,568.4" fill="#999999" fill-opacity="0.94"/>
<polygon points="439.8,555.6 442.1,555.6 441.3,568.4 439.1,568.4" fill="#a3a3a3" fill-opacity="0.86"/>
<polygon points="441.3,555.6 443.7,555.6 442.7,568.4 440.5,568.4" fill="#afafaf" fill-opacity="0.74"/>
<polygon points="442.9,555.6 445.2,555.6 444.1,568.4 441.9,568.4" fill="#bababa" fill-opacity="0.62"/>
<polygon points="412.1,567.6 421.5,567.6 423.1,580.4 413.7,580.4" fill="#878787" fill-opacity="0.56"/>
<polygon points="420.7,567.6 422.9,567.6 424.4,580.4 422.3,580.4" fill="#898989" fill-opacity="0.56"/>
<polygon points="422.1,567.6 424.3,567.6 425.6,580.4 423.6,580.4" fill="#939393" fill-opacity="0.56"/>
<polygon points="423.5,567.6 425.7,567.6 426.9,580.4 424.9,580.4" fill="#9a9a9a" fill-opacity="0.56"/>
<polygon points="424.9,567.6 427.1,567.6 428.2,580.4 426.1,580.4" fill="#909090" fill-opacity="0.56"/>
<polygon points="426.3,567.6 428.5,567.6 429.5,580.4 427.4,580.4" fill="#858585" fill-opacity="0.56"/>
<polygon points="427.8,567.6 430,567.6 430.8,580.4 428.7,580.4" fill="#7b7b7b" fill-opacity="0.56"/>
<polygon points="429.2,567.6 431.4,567.6 432.1,580.4 430,580.4" fill="#7a7a7a" fill-opacity="0.56"/>
<polygon points="430.6,567.6 432.8,567.6 433.4,580.4 431.3,580.4" fill="#7b7b7b" fill-opacity="0.56"/>
<polygon points="432,567.6 434.2,567.6 434.7,580.4 432.6,580.4" fill="#7c7c7c" fill-opacity="0.56"/>
<polygon points="433.4,567.6 435.6,567.6 436,580.4 433.9,580.4" fill="#7d7d7d" fill-opacity="0.56"/>
<polygon points="434.8,567.6 437.1,567.6 437.3,580.4 435.2,580.4" fill="#868686" fill-opacity="0.56"/>
<polygon points="436.3,567.6 438.5,567.6 438.6,580.4 436.5,580.4" fill="#8f8f8f" fill-opacity="0.56"/>
<polygon points="437.7,567.6 439.9,567.6 439.9,580.4 437.8,580.4" fill="#999999" fill-opacity="0.56"/>
<polygon points="439.1,567.6 441.3,567.6 441.1,580.4 439.1,580.4" fill="#a3a3a3" fill-opacity="0.51"/>
<polygon points="440.5,567.6 442.7,567.6 442.4,580.4 440.4,580.4" fill="#afafaf" fill-opacity="0.44"/>
<polygon points="441.9,567.6 444.1,567.6 443.7,580.4 441.6,580.4" fill="#bababa" fill-opacity="0.37"/>
<polygon points="413.7,579.6 423.1,579.6 424.4,592.4 415,592.4" fill="#878787" fill-opacity="0.19"/>
<polygon points="422.3,579.6 424.4,579.6 425.6,592.4 423.6,592.4" fill="#898989" fill-opacity="0.19"/>
<polygon points="423.6,579.6 425.6,579.6 426.8,592.4 424.8,592.4" fill="#939393" fill-opacity="0.19"/>
<polygon points="424.9,579.6 426.9,579.6 428,592.4 426,592.4" fill="#9a9a9a" fill-opacity="0.19"/>
<polygon points="426.1,579.6 428.2,579.6 429.1,592.4 427.2,592.4" fill="#909090" fill-opacity="0.19"/>
<polygon points="427.4,579.6 429.5,579.6 430.3,592.4 428.4,592.4" fill="#858585" fill-opacity="0.19"/>
<polygon points="428.7,579.6 430.8,579.6 431.5,592.4 429.5,592.4" fill="#7b7b7b" fill-opacity="0.19"/>
<polygon points="430,579.6 432.1,579.6 432.7,592.4 430.7,592.4" fill="#7a7a7a" fill-opacity="0.19"/>
<polygon points="431.3,579.6 433.4,579.6 433.9,592.4 431.9,592.4" fill="#7b7b7b" fill-opacity="0.19"/>
<polygon points="432.6,579.6 434.7,579.6 435.1,592.4 433.1,592.4" fill="#7c7c7c" fill-opacity="0.19"/>
<polygon points="433.9,579.6 436,579.6 436.3,592.4 434.3,592.4" fill="#7d7d7d" fill-opacity="0.19"/>
<polygon points="435.2,579.6 437.3,579.6 437.5,592.4 435.5,592.4" fill="#868686" fill-opacity="0.19"/>
<polygon points="436.5,579.6 438.6,579.6 438.6,592.4 436.7,592.4" fill="#8f8f8f" fill-opacity="0.19"/>
<polygon points="437.8,579.6 439.9,579.6 439.8,592.4 437.9,592.4" fill="#999999" fill-opacity="0.19"/>
<polygon points="439.1,579.6 441.1,579.6 441,592.4 439,592.4" fill="#a3a3a3" fill-opacity="0.17"/>
<polygon points="440.4,579.6 442.4,579.6 442.2,592.4 440.2,592.4" fill="#afafaf" fill-opacity="0.15"/>
<polygon points="441.6,579.6 443.7,579.6 443.4,592.4 441.4,592.4" fill="#bababa" fill-opacity="0.12"/>
</g></g>
<path d="M46 422 L45.4 420.3 L45.9 418.8 L47.4 417.4 L49.5 416.1 L52.1 414.7 L54.8 413.3 L57.5 411.7 L60 410 L62.3 408.1 L64.6 406 L67 403.7 L69.5 401.4 L72.2 399.2 L75.2 396.9 L78.4 394.9 L82 393 L86 391.3 L90.3 389.8 L95 388.4 L99.9 387.1 L104.9 385.8 L110 384.5 L115 383.3 L120 382 L125 380.7 L130.1 379.3 L135.3 378 L140.5 376.7 L145.6 375.4 L150.7 374.2 L155.5 373.1 L160 372 L164.2 371 L168 370 L171.5 369 L175 368.1 L178.5 367.3 L182 366.7 L185.8 366.2 L190 366 L194.5 366 L199.3 366.3 L204.3 366.8 L209.4 367.4 L214.6 368.1 L219.8 368.8 L224.9 369.4 L230 370 L234.9 370.5 L239.8 371 L244.6 371.6 L249.4 372.1 L254.3 372.6 L259.3 373.1 L264.5 373.6 L270 374 L275.8 374.3 L281.8 374.6 L288 374.9 L294.4 375.1 L300.8 375.3 L307.3 375.5 L313.7 375.8 L320 376 L326.2 376.2 L332.5 376.4 L338.8 376.6 L345 376.8 L351.2 377 L357.5 377.2 L363.8 377.6 L370 378 L376.3 378.5 L382.7 379.1 L389.2 379.8 L395.6 380.5 L402 381.3 L408.2 382.1 L414.2 383 L420 384 L425.3 385 L430.2 386.1 L434.9 387.3 L439.4 388.5 L444 389.8 L448.8 391.1 L454.1 392.5 L460 394 L466.6 395.6 L473.8 397.3 L481.5 399 L489.4 400.9 L497.4 402.7 L505.2 404.5 L512.8 406.3 L520 408 L526.8 409.6 L533.4 411.1 L539.8 412.6 L546.1 414.1 L552.3 415.5 L558.3 417 L564.2 418.5 L570 420 L575.6 421.6 L580.9 423.3 L586.1 425 L591.1 426.7 L596.2 428.4 L601.3 430 L606.5 431.6 L612 433 L617.8 434.3 L623.9 435.6 L630.1 436.8 L636.4 437.9 L642.7 439 L648.8 440.1 L654.6 441 L660 442 L665.1 442.9 L670.1 443.8 L674.9 444.6 L679.4 445.4 L683.8 446.1 L687.8 446.8 L691.6 447.4 L695 448 L698.2 448.5 L701.3 448.9 L704.2 449.2 L706.8 449.5 L708.9 449.7 L710.6 450 L711.6 450.2 L712 450.5 L711.7 450.8 L710.8 451.1 L709.3 451.4 L707.4 451.7 L704.9 452 L702 452.3 L698.7 452.6 L695 453 L690.7 453.4 L685.8 453.9 L680.4 454.3 L674.6 454.8 L668.5 455.4 L662.3 455.9 L656.1 456.4 L650 457 L644.1 457.6 L638.1 458.2 L632.1 458.9 L625.9 459.6 L619.7 460.2 L613.3 460.9 L606.8 461.5 L600 462 L593.3 462.5 L586.6 462.9 L580 463.4 L573.1 463.8 L565.9 464.1 L558 464.4 L549.5 464.7 L540 465 L529.2 465.2 L517.1 465.4 L504.1 465.6 L490.6 465.7 L477.1 465.8 L463.8 465.9 L451.3 465.9 L440 466 L429.8 466.1 L420.4 466.1 L411.6 466.2 L403.1 466.2 L394.9 466.2 L386.8 466.2 L378.5 466.1 L370 466 L361.3 465.8 L352.7 465.6 L344.2 465.4 L335.6 465.1 L327 464.8 L318.2 464.5 L309.2 464.3 L300 464 L290.4 463.8 L280.5 463.6 L270.3 463.4 L260 463.2 L249.7 463 L239.5 462.8 L229.6 462.4 L220 462 L210.8 461.5 L201.8 461.1 L193 460.6 L184.4 460 L175.8 459.3 L167.3 458.4 L158.7 457.4 L150 456 L141 454.3 L131.7 452.3 L122.2 450 L112.8 447.6 L103.6 445.1 L95 442.6 L87 440.2 L80 438 L73.7 435.9 L67.8 433.8 L62.5 431.7 L57.8 429.6 L53.7 427.6 L50.3 425.7 L47.7 423.8Z" fill="#dadada" filter="url(#r3)" opacity="0.92"/>
<path d="M150 400 L151.8 398.3 L154.7 396.3 L158.3 394.1 L162.5 391.9 L167 389.6 L171.6 387.5 L176 385.6 L180 384 L183.6 382.7 L187 381.6 L190.4 380.7 L193.8 379.9 L197.3 379.2 L201.1 378.7 L205.3 378.3 L210 378 L215.2 377.9 L220.6 377.9 L226.4 378.1 L232.5 378.4 L238.9 378.8 L245.6 379.2 L252.7 379.6 L260 380 L267.9 380.4 L276.3 380.8 L285.2 381.3 L294.4 381.8 L303.6 382.3 L312.7 382.8 L321.6 383.4 L330 384 L338.2 384.6 L346.4 385.3 L354.6 385.9 L362.5 386.6 L370.1 387.4 L377.3 388.2 L384 389 L390 390 L395.5 391 L400.8 392.2 L405.6 393.4 L410 394.6 L413.7 395.9 L416.7 397.3 L418.8 398.6 L420 400 L420.4 401.5 L420.4 403.1 L419.7 404.8 L418.1 406.5 L415.6 408.1 L411.8 409.7 L406.7 411 L400 412 L391.3 412.8 L380.6 413.3 L368.4 413.7 L355 414 L341 414.1 L326.9 414.2 L313 414.1 L300 414 L287.1 413.8 L273.6 413.4 L259.9 412.9 L246.2 412.2 L233.1 411.6 L220.8 411 L209.6 410.4 L200 410 L191.9 409.7 L185.1 409.5 L179.3 409.4 L174.4 409.2 L170.2 409.1 L166.5 408.9 L163.2 408.5 L160 408 L157 407.3 L154.5 406.6 L152.3 405.8 L150.6 404.9 L149.5 403.8 L149 402.7 L149.1 401.4Z" fill="#b8b8b8" filter="url(#b8)" opacity="0.8"/>
<ellipse cx="240" cy="413" rx="90" ry="4" fill="#b0b0b0" filter="url(#b4)" opacity="0.55"/>
<path d="M120 436 L122 434.5 L126.6 433.3 L133.7 432.3 L143.1 431.5 L154.6 430.9 L168 430.5 L183.2 430.2 L200 430 L220.1 430 L244.4 430.2 L271.5 430.6 L300 431.1 L328.5 431.8 L355.6 432.5 L379.9 433.2 L400 434 L415.7 434.8 L428.4 435.8 L438.8 436.9 L447.5 438.1 L455.3 439.2 L462.8 440.3 L470.8 441.2 L480 442 L490.1 442.6 L500.2 443.1 L510.4 443.5 L520.6 443.9 L530.7 444.2 L540.7 444.4 L550.5 444.7 L560 445 L569.4 445.3 L578.9 445.6 L588.3 445.8 L597.5 446.1 L606.4 446.3 L614.8 446.5 L622.8 446.8 L630 447 L637 447.2 L644 447.4 L650.7 447.6 L656.9 447.8 L662.2 448 L666.3 448.2 L669 448.6 L670 449 L669.6 449.6 L668.2 450.2 L665.7 451 L661.9 451.8 L656.6 452.6 L649.6 453.5 L640.8 454.3 L630 455 L616.7 455.7 L600.9 456.4 L583.1 457.2 L563.8 457.9 L543.3 458.5 L522.2 459.1 L500.9 459.6 L480 460 L458.5 460.3 L435.5 460.4 L411.6 460.5 L387.5 460.6 L363.7 460.5 L340.8 460.4 L319.4 460.2 L300 460 L282.6 459.8 L266.6 459.7 L251.9 459.5 L238.1 459.2 L225.2 458.8 L213 458.2 L201.4 457.3 L190 456 L178.3 454.2 L166.2 451.8 L154.2 449.1 L143.1 446.1 L133.5 443.2 L126 440.4 L121.3 437.9Z" fill="#bababa" filter="url(#b5)" opacity="0.5"/>
<ellipse cx="330" cy="451" rx="170" ry="5" fill="#acacac" filter="url(#b4)" opacity="0.4"/>
<ellipse cx="575" cy="451" rx="95" ry="5" fill="#a4a4a4" filter="url(#b4)" opacity="0.5"/>
<ellipse cx="457" cy="457" rx="19" ry="9" fill="#6c6c6c" filter="url(#b4)" opacity="0.75"/>
</g>
<g id="lightning-upper">
<path d="M252.3 187.3 L256.4 184.1 L260.5 187.3 L267.3 186 L274.2 192.3 L281 196.9 L289.2 195 L296.1 205.1 L308.4 198.3 L317.9 192.8 L327.5 187.3 L337.1 186.8 L346.6 186 L354.8 181.3 L364.4 175 L371.3 179.1 L378.1 177 L384.9 175.9 L390.9 178 L397.2 179.1 L400.8 183.2 L404.1 186 L412.3 185.2 M346.6 186 L352.1 190.1 L357.6 192.8 L361.7 194.2 L365.8 196.9 M371.3 179.1 L374.5 183 L378.1 186 L380 188.2 L382.2 190.6 M384.9 175.9 L387.7 179.7 L389.8 183.2 L390.9 188.4 L393.1 193.4 M397.2 179.1 L401.3 184.1 L405.4 187.3 L407.9 190.1 L410.9 191.4 M308.4 198.3 L311.6 204.3 L315.2 209.2 L322 212.5 L327.5 209.2 L333 207 L341.2 208.1 L349.4 207.9 L353.5 213.6 L357.6 218.8 L363.1 224 L368.5 228.4 L376.7 233.3 L382.2 231.6 L387.7 231.6 L393.1 228.9 L398.6 227 L406.8 225.1 L415 225.6 L423.2 227.3 L431.4 227 L436.9 225.1 L442.4 225.6 L447.8 225.6 L453.3 224.3 L456 226.7 L458.8 228.4 M398.6 227 L401.3 223.4 L404.1 221.5 L407.4 220.7 L409.5 218.8 M431.4 227 L434.7 230.5 L436.9 233.8 L439.1 237.1 L441 239.3 M442.4 225.6 L446.5 227.8 L450.6 228.4 L452.7 226.7 L454.7 225.6 M333 207 L335.2 216.1 L337.1 222.9 L341.7 230 L346.6 236.6 L350.7 240.9 L354.8 244.8 L361.7 248.1 L368.5 250.2 L372.9 245.9 L376.7 242 L380.8 240.4 L384.9 239.3 L389 243.1 L393.1 246.1 L398.6 248.1 L404.1 248.9 L410.9 249.1 L417.7 250.2 L424.9 251.9 L431.4 254.3 L435.8 259 L439.6 262.5 L445.1 265.3 M337.1 222.9 L338.4 225.6 L341.7 234.4 L345.3 242 L348.8 249.1 L352.1 255.7 L354.3 259.5 L356.2 262.5 L358.1 265.6 L360.3 268 L364.4 272.7 L368.5 276.2 L372.9 278.7 L376.7 280.3 M356.2 262.5 L352.7 265.6 L349.4 268 L346.6 270.5 L343.9 272.1 M376.7 242 L378.1 250.2 L377.3 256.3 L379.5 261.7 L382.2 263.9 M384.9 239.3 L387.7 247 L389.8 251.9 L392 254.6 M354.8 244.8 L357.6 250.2 L360.3 252.4 L362 256.3 M368.5 250.2 L368 256.3 L369.6 260.6 M417.7 250.2 L422.1 259 L425.9 266.6 L427.6 273.8 L428.7 280.3 L433.1 282 L436.9 283.1 L439.1 291.8 L441 299.5 L445.1 304.9 L449.2 309 M436.9 283.1 L443.7 288.5 L448.4 291.8 L453.3 296.2 M431.4 254.3 L436.9 262.3 L442.4 269.4 L449.5 275.4 L456 280.3 L464.2 286.3 L472.4 291.3 L477.9 296.7 L483.4 302.2 L490.2 309.8 M472.4 291.3 L477.9 289.1 L483.4 287.2 L486.7 283.6 L488.8 280.3 L490.5 274.8 L491.6 270.7 L495.7 268 M483.4 287.2 L490.2 283.6 L497 280.3 L501.4 278.7 L505.2 278.1 M483.4 287.2 L485.6 291.3 L487.5 294 L491.6 295.4 M456 280.3 L462 279.2 L467 277.6 L469.7 273.2 L471.1 269.4 L470.2 265.6 L469.7 262.5 M467 277.6 L470.2 275.4 L472.4 273.5 L473.5 269.4" fill="none" stroke="#f0e53e" stroke-width="1.15" stroke-linejoin="round" stroke-linecap="round"/>
<path d="M352.1 255.7 L352.7 265.6 L353.5 274.8 L357 279.8 L360.3 283.1 L364.7 286.3 L368.5 288.5 L374 294 L379.5 299.5 L383.8 303.3 L387.7 306.3 L393.1 308.2 L398.6 309 L401.9 312.6 L404.1 315.9 M360.3 283.1 L354.8 286.3 L349.4 288.5 L343.9 284.7 L338.4 280.3 L334.1 278.7 L330.2 277.6 M338.4 280.3 L341.2 287.4 L343.9 294 L348.3 300 L352.1 304.9 L357 309.8 L361.7 314.5 L364.7 322.4 L367.2 329.5 L369.6 336.6 L371.3 343.2 L374 349.2 L376.7 354.1 L379.5 358.5 L382.2 362.4 L384.4 369.5 L386.3 376 L387.9 382 L389 387 M361.7 314.5 L359.2 321.3 L357.6 326.8 L354.8 331.2 L352.1 335 L354.3 342.1 L356.2 348.7 L353.8 354.7 L352.1 359.6 L353.8 364.5 L354.8 369.2 M376.7 354.1 L382.2 353.1 L387.7 351.4 L392 348.7 L395.9 345.9 M382.2 362.4 L387.7 365.6 L393.1 367.8 L398.6 365.6 L404.1 363.7 L409 361.8 L413.6 361 M393.1 367.8 L398.6 368.9 L404.1 369.2 L410.1 371.1 L416.4 373.3 M386.3 376 L389.8 373.3 L393.1 370.6 L394.8 374.9 L396.4 377.7 M367.2 329.5 L370.7 326.3 L374 324.1 L376.7 325.2 L379.5 326.8 M330.2 277.6 L328.6 283.6 L327.5 288.5 L329.7 292.9 L331.6 296.7 M379.5 299.5 L381.1 306.6 L380.6 312 M343.9 294 L340.1 296.7 L338.4 301.1 M387.7 306.3 L392 304.4 L395.9 307.7 L401.3 309.8 L403.5 312" fill="none" stroke="#f8dc50" stroke-width="1.1" stroke-linejoin="round" stroke-linecap="round"/>
<path d="M252.3 187.3 L256.4 184.1 L258 188.4 L260.5 191.4 L263.5 192.3 L266 194.2 L267.3 201.6 L268.7 207.9 L272.8 210.3 L276.9 212 L277.2 216.3 L278.3 220.2 L285.4 221.8 L292 222.9" fill="none" stroke="#f2bfdc" stroke-width="0.95" stroke-linejoin="round" stroke-linecap="round"/>
<path d="M292 222.9 L294.7 230.5 L297.4 237.9 L302.9 239.8 L308.4 240.7 L307.3 247 L305.6 253 L305.1 260.1 L304.3 266.6 L301.3 268.3 L298.8 269.4 L302.3 270.5 L305.6 272.1 L303.4 280.3 L301.5 288.5 L300.2 290.2 L298.8 291.3 L294.1 294 L289.2 296.7 L288.1 299.5 L287.9 302.2 M301.5 288.5 L304 295.6 L305.6 302.2 L306.7 306.6 L307 310.4 M298.8 291.3 L291.4 291.8 L283.8 291.3 M305.6 272.1 L309.7 277.6 L311.6 283.1 L313.3 286.3 M292 222.9 L300.2 224.5 L308.4 225.6 L315.5 227.3 L322 228.4 L327.5 230.5 L333 232.5 L338.4 233.3 L343.9 233.8 L349.4 236.6 L354.8 239.3 L359.2 240.9 L363.1 242 L368.5 246.4 L374 250.2 L375.6 257.3 L376.7 263.9 L380.8 265.3 M308.4 240.7 L315.5 244.2 L322 247.5 L322.9 255.7 L323.4 263.9 L325.3 269.4 L327.5 274.8 L331.9 278.1 L335.7 280.3 M333 232.5 L336.3 239.3 L340.1 243.7 L341.2 247.5 M343.9 233.8 L345 239.8 L342.8 244.8" fill="none" stroke="#f8d9b4" stroke-width="0.95" stroke-linejoin="round" stroke-linecap="round"/>
</g>
<g id="rain" fill="#86d4f4">
<ellipse cx="270.5" cy="458.9" rx="0.65" ry="1.2" opacity="0.8"/>
<ellipse cx="275.9" cy="459" rx="0.65" ry="1.2" opacity="0.8"/>
<ellipse cx="283.4" cy="458.3" rx="0.65" ry="1.2" opacity="0.8"/>
<ellipse cx="291.4" cy="457.4" rx="0.65" ry="1.2" opacity="0.8"/>
<ellipse cx="306.3" cy="457.3" rx="0.65" ry="1.2" opacity="0.8"/>
<ellipse cx="313.8" cy="458.1" rx="0.65" ry="1.2" opacity="0.8"/>
<ellipse cx="320.8" cy="460.2" rx="0.65" ry="1.2" opacity="0.8"/>
<ellipse cx="328.4" cy="459.6" rx="0.65" ry="1.2" opacity="0.8"/>
<ellipse cx="337.1" cy="460.8" rx="0.65" ry="1.2" opacity="0.8"/>
<ellipse cx="343.4" cy="458" rx="0.65" ry="1.2" opacity="0.8"/>
<ellipse cx="351.6" cy="458.6" rx="0.65" ry="1.2" opacity="0.8"/>
<ellipse cx="360.3" cy="460.3" rx="0.65" ry="1.2" opacity="0.8"/>
<ellipse cx="366.4" cy="458.9" rx="0.65" ry="1.2" opacity="0.8"/>
<ellipse cx="271.2" cy="466.3" rx="0.65" ry="1.2" opacity="0.8"/>
<ellipse cx="277.2" cy="467" rx="0.65" ry="1.2" opacity="0.8"/>
<ellipse cx="285" cy="463.9" rx="0.65" ry="1.2" opacity="0.8"/>
<ellipse cx="291.1" cy="465.5" rx="0.65" ry="1.2" opacity="0.8"/>
<ellipse cx="300" cy="464" rx="0.65" ry="1.2" opacity="0.8"/>
<ellipse cx="306.8" cy="464.3" rx="0.65" ry="1.2" opacity="0.8"/>
<ellipse cx="323.1" cy="464.3" rx="0.65" ry="1.2" opacity="0.8"/>
<ellipse cx="329.6" cy="463.9" rx="0.65" ry="1.2" opacity="0.8"/>
<ellipse cx="337.1" cy="466.3" rx="0.65" ry="1.2" opacity="0.8"/>
<ellipse cx="343.6" cy="463.8" rx="0.65" ry="1.2" opacity="0.8"/>
<ellipse cx="352.6" cy="464.8" rx="0.65" ry="1.2" opacity="0.8"/>
<ellipse cx="273.6" cy="472.7" rx="0.65" ry="1.2" opacity="0.8"/>
<ellipse cx="279.9" cy="473.2" rx="0.65" ry="1.2" opacity="0.8"/>
<ellipse cx="294" cy="470.2" rx="0.65" ry="1.2" opacity="0.8"/>
<ellipse cx="306.6" cy="472.8" rx="0.65" ry="1.2" opacity="0.8"/>
<ellipse cx="314" cy="472.4" rx="0.65" ry="1.2" opacity="0.8"/>
<ellipse cx="321.5" cy="472.9" rx="0.65" ry="1.2" opacity="0.8"/>
<ellipse cx="330.2" cy="470.5" rx="0.65" ry="1.2" opacity="0.8"/>
<ellipse cx="335.1" cy="470" rx="0.65" ry="1.2" opacity="0.8"/>
<ellipse cx="342" cy="470.3" rx="0.65" ry="1.2" opacity="0.8"/>
<ellipse cx="358" cy="471.9" rx="0.65" ry="1.2" opacity="0.8"/>
<ellipse cx="267" cy="478.6" rx="0.65" ry="1.2" opacity="0.8"/>
<ellipse cx="274.7" cy="477.8" rx="0.65" ry="1.2" opacity="0.8"/>
<ellipse cx="283.7" cy="476.4" rx="0.65" ry="1.2" opacity="0.8"/>
<ellipse cx="290.9" cy="478.8" rx="0.65" ry="1.2" opacity="0.8"/>
<ellipse cx="298.9" cy="477.4" rx="0.65" ry="1.2" opacity="0.8"/>
<ellipse cx="314.7" cy="479.2" rx="0.65" ry="1.2" opacity="0.8"/>
<ellipse cx="321.1" cy="478.2" rx="0.65" ry="1.2" opacity="0.8"/>
<ellipse cx="329.5" cy="479.7" rx="0.65" ry="1.2" opacity="0.8"/>
<ellipse cx="337.1" cy="478.7" rx="0.65" ry="1.2" opacity="0.8"/>
<ellipse cx="345.9" cy="476.4" rx="0.65" ry="1.2" opacity="0.8"/>
<ellipse cx="353.3" cy="477.8" rx="0.65" ry="1.2" opacity="0.8"/>
<ellipse cx="359.7" cy="478.3" rx="0.65" ry="1.2" opacity="0.8"/>
<ellipse cx="260.4" cy="484.8" rx="0.65" ry="1.2" opacity="0.8"/>
<ellipse cx="268.8" cy="484.8" rx="0.65" ry="1.2" opacity="0.8"/>
<ellipse cx="281" cy="484" rx="0.65" ry="1.2" opacity="0.8"/>
<ellipse cx="298.6" cy="483.5" rx="0.65" ry="1.2" opacity="0.8"/>
<ellipse cx="305.8" cy="485.5" rx="0.65" ry="1.2" opacity="0.8"/>
<ellipse cx="319.5" cy="483.4" rx="0.65" ry="1.2" opacity="0.8"/>
<ellipse cx="326.7" cy="484.2" rx="0.65" ry="1.2" opacity="0.8"/>
<ellipse cx="334.7" cy="484" rx="0.65" ry="1.2" opacity="0.8"/>
<ellipse cx="340.7" cy="482.5" rx="0.65" ry="1.2" opacity="0.8"/>
<ellipse cx="347.1" cy="485.2" rx="0.65" ry="1.2" opacity="0.8"/>
<ellipse cx="353.7" cy="482.5" rx="0.65" ry="1.2" opacity="0.8"/>
<ellipse cx="261.3" cy="491" rx="0.65" ry="1.2" opacity="0.8"/>
<ellipse cx="270.3" cy="491.6" rx="0.65" ry="1.2" opacity="0.8"/>
<ellipse cx="277.5" cy="490.4" rx="0.65" ry="1.2" opacity="0.8"/>
<ellipse cx="284.9" cy="491.3" rx="0.65" ry="1.2" opacity="0.8"/>
<ellipse cx="291.2" cy="491.2" rx="0.65" ry="1.2" opacity="0.8"/>
<ellipse cx="299.8" cy="490.1" rx="0.65" ry="1.2" opacity="0.8"/>
<ellipse cx="321.3" cy="491" rx="0.65" ry="1.2" opacity="0.8"/>
<ellipse cx="330.1" cy="491.9" rx="0.65" ry="1.2" opacity="0.8"/>
<ellipse cx="344.5" cy="491.3" rx="0.65" ry="1.2" opacity="0.8"/>
<ellipse cx="354.1" cy="489.5" rx="0.65" ry="1.2" opacity="0.8"/>
<ellipse cx="266.2" cy="498.3" rx="0.65" ry="1.2" opacity="0.8"/>
<ellipse cx="273.8" cy="496.6" rx="0.65" ry="1.2" opacity="0.8"/>
<ellipse cx="282.5" cy="495.1" rx="0.65" ry="1.2" opacity="0.8"/>
<ellipse cx="291.5" cy="495.6" rx="0.65" ry="1.2" opacity="0.8"/>
<ellipse cx="296.6" cy="495.5" rx="0.65" ry="1.2" opacity="0.8"/>
<ellipse cx="306" cy="497.5" rx="0.65" ry="1.2" opacity="0.8"/>
<ellipse cx="314.8" cy="495.3" rx="0.65" ry="1.2" opacity="0.8"/>
<ellipse cx="319.7" cy="497.6" rx="0.65" ry="1.2" opacity="0.8"/>
<ellipse cx="329" cy="497" rx="0.65" ry="1.2" opacity="0.8"/>
<ellipse cx="335.9" cy="498.2" rx="0.65" ry="1.2" opacity="0.8"/>
<ellipse cx="343" cy="496.9" rx="0.65" ry="1.2" opacity="0.8"/>
<ellipse cx="349.3" cy="496.8" rx="0.65" ry="1.2" opacity="0.8"/>
<ellipse cx="266.3" cy="503.3" rx="0.65" ry="1.2" opacity="0.8"/>
<ellipse cx="271.6" cy="503.2" rx="0.65" ry="1.2" opacity="0.8"/>
<ellipse cx="288.4" cy="501.8" rx="0.65" ry="1.2" opacity="0.8"/>
<ellipse cx="296.8" cy="503" rx="0.65" ry="1.2" opacity="0.8"/>
<ellipse cx="303" cy="504.6" rx="0.65" ry="1.2" opacity="0.8"/>
<ellipse cx="307.8" cy="502" rx="0.65" ry="1.2" opacity="0.8"/>
<ellipse cx="315.4" cy="502.6" rx="0.65" ry="1.2" opacity="0.8"/>
<ellipse cx="324.2" cy="501.7" rx="0.65" ry="1.2" opacity="0.8"/>
<ellipse cx="330.2" cy="503.2" rx="0.65" ry="1.2" opacity="0.8"/>
<ellipse cx="338" cy="503.2" rx="0.65" ry="1.2" opacity="0.8"/>
<ellipse cx="345.2" cy="503.6" rx="0.65" ry="1.2" opacity="0.8"/>
<ellipse cx="352.6" cy="504.4" rx="0.65" ry="1.2" opacity="0.8"/>
<ellipse cx="255.7" cy="508.7" rx="0.65" ry="1.2" opacity="0.8"/>
<ellipse cx="275.9" cy="510.2" rx="0.65" ry="1.2" opacity="0.8"/>
<ellipse cx="284.4" cy="509.1" rx="0.65" ry="1.2" opacity="0.8"/>
<ellipse cx="291.3" cy="510.1" rx="0.65" ry="1.2" opacity="0.8"/>
<ellipse cx="298.3" cy="510.9" rx="0.65" ry="1.2" opacity="0.8"/>
<ellipse cx="306.3" cy="510.3" rx="0.65" ry="1.2" opacity="0.8"/>
<ellipse cx="312.8" cy="507.9" rx="0.65" ry="1.2" opacity="0.8"/>
<ellipse cx="320.3" cy="509.5" rx="0.65" ry="1.2" opacity="0.8"/>
<ellipse cx="326.8" cy="508.3" rx="0.65" ry="1.2" opacity="0.8"/>
<ellipse cx="343.1" cy="511" rx="0.65" ry="1.2" opacity="0.8"/>
<ellipse cx="256.2" cy="515.8" rx="0.65" ry="1.2" opacity="0.8"/>
<ellipse cx="262.2" cy="516.4" rx="0.65" ry="1.2" opacity="0.8"/>
<ellipse cx="271.7" cy="516.6" rx="0.65" ry="1.2" opacity="0.8"/>
<ellipse cx="278" cy="515.7" rx="0.65" ry="1.2" opacity="0.8"/>
<ellipse cx="294.3" cy="516.2" rx="0.65" ry="1.2" opacity="0.8"/>
<ellipse cx="300.5" cy="517.4" rx="0.65" ry="1.2" opacity="0.8"/>
<ellipse cx="309.8" cy="516.6" rx="0.65" ry="1.2" opacity="0.8"/>
<ellipse cx="316.4" cy="517.1" rx="0.65" ry="1.2" opacity="0.8"/>
<ellipse cx="325.8" cy="516.7" rx="0.65" ry="1.2" opacity="0.8"/>
<ellipse cx="331" cy="515.1" rx="0.65" ry="1.2" opacity="0.8"/>
<ellipse cx="339.1" cy="516.2" rx="0.65" ry="1.2" opacity="0.8"/>
<ellipse cx="348.4" cy="516.3" rx="0.65" ry="1.2" opacity="0.8"/>
<ellipse cx="250.6" cy="521.6" rx="0.65" ry="1.2" opacity="0.8"/>
<ellipse cx="259.6" cy="522.9" rx="0.65" ry="1.2" opacity="0.8"/>
<ellipse cx="267.9" cy="522.9" rx="0.65" ry="1.2" opacity="0.8"/>
<ellipse cx="273.2" cy="520.9" rx="0.65" ry="1.2" opacity="0.8"/>
<ellipse cx="280.8" cy="523.5" rx="0.65" ry="1.2" opacity="0.8"/>
<ellipse cx="290.4" cy="522.2" rx="0.65" ry="1.2" opacity="0.8"/>
<ellipse cx="298.5" cy="520.5" rx="0.65" ry="1.2" opacity="0.8"/>
<ellipse cx="304" cy="523.5" rx="0.65" ry="1.2" opacity="0.8"/>
<ellipse cx="310.9" cy="522" rx="0.65" ry="1.2" opacity="0.8"/>
<ellipse cx="320.8" cy="521.7" rx="0.65" ry="1.2" opacity="0.8"/>
<ellipse cx="326.6" cy="521.2" rx="0.65" ry="1.2" opacity="0.8"/>
<ellipse cx="334.2" cy="522.8" rx="0.65" ry="1.2" opacity="0.8"/>
<ellipse cx="341" cy="520.4" rx="0.65" ry="1.2" opacity="0.8"/>
<ellipse cx="253.5" cy="529.2" rx="0.65" ry="1.2" opacity="0.8"/>
<ellipse cx="268.3" cy="528" rx="0.65" ry="1.2" opacity="0.8"/>
<ellipse cx="282.5" cy="529.1" rx="0.65" ry="1.2" opacity="0.8"/>
<ellipse cx="295.7" cy="528.7" rx="0.65" ry="1.2" opacity="0.8"/>
<ellipse cx="302.8" cy="528.4" rx="0.65" ry="1.2" opacity="0.8"/>
<ellipse cx="311.1" cy="528.1" rx="0.65" ry="1.2" opacity="0.8"/>
<ellipse cx="317.2" cy="529.3" rx="0.65" ry="1.2" opacity="0.8"/>
<ellipse cx="332.7" cy="526.9" rx="0.65" ry="1.2" opacity="0.8"/>
<ellipse cx="342.1" cy="527.8" rx="0.65" ry="1.2" opacity="0.8"/>
<ellipse cx="246.9" cy="535.1" rx="0.65" ry="1.2" opacity="0.8"/>
<ellipse cx="253.9" cy="536.3" rx="0.65" ry="1.2" opacity="0.8"/>
<ellipse cx="268.7" cy="534.3" rx="0.65" ry="1.2" opacity="0.8"/>
<ellipse cx="277.2" cy="533.1" rx="0.65" ry="1.2" opacity="0.8"/>
<ellipse cx="283.6" cy="535.1" rx="0.65" ry="1.2" opacity="0.8"/>
<ellipse cx="289.7" cy="534" rx="0.65" ry="1.2" opacity="0.8"/>
<ellipse cx="297.3" cy="533.2" rx="0.65" ry="1.2" opacity="0.8"/>
<ellipse cx="307.4" cy="533.6" rx="0.65" ry="1.2" opacity="0.8"/>
<ellipse cx="314.8" cy="534.1" rx="0.65" ry="1.2" opacity="0.8"/>
<ellipse cx="329.3" cy="536.1" rx="0.65" ry="1.2" opacity="0.8"/>
<ellipse cx="334.7" cy="536" rx="0.65" ry="1.2" opacity="0.8"/>
<ellipse cx="342.4" cy="534.5" rx="0.65" ry="1.2" opacity="0.8"/>
<ellipse cx="245.9" cy="539.9" rx="0.65" ry="1.2" opacity="0.8"/>
<ellipse cx="254.4" cy="541.7" rx="0.65" ry="1.2" opacity="0.8"/>
<ellipse cx="261.8" cy="540.4" rx="0.65" ry="1.2" opacity="0.8"/>
<ellipse cx="269.7" cy="541.7" rx="0.65" ry="1.2" opacity="0.8"/>
<ellipse cx="293.5" cy="540.2" rx="0.65" ry="1.2" opacity="0.8"/>
<ellipse cx="309.1" cy="540.4" rx="0.65" ry="1.2" opacity="0.8"/>
<ellipse cx="316.3" cy="539.8" rx="0.65" ry="1.2" opacity="0.8"/>
<ellipse cx="324.2" cy="542.1" rx="0.65" ry="1.2" opacity="0.8"/>
<ellipse cx="332.4" cy="542.3" rx="0.65" ry="1.2" opacity="0.8"/>
<ellipse cx="338.6" cy="541.1" rx="0.65" ry="1.2" opacity="0.8"/>
<ellipse cx="244.4" cy="545.6" rx="0.65" ry="1.2" opacity="0.8"/>
<ellipse cx="249.9" cy="545.7" rx="0.65" ry="1.2" opacity="0.8"/>
<ellipse cx="264.5" cy="548.1" rx="0.65" ry="1.2" opacity="0.8"/>
<ellipse cx="272.4" cy="548.2" rx="0.65" ry="1.2" opacity="0.8"/>
<ellipse cx="280.4" cy="546.6" rx="0.65" ry="1.2" opacity="0.8"/>
<ellipse cx="289.2" cy="547.3" rx="0.65" ry="1.2" opacity="0.8"/>
<ellipse cx="298.3" cy="546.9" rx="0.65" ry="1.2" opacity="0.8"/>
<ellipse cx="306.3" cy="548.3" rx="0.65" ry="1.2" opacity="0.8"/>
<ellipse cx="322.1" cy="548" rx="0.65" ry="1.2" opacity="0.8"/>
<ellipse cx="329.9" cy="545.9" rx="0.65" ry="1.2" opacity="0.8"/>
<ellipse cx="242.6" cy="552.8" rx="0.65" ry="1.2" opacity="0.8"/>
<ellipse cx="250.8" cy="552.1" rx="0.65" ry="1.2" opacity="0.8"/>
<ellipse cx="258.2" cy="551.9" rx="0.65" ry="1.2" opacity="0.8"/>
<ellipse cx="267.6" cy="551.8" rx="0.65" ry="1.2" opacity="0.8"/>
<ellipse cx="272.1" cy="552.5" rx="0.65" ry="1.2" opacity="0.8"/>
<ellipse cx="280" cy="552.4" rx="0.65" ry="1.2" opacity="0.8"/>
<ellipse cx="288.4" cy="552.8" rx="0.65" ry="1.2" opacity="0.8"/>
<ellipse cx="295.1" cy="552.6" rx="0.65" ry="1.2" opacity="0.8"/>
<ellipse cx="311.8" cy="553.4" rx="0.65" ry="1.2" opacity="0.8"/>
<ellipse cx="318.5" cy="554.6" rx="0.65" ry="1.2" opacity="0.8"/>
<ellipse cx="324.4" cy="552.7" rx="0.65" ry="1.2" opacity="0.8"/>
<ellipse cx="332.2" cy="551.7" rx="0.65" ry="1.2" opacity="0.8"/>
<ellipse cx="238.5" cy="560.2" rx="0.65" ry="1.2" opacity="0.8"/>
<ellipse cx="244" cy="558.9" rx="0.65" ry="1.2" opacity="0.8"/>
<ellipse cx="253.1" cy="561.6" rx="0.65" ry="1.2" opacity="0.8"/>
<ellipse cx="258.6" cy="560.8" rx="0.65" ry="1.2" opacity="0.8"/>
<ellipse cx="266.8" cy="561" rx="0.65" ry="1.2" opacity="0.8"/>
<ellipse cx="272.8" cy="558.3" rx="0.65" ry="1.2" opacity="0.8"/>
<ellipse cx="280.8" cy="560.1" rx="0.65" ry="1.2" opacity="0.8"/>
<ellipse cx="288.6" cy="559.5" rx="0.65" ry="1.2" opacity="0.8"/>
<ellipse cx="297.1" cy="558.8" rx="0.65" ry="1.2" opacity="0.8"/>
<ellipse cx="302.8" cy="561" rx="0.65" ry="1.2" opacity="0.8"/>
<ellipse cx="309.5" cy="559.1" rx="0.65" ry="1.2" opacity="0.8"/>
<ellipse cx="317.6" cy="560.5" rx="0.65" ry="1.2" opacity="0.8"/>
<ellipse cx="324.3" cy="561.5" rx="0.65" ry="1.2" opacity="0.8"/>
<ellipse cx="331.3" cy="559.4" rx="0.65" ry="1.2" opacity="0.8"/>
<ellipse cx="239" cy="564.3" rx="0.65" ry="1.2" opacity="0.8"/>
<ellipse cx="246.9" cy="566.5" rx="0.65" ry="1.2" opacity="0.8"/>
<ellipse cx="254.7" cy="565.4" rx="0.65" ry="1.2" opacity="0.8"/>
<ellipse cx="262.1" cy="565.2" rx="0.65" ry="1.2" opacity="0.8"/>
<ellipse cx="267.8" cy="567.7" rx="0.65" ry="1.2" opacity="0.8"/>
<ellipse cx="275.4" cy="567.3" rx="0.65" ry="1.2" opacity="0.8"/>
<ellipse cx="281.1" cy="566.7" rx="0.65" ry="1.2" opacity="0.8"/>
<ellipse cx="289.9" cy="567.3" rx="0.65" ry="1.2" opacity="0.8"/>
<ellipse cx="297" cy="564.9" rx="0.65" ry="1.2" opacity="0.8"/>
<ellipse cx="303.1" cy="567.6" rx="0.65" ry="1.2" opacity="0.8"/>
<ellipse cx="311.9" cy="567.1" rx="0.65" ry="1.2" opacity="0.8"/>
<ellipse cx="319.2" cy="565.8" rx="0.65" ry="1.2" opacity="0.8"/>
<ellipse cx="326.5" cy="567.8" rx="0.65" ry="1.2" opacity="0.8"/>
<ellipse cx="233.5" cy="571.8" rx="0.65" ry="1.2" opacity="0.8"/>
<ellipse cx="240.8" cy="572" rx="0.65" ry="1.2" opacity="0.8"/>
<ellipse cx="250.2" cy="572.8" rx="0.65" ry="1.2" opacity="0.8"/>
<ellipse cx="257" cy="572.6" rx="0.65" ry="1.2" opacity="0.8"/>
<ellipse cx="261.9" cy="573.2" rx="0.65" ry="1.2" opacity="0.8"/>
<ellipse cx="272.1" cy="573.6" rx="0.65" ry="1.2" opacity="0.8"/>
<ellipse cx="284.7" cy="571.5" rx="0.65" ry="1.2" opacity="0.8"/>
<ellipse cx="293" cy="573.9" rx="0.65" ry="1.2" opacity="0.8"/>
<ellipse cx="299.5" cy="574.1" rx="0.65" ry="1.2" opacity="0.8"/>
<ellipse cx="314.7" cy="571.6" rx="0.65" ry="1.2" opacity="0.8"/>
<ellipse cx="330" cy="573.6" rx="0.65" ry="1.2" opacity="0.8"/>
<ellipse cx="237" cy="579.9" rx="0.65" ry="1.2" opacity="0.7"/>
<ellipse cx="242.2" cy="577" rx="0.65" ry="1.2" opacity="0.7"/>
<ellipse cx="258" cy="579.3" rx="0.65" ry="1.2" opacity="0.7"/>
<ellipse cx="266.7" cy="579.8" rx="0.65" ry="1.2" opacity="0.7"/>
<ellipse cx="272.6" cy="577.4" rx="0.65" ry="1.2" opacity="0.7"/>
<ellipse cx="278.9" cy="578.8" rx="0.65" ry="1.2" opacity="0.7"/>
<ellipse cx="286.2" cy="579.2" rx="0.65" ry="1.2" opacity="0.7"/>
<ellipse cx="292" cy="580.4" rx="0.65" ry="1.2" opacity="0.7"/>
<ellipse cx="300.3" cy="579.1" rx="0.65" ry="1.2" opacity="0.7"/>
<ellipse cx="309.2" cy="578.6" rx="0.65" ry="1.2" opacity="0.7"/>
<ellipse cx="318" cy="578.4" rx="0.65" ry="1.2" opacity="0.7"/>
<ellipse cx="325.4" cy="578.8" rx="0.65" ry="1.2" opacity="0.7"/>
<ellipse cx="252.6" cy="586.4" rx="0.65" ry="1.2" opacity="0.7"/>
<ellipse cx="260.6" cy="584.3" rx="0.65" ry="1.2" opacity="0.7"/>
<ellipse cx="266.5" cy="584.8" rx="0.65" ry="1.2" opacity="0.7"/>
<ellipse cx="273.7" cy="585.7" rx="0.65" ry="1.2" opacity="0.7"/>
<ellipse cx="281.9" cy="584.6" rx="0.65" ry="1.2" opacity="0.7"/>
<ellipse cx="290.3" cy="586.7" rx="0.65" ry="1.2" opacity="0.7"/>
<ellipse cx="303.4" cy="585.9" rx="0.65" ry="1.2" opacity="0.7"/>
<ellipse cx="317.1" cy="585.1" rx="0.65" ry="1.2" opacity="0.7"/>
<ellipse cx="260" cy="590.7" rx="0.65" ry="1.2" opacity="0.7"/>
<ellipse cx="274.6" cy="591.6" rx="0.65" ry="1.2" opacity="0.7"/>
<ellipse cx="282.5" cy="590.6" rx="0.65" ry="1.2" opacity="0.7"/>
<ellipse cx="296.5" cy="590.6" rx="0.65" ry="1.2" opacity="0.7"/>
<ellipse cx="312" cy="591.2" rx="0.65" ry="1.2" opacity="0.7"/>
<ellipse cx="269.9" cy="599" rx="0.65" ry="1.2" opacity="0.7"/>
<ellipse cx="277.7" cy="596.9" rx="0.65" ry="1.2" opacity="0.7"/>
<ellipse cx="293.9" cy="599.2" rx="0.65" ry="1.2" opacity="0.7"/>
<ellipse cx="299.9" cy="596.9" rx="0.65" ry="1.2" opacity="0.7"/>
<ellipse cx="307.6" cy="596.6" rx="0.65" ry="1.2" opacity="0.7"/>
<ellipse cx="316" cy="598.2" rx="0.65" ry="1.2" opacity="0.7"/>
<ellipse cx="288.2" cy="605.4" rx="0.65" ry="1.2" opacity="0.7"/>
<ellipse cx="297" cy="602.4" rx="0.65" ry="1.2" opacity="0.7"/>
<ellipse cx="305.2" cy="604" rx="0.65" ry="1.2" opacity="0.7"/>
<ellipse cx="310.8" cy="603" rx="0.65" ry="1.2" opacity="0.7"/>
<ellipse cx="297.6" cy="609.3" rx="0.65" ry="1.2" opacity="0.7"/>
<ellipse cx="302.9" cy="611.6" rx="0.65" ry="1.2" opacity="0.7"/>
</g>
<path d="M395.5 610.1 L395.6 609.1 L395.7 607.7 L395.8 606.2 L396 604.5 L396.1 602.8 L396.3 601.2 L396.6 599.8 L396.9 598.6 L397.2 597.4 L397.6 596.1 L398.1 595 L398.6 593.8 L399.1 592.7 L399.7 591.5 L400.4 590.4 L401.2 589.2 L402.2 587.9 L403.1 586.7 L404.2 585.5 L405.3 584.2 L406.6 583 L408 581.7 L409.5 580.3 L411.1 578.9 L412.9 577.4 L414.8 576 L416.8 574.4 L418.9 572.9 L421.2 571.4 L423.6 569.8 L426.1 568.2 L428.9 566.6 L431.8 565 L435.1 563.3 L438.6 561.6 L442.2 559.9 L446 558.2 L449.7 556.5 L453.4 554.7 L456.9 553.1 L460.3 551.5 L463.8 549.9 L467.2 548.3 L470.6 546.7 L474 545.2 L477.3 543.6 L480.4 542 L483.4 540.4 L486.1 538.7 L488.7 537.1 L491.2 535.5 L493.5 533.9 L495.7 532.3 L497.7 530.7 L499.7 529.1 L501.6 527.6 L503.4 525.9 L505.3 524.1 L506.9 522.3 L508.5 520.6 L509.9 519 L511 517.5 L512 516.4 L512.8 515.5 L507.2 510.5 L506.4 511.4 L505.3 512.6 L504.1 513.9 L502.7 515.4 L501.3 517 L499.7 518.5 L498.1 520 L496.4 521.4 L494.7 522.8 L492.8 524.2 L490.8 525.7 L488.7 527.1 L486.6 528.5 L484.2 530 L481.8 531.4 L479.2 532.8 L476.5 534.3 L473.5 535.7 L470.3 537.2 L467 538.7 L463.6 540.2 L460.1 541.8 L456.6 543.3 L453.1 544.9 L449.6 546.5 L445.9 548.2 L442.2 549.9 L438.4 551.6 L434.7 553.3 L431 555 L427.6 556.7 L424.3 558.4 L421.4 560 L418.6 561.7 L415.9 563.3 L413.5 564.9 L411.1 566.5 L408.9 568.1 L406.9 569.6 L404.9 571.1 L403 572.6 L401.2 574.1 L399.6 575.5 L398 577 L396.6 578.4 L395.2 579.9 L394 581.3 L392.8 582.8 L391.6 584.4 L390.6 585.9 L389.6 587.4 L388.8 589 L388 590.6 L387.3 592.2 L386.7 593.7 L386.1 595.4 L385.6 597.4 L385.2 599.4 L384.9 601.4 L384.6 603.4 L384.5 605.2 L384.3 606.7 L384.2 608 L384.1 608.9Z" fill="#a23cf3"/>
<polygon points="501.3,505.6 516.9,503 521.4,517.2 513.8,511.5 507.5,509.5" fill="#a23cf3"/>
<g id="debris">
<polygon points="386,650 382,618 384,590 390,572 394,556 397,541 402,550 408,517 413,542 418,530 424,552 432,545 440,560 452,556 462,562 472,570 481,576 492,588 500,595 506,618 510,640 507,652 500,648 494,660 486,650 478,664 469,651 461,658 452,647 443,662 437,652 427,664 417,652 409,662 399,651 392,659" fill="#ababab" filter="url(#b5)" opacity="0.8"/>
<path d="M396 636 L394.6 633.2 L393.7 629.8 L393.2 626 L393 621.9 L393.1 617.7 L393.3 613.5 L393.6 609.6 L394 606 L394.5 602.6 L395.2 599.3 L396 596 L397 592.9 L398.1 589.9 L399.3 587 L400.6 584.4 L402 582 L403.4 579.8 L404.8 577.8 L406.4 575.9 L408 574.2 L409.8 572.8 L411.7 571.6 L413.7 570.7 L416 570 L418.6 569.8 L421.4 570 L424.5 570.5 L427.8 571.2 L431 572.1 L434.2 572.9 L437.2 573.6 L440 574 L442.6 574.1 L445 574.1 L447.3 573.9 L449.5 573.8 L451.7 573.6 L453.8 573.5 L455.9 573.6 L458 574 L460.1 574.6 L462.2 575.3 L464.2 576.2 L466.2 577.1 L468.2 578.2 L470.2 579.4 L472.1 580.7 L474 582 L475.9 583.4 L477.7 584.9 L479.6 586.5 L481.4 588.2 L483.1 590 L484.8 591.9 L486.5 593.9 L488 596 L489.5 598.2 L490.9 600.6 L492.3 603.1 L493.6 605.6 L494.9 608.2 L496 610.9 L497.1 613.5 L498 616 L499 618.6 L500 621.2 L501.1 623.9 L502 626.6 L502.7 629.2 L503 631.7 L502.8 634 L502 636 L500.5 637.8 L498.5 639.5 L496 641.1 L493.1 642.5 L490 643.7 L486.7 644.7 L483.3 645.5 L480 646 L476.6 646.1 L473.1 645.8 L469.3 645.2 L465.5 644.4 L461.6 643.5 L457.7 642.8 L453.8 642.2 L450 642 L446.2 642.2 L442.4 642.8 L438.5 643.5 L434.6 644.4 L430.8 645.2 L427.1 645.8 L423.5 646.1 L420 646 L416.6 645.6 L413.1 645 L409.6 644.2 L406.2 643.1 L403.1 641.8 L400.3 640.2 L397.9 638.3Z" fill="#b0b0b0" filter="url(#b6)" opacity="0.9"/>
<path d="M452 606 L453.1 604.1 L454.8 602.6 L456.9 601.4 L459.4 600.6 L462 600.1 L464.8 599.9 L467.5 599.8 L470 600 L472.5 600.4 L475.2 601.2 L478 602.2 L480.8 603.5 L483.4 605 L485.9 606.6 L488.2 608.3 L490 610 L491.6 611.9 L493 614.1 L494.3 616.4 L495.4 618.9 L496.1 621.3 L496.5 623.7 L496.5 626 L496 628 L494.9 629.9 L493.2 631.8 L491.1 633.7 L488.6 635.5 L486 637.1 L483.2 638.4 L480.5 639.4 L478 640 L475.5 640.3 L472.8 640.3 L470 640 L467.2 639.5 L464.6 638.7 L462.1 637.5 L459.8 635.9 L458 634 L456.4 631.4 L455 628 L453.7 624.1 L452.6 620 L451.9 615.9 L451.5 612 L451.5 608.6Z" fill="#8c8c8c" filter="url(#b5)" opacity="0.6"/>
<path d="M430 580 L431.4 578.6 L433.3 577.2 L435.5 576.1 L438 575.1 L440.6 574.4 L443.2 574 L445.7 573.8 L448 574 L450.2 574.6 L452.6 575.6 L454.9 576.9 L457.2 578.5 L459.4 580.3 L461.3 582.2 L462.9 584.1 L464 586 L464.7 588.1 L465.1 590.4 L465.3 592.9 L465.1 595.5 L464.7 598 L464 600.3 L463.1 602.4 L462 604 L460.5 605.3 L458.5 606.3 L456.2 607.1 L453.8 607.8 L451.2 608.1 L448.6 608.3 L446.2 608.3 L444 608 L442 607.5 L439.9 606.7 L437.8 605.6 L435.9 604.4 L434 603 L432.4 601.4 L431.1 599.7 L430 598 L429.2 596.1 L428.6 593.8 L428.2 591.3 L428 588.8 L428.1 586.2 L428.4 583.8 L429 581.7Z" fill="#c6c6c6" filter="url(#b5)" opacity="0.6"/>
<path d="M404 600 L405.2 598 L406.7 596.1 L408.4 594.3 L410.2 592.8 L412.2 591.5 L414.2 590.5 L416.2 590 L418 590 L419.9 590.5 L421.9 591.5 L424 593 L426 594.8 L427.9 596.8 L429.6 599.1 L431 601.5 L432 604 L432.6 606.8 L433 610.1 L433.1 613.8 L433 617.5 L432.6 621.2 L432 624.6 L431.1 627.6 L430 630 L428.5 631.8 L426.4 633.4 L424.1 634.6 L421.5 635.5 L418.9 636.1 L416.3 636.4 L414 636.3 L412 636 L410.3 635.3 L408.7 634.1 L407.1 632.6 L405.8 630.8 L404.5 628.7 L403.5 626.5 L402.6 624.3 L402 622 L401.6 619.6 L401.4 616.8 L401.3 613.8 L401.5 610.8 L401.8 607.7 L402.4 604.8 L403.1 602.2Z" fill="#9e9e9e" filter="url(#b4)" opacity="0.35"/>
<polygon points="424,646 430,602 436,646" fill="#8e8e8e" filter="url(#b3)" opacity="0.4"/>
<polygon points="440,650 446,614 452,650" fill="#c4c4c4" filter="url(#b3)" opacity="0.4"/>
<polygon points="456,644 462,614 468,644" fill="#8e8e8e" filter="url(#b3)" opacity="0.4"/>
<polygon points="472,648 478,610 484,648" fill="#c4c4c4" filter="url(#b3)" opacity="0.4"/>
<polygon points="408,646 414,598 420,646" fill="#c0c0c0" filter="url(#b3)" opacity="0.4"/>
<polygon points="486,644 492,616 498,644" fill="#8e8e8e" filter="url(#b3)" opacity="0.4"/>
<polygon points="396,644 402,592 408,644" fill="#949494" filter="url(#b3)" opacity="0.4"/>
<polygon points="464,655 470,635 476,655" fill="#b0b0b0" filter="url(#b3)" opacity="0.4"/>
<polygon points="432,658 438,636 444,658" fill="#b0b0b0" filter="url(#b3)" opacity="0.4"/>
<polygon points="416,656 422,636 428,656" fill="#b0b0b0" filter="url(#b3)" opacity="0.4"/>
</g>
<path d="M458 632 C466.5 637 470 647 463.5 653.5 L464.5 656.5 L448 652 L458 646 L459 649.5 C463 645.5 462.5 638.5 456.5 634 Z" fill="#efdc3e" opacity="0.75"/>
<linearGradient id="gP3" gradientUnits="userSpaceOnUse" x1="390" y1="608" x2="470" y2="545"><stop offset="0" stop-color="#b45cf5" stop-opacity="0.5"/><stop offset="0.5" stop-color="#ac4ef4" stop-opacity="0.5"/><stop offset="0.72" stop-color="#a23cf3" stop-opacity="1"/><stop offset="1" stop-color="#a23cf3" stop-opacity="1"/></linearGradient>
<path d="M395.5 610.1 L395.6 609.1 L395.7 607.7 L395.8 606.2 L396 604.5 L396.1 602.8 L396.3 601.2 L396.6 599.8 L396.9 598.6 L397.2 597.4 L397.6 596.1 L398.1 595 L398.6 593.8 L399.1 592.7 L399.7 591.5 L400.4 590.4 L401.2 589.2 L402.2 587.9 L403.1 586.7 L404.2 585.5 L405.3 584.2 L406.6 583 L408 581.7 L409.5 580.3 L411.1 578.9 L412.9 577.4 L414.8 576 L416.8 574.4 L418.9 572.9 L421.2 571.4 L423.6 569.8 L426.1 568.2 L428.9 566.6 L431.8 565 L435.1 563.3 L438.6 561.6 L442.2 559.9 L446 558.2 L449.7 556.5 L453.4 554.7 L456.9 553.1 L460.3 551.5 L463.8 549.9 L467.2 548.3 L470.6 546.7 L474 545.2 L477.3 543.6 L480.4 542 L483.4 540.4 L486.1 538.7 L488.7 537.1 L491.2 535.5 L493.5 533.9 L495.7 532.3 L497.7 530.7 L499.7 529.1 L501.6 527.6 L503.4 525.9 L505.3 524.1 L506.9 522.3 L508.5 520.6 L509.9 519 L511 517.5 L512 516.4 L512.8 515.5 L507.2 510.5 L506.4 511.4 L505.3 512.6 L504.1 513.9 L502.7 515.4 L501.3 517 L499.7 518.5 L498.1 520 L496.4 521.4 L494.7 522.8 L492.8 524.2 L490.8 525.7 L488.7 527.1 L486.6 528.5 L484.2 530 L481.8 531.4 L479.2 532.8 L476.5 534.3 L473.5 535.7 L470.3 537.2 L467 538.7 L463.6 540.2 L460.1 541.8 L456.6 543.3 L453.1 544.9 L449.6 546.5 L445.9 548.2 L442.2 549.9 L438.4 551.6 L434.7 553.3 L431 555 L427.6 556.7 L424.3 558.4 L421.4 560 L418.6 561.7 L415.9 563.3 L413.5 564.9 L411.1 566.5 L408.9 568.1 L406.9 569.6 L404.9 571.1 L403 572.6 L401.2 574.1 L399.6 575.5 L398 577 L396.6 578.4 L395.2 579.9 L394 581.3 L392.8 582.8 L391.6 584.4 L390.6 585.9 L389.6 587.4 L388.8 589 L388 590.6 L387.3 592.2 L386.7 593.7 L386.1 595.4 L385.6 597.4 L385.2 599.4 L384.9 601.4 L384.6 603.4 L384.5 605.2 L384.3 606.7 L384.2 608 L384.1 608.9Z" fill="url(#gP3)"/>
<path d="M378.7 698.3 L378.3 697.6 L377.7 696.7 L376.9 695.6 L376.2 694.4 L375.4 693.2 L374.8 691.9 L374.3 690.8 L374.1 689.7 L374 688.7 L374 687.7 L374 686.7 L374.2 685.7 L374.5 684.8 L374.9 683.9 L375.5 682.9 L376.2 682 L377.2 681.1 L378.5 680.1 L380 679.1 L381.6 678.1 L383.4 677.1 L385.2 676.1 L387.1 675.2 L388.9 674.4 L390.7 673.7 L392.5 673 L394.5 672.4 L396.5 671.8 L398.5 671.3 L400.5 670.8 L402.5 670.3 L404.5 669.8 L406.5 669.4 L408.5 669 L410.5 668.7 L412.5 668.3 L414.5 668 L416.5 667.8 L418.4 667.5 L420.2 667.3 L422 667.1 L423.9 667 L425.8 666.8 L427.6 666.7 L429.3 666.7 L430.8 666.6 L432.1 666.5 L433.1 666.5 L432.9 662.3 L432 662.3 L430.7 662.3 L429.2 662.3 L427.4 662.4 L425.6 662.4 L423.6 662.5 L421.7 662.6 L419.8 662.7 L417.9 662.9 L415.9 663.1 L413.9 663.3 L411.8 663.6 L409.7 663.9 L407.6 664.3 L405.5 664.7 L403.5 665.2 L401.4 665.7 L399.3 666.2 L397.3 666.8 L395.2 667.4 L393.1 668.1 L391 668.9 L389 669.7 L387.1 670.6 L385.2 671.6 L383.3 672.6 L381.5 673.7 L379.6 674.9 L377.9 676.2 L376.3 677.4 L374.9 678.7 L373.8 680 L372.9 681.3 L372.2 682.6 L371.8 683.9 L371.5 685.3 L371.4 686.6 L371.5 687.8 L371.6 689 L371.9 690.3 L372.4 691.5 L373.2 692.8 L374.1 694 L375.1 695.2 L376.1 696.3 L377 697.3 L377.7 698.1 L378.3 698.7Z" fill="#ffff00"/>
<polygon points="431.2,660.2 442.5,664.3 431.6,668.8 433.4,664.5" fill="#ffff00"/>
<path d="M568.4 669.3 L567.1 669.7 L565.4 670.3 L563.4 671 L561.1 671.8 L558.8 672.6 L556.3 673.4 L554 674.1 L551.8 674.7 L549.7 675.2 L547.6 675.7 L545.6 676.1 L543.5 676.5 L541.4 676.8 L539.3 677.2 L537.1 677.4 L534.8 677.7 L532.5 678 L530 678.2 L527.5 678.4 L524.9 678.5 L522.4 678.7 L519.8 678.8 L517.4 678.8 L515 678.8 L512.7 678.8 L510.4 678.7 L508.1 678.5 L505.9 678.4 L503.8 678.2 L501.6 677.9 L499.5 677.7 L497.3 677.3 L495.2 676.9 L493.1 676.5 L491.1 676 L489 675.5 L486.9 675 L484.9 674.4 L482.8 673.8 L480.7 673.2 L478.4 672.6 L476.1 671.8 L473.6 671.1 L471.2 670.3 L468.9 669.6 L466.8 668.9 L465 668.3 L463.7 667.9 L462.3 672.1 L463.6 672.5 L465.3 673.2 L467.4 673.9 L469.7 674.7 L472.2 675.5 L474.6 676.4 L477.1 677.1 L479.3 677.8 L481.5 678.4 L483.6 679 L485.7 679.5 L487.9 680 L490 680.5 L492.2 681 L494.4 681.4 L496.7 681.7 L498.9 681.9 L501.2 682.1 L503.4 682.3 L505.7 682.4 L508 682.5 L510.3 682.5 L512.6 682.5 L515 682.4 L517.5 682.3 L520 682.1 L522.6 681.9 L525.2 681.6 L527.8 681.3 L530.3 681 L532.8 680.7 L535.2 680.3 L537.5 679.9 L539.7 679.5 L541.8 679 L543.9 678.6 L546 678 L548.1 677.5 L550.1 676.9 L552.2 676.3 L554.4 675.5 L556.8 674.7 L559.1 673.7 L561.5 672.7 L563.7 671.8 L565.7 671 L567.3 670.3 L568.6 669.7Z" fill="#ffff00"/>
<polygon points="464.2,665.4 452.8,666.8 459.6,673.6 462.5,669.8" fill="#ffff00"/>
<polygon points="525.3,159.5 544.7,161.3 542.6,183.6 551,185.3 530.6,199.4 513,181 523.3,181.5" fill="#fcee21"/>
<polygon points="513,271.8 530.6,273.5 528.2,295.6 536.3,297.5 514.7,311.7 498.8,293 509.5,293.6" fill="#fcee21"/>
<polygon points="481,375.9 499.4,381.2 491.6,402.6 501.2,405.9 476.5,415.8 464.1,394.6 474.2,397.2" fill="#fcee21"/>
<polygon points="445.4,469 461.2,473.2 454.2,490.9 463,495 440.8,504 431.2,484.5 439.6,486.6" fill="#fcee21"/>
<path d="M503.3 66.3 L496.2 66.2 L489.1 66.2 L482.2 66.2 L475.4 66.3 L468.7 66.4 L462.1 66.6 L455.7 66.9 L449.5 67.1 L443.5 67.5 L437.6 67.8 L432 68.3 L426.7 68.7 L421.6 69.2 L416.7 69.8 L412.1 70.4 L407.8 71 L403.8 71.7 L400.1 72.4 L396.7 73.1 L393.6 73.9 L390.9 74.7 L388.4 75.5 L386.4 76.4 L384.6 77.3 L383.3 78.2 L382.2 79.1 L381.5 80 L381.2 81 L381.3 82 L381.7 83 L382.4 84 L383.5 85 L385 86 L386.8 87 L388.9 88 L391.4 89 L394.2 90 L397.4 91 L400.8 92 L404.6 92.9 L408.7 93.9 L413 94.8 L417.7 95.7 L422.6 96.6 L427.8 97.5 L433.2 98.4 L438.8 99.2 L444.7 100 L450.7 100.7 L457 101.4 L463.4 102.1 L470 102.8 L476.7 103.4 L483.6 103.9 L490.6 104.5 L497.6 104.9 L504.8 105.4 L511.9 105.8 L519.2 106.1 L526.4 106.4 L526.7 101.1 L520 100.9 L513.2 100.6 L506.6 100.2 L499.9 99.8 L493.3 99.4 L486.9 99 L480.5 98.5 L474.2 98 L468.1 97.5 L462.1 97 L456.3 96.4 L450.6 95.8 L445.1 95.2 L439.9 94.5 L434.8 93.9 L430 93.2 L425.4 92.5 L421.1 91.8 L417.1 91.1 L413.3 90.4 L409.7 89.6 L406.5 88.9 L403.6 88.1 L400.9 87.4 L398.6 86.6 L396.6 85.9 L394.9 85.1 L393.6 84.4 L392.5 83.6 L391.8 82.9 L391.5 82.2 L391.4 81.5 L391.7 80.8 L392.3 80.1 L393.3 79.4 L394.6 78.7 L396.2 78.1 L398.1 77.5 L400.3 76.9 L402.9 76.3 L405.8 75.8 L408.9 75.3 L412.4 74.8 L416.1 74.3 L420.1 73.9 L424.4 73.5 L428.9 73.1 L433.6 72.8 L438.6 72.5 L443.8 72.2 L449.2 72 L454.8 71.8 L460.6 71.6 L466.6 71.5 L472.7 71.4 L478.9 71.4 L485.3 71.4 L491.7 71.4 L498.3 71.4 L504.9 71.5Z" fill="#ffff00"/>
<polygon points="522.6,97.2 545.4,103.3 524.2,108 526.5,102.6" fill="#ffff00"/>
<path d="M553.6 107.1 L560.7 107.2 L567.8 107.2 L574.8 107.2 L581.6 107.1 L588.3 107 L594.9 106.8 L601.3 106.6 L607.6 106.3 L613.6 106 L619.5 105.6 L625.1 105.2 L630.5 104.7 L635.6 104.2 L640.5 103.6 L645.1 103.1 L649.4 102.4 L653.5 101.8 L657.2 101.1 L660.6 100.3 L663.7 99.5 L666.5 98.7 L668.9 97.9 L671 97 L672.7 96.2 L674.1 95.2 L675.2 94.3 L675.9 93.4 L676.2 92.4 L676.1 91.4 L675.7 90.4 L675 89.4 L673.9 88.4 L672.4 87.4 L670.6 86.4 L668.5 85.4 L666 84.4 L663.1 83.4 L660 82.4 L656.5 81.4 L652.7 80.4 L648.6 79.5 L644.2 78.5 L639.6 77.6 L634.6 76.7 L629.5 75.9 L624 75 L618.3 74.2 L612.5 73.4 L606.4 72.7 L600.1 71.9 L593.6 71.2 L587 70.6 L580.3 70 L573.4 69.4 L566.4 68.9 L559.3 68.4 L552.2 68 L545 67.6 L537.7 67.2 L530.5 67 L530.2 72.2 L537 72.5 L543.7 72.8 L550.4 73.2 L557.1 73.5 L563.7 73.9 L570.2 74.4 L576.6 74.8 L582.9 75.3 L589 75.9 L595 76.4 L600.9 77 L606.6 77.6 L612 78.2 L617.3 78.8 L622.4 79.5 L627.2 80.2 L631.8 80.9 L636.2 81.6 L640.2 82.3 L644.1 83 L647.6 83.8 L650.8 84.5 L653.8 85.2 L656.4 86 L658.8 86.8 L660.8 87.5 L662.5 88.3 L663.8 89 L664.9 89.8 L665.6 90.5 L665.9 91.2 L666 92 L665.7 92.7 L665.1 93.3 L664.1 94 L662.8 94.7 L661.2 95.3 L659.3 95.9 L657 96.5 L654.4 97.1 L651.6 97.6 L648.4 98.1 L644.9 98.6 L641.2 99.1 L637.2 99.5 L632.9 99.9 L628.3 100.3 L623.6 100.6 L618.6 100.9 L613.3 101.2 L607.9 101.4 L602.3 101.6 L596.4 101.8 L590.5 101.9 L584.4 102 L578.1 102 L571.7 102 L565.2 102 L558.7 101.9 L552 101.8Z" fill="#ffff00"/>
<polygon points="531.8,64.8 511.8,70.2 534.2,75.8 531.5,70.4" fill="#ffff00"/>
<path d="M376.2 292.1 L377.7 290.8 L379.7 289.2 L382 287.3 L384.6 285.2 L387.3 283 L390.1 280.8 L392.9 278.7 L395.5 276.7 L398.2 274.9 L400.9 273 L403.7 271.2 L406.5 269.4 L409.4 267.6 L412.5 265.8 L415.6 264 L418.8 262.2 L422.2 260.4 L425.6 258.5 L429.2 256.7 L432.8 254.9 L436.6 253.1 L440.4 251.3 L444.3 249.5 L448.3 247.7 L452.2 246 L456.2 244.4 L460.2 242.8 L464.3 241.1 L468.6 239.5 L473.1 237.8 L477.8 236.1 L482.9 234.3 L488.3 232.4 L493.9 230.4 L499.8 228.4 L505.9 226.3 L512.2 224.2 L518.6 222.1 L525.1 220 L531.7 217.8 L538.4 215.7 L545.3 213.5 L552.4 211.4 L559.6 209.2 L566.8 207 L574.1 204.8 L581.4 202.6 L588.6 200.5 L595.9 198.3 L603.1 196.2 L610.4 194.1 L617.7 192 L625.1 189.9 L632.3 187.8 L639.5 185.7 L646.6 183.7 L653.8 181.6 L661 179.6 L668.3 177.5 L675.6 175.5 L682.6 173.5 L689.4 171.5 L695.8 169.6 L701.8 167.7 L707.5 165.8 L713 163.8 L718.3 161.9 L723.1 160 L727.6 158.2 L731.5 156.6 L734.8 155.3 L737.3 154.3 L733.7 144.3 L731 145.2 L727.7 146.4 L723.7 147.8 L719.2 149.3 L714.3 151 L709.1 152.8 L703.7 154.5 L698.2 156.3 L692.3 158.1 L686 160 L679.3 161.9 L672.3 164 L665.1 166 L657.8 168.1 L650.5 170.2 L643.4 172.3 L636.2 174.4 L629.1 176.5 L621.8 178.7 L614.5 180.8 L607.2 183 L599.9 185.2 L592.6 187.4 L585.4 189.5 L578.1 191.7 L570.9 193.9 L563.6 196.2 L556.3 198.4 L549.1 200.6 L542 202.8 L535 205 L528.3 207.2 L521.7 209.3 L515.1 211.5 L508.7 213.6 L502.3 215.7 L496.2 217.8 L490.3 219.8 L484.5 221.8 L479.1 223.7 L474 225.6 L469.2 227.3 L464.7 229 L460.3 230.6 L456.1 232.2 L451.9 233.9 L447.8 235.5 L443.7 237.3 L439.6 239 L435.6 240.8 L431.7 242.7 L427.8 244.5 L424 246.3 L420.3 248.2 L416.7 250 L413.2 251.8 L409.8 253.6 L406.5 255.4 L403.3 257.2 L400.2 259 L397.2 260.8 L394.2 262.6 L391.3 264.4 L388.5 266.3 L385.5 268.3 L382.4 270.4 L379.4 272.6 L376.4 274.7 L373.7 276.7 L371.3 278.5 L369.3 280 L367.8 281.1Z" fill="url(#gP1)"/>
<polygon points="726.6,140.4 750.2,141.9 745.9,158.9 739.8,153.2 731.5,145.2" fill="#9a3cf5"/>
<path d="M368.4 462.8 L365.8 462.8 L362.3 462.8 L358.1 462.8 L353.6 462.8 L349.1 462.8 L345 462.8 L341 462.8 L336.9 462.8 L332.9 462.8 L328.9 462.7 L325.2 462.7 L322 462.6 L319.2 462.5 L316.8 462.4 L314.6 462.2 L312.7 462 L310.8 461.8 L309 461.6 L307.3 461.3 L305.7 461.1 L304.2 460.8 L302.8 460.5 L301.4 460.1 L300 459.6 L298.6 459 L297.1 458.4 L295.7 457.7 L294.4 457 L293.1 456.2 L292 455.5 L291 454.7 L290 454 L289.1 453.2 L288.4 452.4 L287.7 451.6 L287.2 450.8 L286.8 450.1 L286.6 449.4 L286.5 448.7 L286.4 448 L286.5 447.3 L286.6 446.6 L286.8 445.9 L287.1 445.2 L287.5 444.5 L287.9 443.8 L288.4 443.1 L289 442.4 L289.7 441.8 L290.4 441.2 L291.2 440.6 L292.1 440 L293 439.4 L294 438.8 L295 438.3 L295.9 437.8 L296.9 437.4 L298 436.9 L299.3 436.2 L301 435.3 L303 434.1 L305.4 432.6 L307.9 430.9 L310.6 429.2 L313.3 427.4 L316 425.8 L318.7 424.2 L321.4 422.7 L324.2 421.1 L327 419.6 L329.8 418.2 L332.5 416.8 L335.1 415.5 L337.7 414.3 L340.3 413.2 L342.8 412.1 L345.4 411.1 L348 410 L350.6 409 L353.1 408 L355.7 407 L358.3 406.1 L361 405.1 L363.8 404 L366.8 402.8 L369.9 401.6 L373.1 400.4 L376.4 399.1 L379.7 397.8 L383 396.6 L386.3 395.4 L389.7 394.2 L393.1 393 L396.5 391.8 L399.7 390.7 L402.8 389.6 L405.9 388.5 L409 387.4 L412 386.4 L414.7 385.4 L417 384.6 L418.7 384 L421.3 392.4 L420.2 392.7 L418.9 393 L417.2 393.5 L415.2 394 L413 394.7 L410.6 395.4 L407.8 396.3 L404.7 397.3 L401.3 398.4 L397.8 399.6 L394.4 400.8 L391 402 L387.7 403.2 L384.4 404.4 L381.1 405.6 L377.8 406.8 L374.6 408 L371.6 409.2 L368.8 410.4 L366.1 411.5 L363.6 412.7 L361.1 413.8 L358.6 415 L356 416.2 L353.4 417.5 L350.7 418.7 L348 420 L345.4 421.4 L342.8 422.7 L340.3 424 L337.9 425.3 L335.6 426.6 L333.4 428 L331.2 429.3 L329.1 430.6 L327 432 L324.9 433.4 L322.8 434.9 L320.7 436.4 L318.7 437.9 L316.9 439.2 L315.3 440.4 L313.9 441.4 L312.8 442.3 L311.7 443 L310.8 443.7 L310.1 444.3 L309.4 445 L308.8 445.6 L308.4 446.3 L308 446.8 L307.8 447.4 L307.7 447.9 L307.6 448.4 L307.6 448.9 L307.7 449.3 L307.9 449.7 L308.1 450.1 L308.5 450.4 L309 450.8 L309.6 451.1 L310.2 451.5 L311 451.8 L311.8 452.1 L312.8 452.4 L314 452.6 L315.2 452.8 L316.6 453 L318 453.1 L319.7 453.2 L321.6 453.3 L324 453.4 L326.8 453.5 L330.1 453.6 L333.7 453.6 L337.4 453.7 L341.2 453.7 L345 453.8 L349 453.8 L353.5 453.9 L358 453.9 L362.2 454 L365.8 454 L368.4 454Z" fill="url(#gP2)"/>
<path d="M401.5 398.9 L402.3 398.6 L403.3 398.2 L404.4 397.8 L405.7 397.4 L407.2 396.9 L409 396.3 L411 395.6 L413.3 394.9 L416.1 394.1 L419.2 393.1 L422.6 392 L426.3 390.9 L430.1 389.8 L433.9 388.6 L437.7 387.5 L441.2 386.5 L444.4 385.6 L447 384.8 L449.4 384.1 L451.9 383.4 L454.9 382.6 L458.5 381.6 L463 380.3 L468.9 378.7 L476.1 376.8 L484.5 374.5 L493.9 371.9 L503.9 369.2 L514.4 366.3 L525.1 363.4 L535.8 360.6 L546.1 357.8 L556.5 355.1 L567.2 352.3 L578.1 349.5 L589.1 346.6 L600 343.8 L610.8 341 L621.2 338.2 L631.2 335.4 L640.9 332.7 L650.3 330 L659.5 327.3 L668.5 324.6 L677.2 322 L685.6 319.4 L693.7 316.9 L701.4 314.4 L708.8 311.9 L716 309.5 L722.8 307.1 L729.4 304.8 L735.5 302.5 L741.3 300.3 L746.7 298.2 L751.7 296.2 L756.2 294.2 L760.2 292.4 L763.8 290.7 L767 289 L769.9 287.4 L772.5 286 L774.8 284.6 L777.1 283.2 L779.3 281.9 L781.3 280.6 L783 279.4 L784.5 278.3 L785.7 277.3 L786.8 276.4 L787.6 275.7 L788.3 275.2 L783.7 268.8 L782.9 269.4 L781.9 270.1 L780.9 270.8 L779.6 271.7 L778.3 272.6 L776.7 273.6 L774.9 274.6 L772.9 275.8 L770.6 277 L768.2 278.3 L765.6 279.7 L762.9 281.2 L759.8 282.7 L756.5 284.3 L752.6 286 L748.3 287.8 L743.4 289.8 L738.1 291.8 L732.4 294 L726.3 296.2 L719.8 298.5 L713 300.8 L705.9 303.2 L698.6 305.6 L690.9 308.1 L682.9 310.6 L674.5 313.2 L665.9 315.8 L656.9 318.5 L647.7 321.1 L638.3 323.9 L628.8 326.6 L618.8 329.3 L608.4 332.1 L597.7 335 L586.8 337.9 L575.8 340.7 L564.9 343.6 L554.2 346.4 L543.9 349.2 L533.5 352 L522.8 354.9 L512.1 357.8 L501.6 360.7 L491.6 363.4 L482.2 366 L473.8 368.3 L466.5 370.3 L460.7 371.8 L456.1 373.1 L452.5 374.1 L449.6 374.9 L447 375.6 L444.6 376.3 L441.9 377 L438.8 377.9 L435.2 379 L431.4 380.1 L427.5 381.2 L423.7 382.3 L420 383.4 L416.6 384.5 L413.4 385.5 L410.7 386.3 L408.3 387 L406.2 387.7 L404.4 388.3 L402.8 388.9 L401.4 389.3 L400.3 389.7 L399.3 390.1 L398.5 390.3Z" fill="url(#gP2)"/>
<polygon points="761.8,277.2 782.4,263.8 805.6,270.9 792,273.2 783,279 772.5,276" fill="#9a3cf5"/>
<g id="lightning-mid">
<path d="M455.1 412.5 L459.4 414.4 L461.4 417.5 L463.3 420.2 L464.3 424.1 L466.8 426.8 L469.1 429 L471.1 434.8 L475 437.3 L478.8 439.7 L484.7 442.8 L490.5 445.5 L494.4 447.8 L498.3 450.3 L503.3 453.3 L508 456.2 L511.8 458.3 L515.7 460 L519.6 461.4 L523.5 463 L526.6 466.5 L529.3 469.8 L532.4 471.5 L535.1 472.7 L537.1 475 L539 477.5 L540.2 480.4 L541 483.3 L543.3 485.1 L545.8 486.3 M508 456.2 L509.1 459.5 L509.9 462 L511.5 464.1 L512.8 465.9 M523.5 463 L524.7 466.5 L525.4 469.8 L526.2 472.3 M535.1 472.7 L533.6 475.4 L532.2 477.5 L530.9 479.5 M541 483.3 L540 486.3 M478.8 439.7 L478.1 442.8 L477.9 445.5 L480 448.2 L481.7 450.3 L485 451.5 L488.5 452.3 L490.1 454.8 L491.5 457.1 L494 458.7 L496.3 460 L497.1 463.3 L497.3 466.8 L496.7 469.6 L496.3 471.7 L497.9 474.6 L499.2 477.5 L501.7 479.7 L504.1 481.4 L503.3 484.3 L503.1 487.2 L504.5 489.8 L506 492.1 L508.9 494.6 L511.8 496.9 L514.8 499.5 L517.7 501.8 L516.9 504.9 L516.7 507.6 L517.3 510.7 L517.7 513.4 L518.8 516.6 L519.6 519.3 L518.8 521.2 L518.6 523.2 L520 526.3 L521.6 529 L523.5 531.5 L525.4 533.8 L528.3 536 L531.3 537.7 L534.2 538.9 L537.1 539.7 L540.2 541 L542.9 542.6 L547.8 545.5 M488.5 452.3 L486.6 454.8 L484.7 457.1 L483.1 459.5 L481.7 462 L479.2 464.9 L476.9 467.8 L475 470 L473 471.7 L469.1 471.3 L465.2 470.7 L462.1 469.2 L459.4 467.8 M473 471.7 L474.2 475.4 L475 478.5 L475.3 481.6 L475.3 484.3 M481.7 462 L482.3 465.3 L482.7 468.8 L484.3 471.9 L485.6 474.6 M476.9 467.8 L470.3 470.3 L463.3 472.7 L460.4 475.6 M499.2 477.5 L497.1 479.3 L495.3 480.4 L493.4 479.5 M499.2 477.5 L498.1 480.4 L497.3 483.3 L496.3 486.3 M504.1 481.4 L507 483.9 L509.9 486.3 L513.8 487 L517.7 487.2 L521.6 488.6 L525.4 490.1 M517.7 487.2 L520.8 490.9 L523.5 494 L527 497.1 L530.3 499.9 L532.8 502.4 L535.1 504.7 L538.1 507.2 L541 509.6 L543.7 510.7 L545.8 511.5 L547.6 513.4 L548.7 515.4 M530.3 499.9 L530.9 503.7 L531.3 507.6 M541 509.6 L542.5 511.5 L543.9 513.4 M511.8 496.9 L515 497.5 L517.7 497.9 M517.7 501.8 L519.6 505.7 L521.6 509.6 L523.9 511.5 L526.4 513.4 M516.7 507.6 L514.8 509.6 L512.8 511.5 L510.3 514.2 L508 516.4 L505.2 516.9 L502.1 517.3 L500.6 520.8 L499.2 524.1 M508 516.4 L508.5 520 L508.9 523.2 M512.8 511.5 L509.9 511.9 L507 511.5 M521.6 529 L525.4 529.2 L529.3 529 L532.8 528.2 L536.1 527 M525.4 533.8 L524.3 536.4 L523.5 538.7 L523.1 541 L523.1 543.5 M531.3 537.7 L530.1 539.1 L529.3 540.6 M528.3 536 L531.3 534.8 L533.2 533.3" fill="none" stroke="#efd53c" stroke-width="1.1" stroke-linejoin="round" stroke-linecap="round"/>
</g>
<line x1="576.3" y1="534.6" x2="481.8" y2="592.6" stroke="#111" stroke-width="1.1"/>
<g id="legend" opacity="0.999">
<polygon points="774,375.7 793,375.7 793,399 803.6,399 783.6,416.9 763.6,399 774,399" fill="#08a6fc"/>
<polygon points="704.6,449.7 739.6,440 739.6,445.8 803.5,445.2 803.5,453.5 739.6,453.3 739.6,458.9" fill="#000"/>
<polygon points="783.6,491.3 803.6,509.4 793,509.4 793,531.3 774,531.3 774,509.4 763.6,509.4" fill="#ff0404"/>
<text x="828.2" y="404.5" font-size="33.5" textLength="108.6" lengthAdjust="spacingAndGlyphs">Cold air</text>
<text x="828.6" y="460.2" font-size="33.5" textLength="173.6" lengthAdjust="spacingAndGlyphs">Strong wind</text>
<text x="827.6" y="522.8" font-size="33.5" textLength="94.6" lengthAdjust="spacingAndGlyphs">Hot air</text>
<text x="586.4" y="522.9" font-size="26.5" textLength="101.2" lengthAdjust="spacingAndGlyphs">Cloud of</text>
<text x="587.2" y="550.1" font-size="26.5" textLength="181.2" lengthAdjust="spacingAndGlyphs">debris and dust</text>
</g>
</svg></body></html>
